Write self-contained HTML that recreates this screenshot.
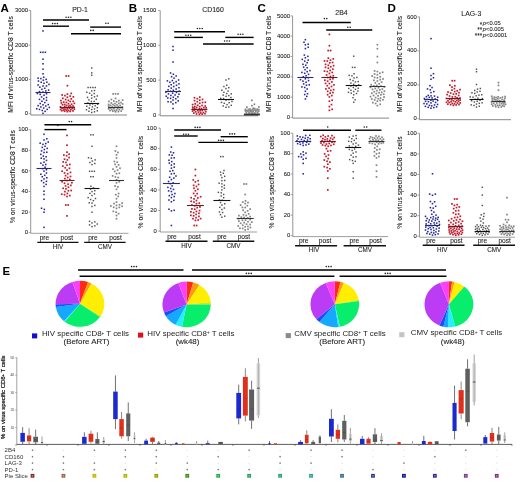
<!DOCTYPE html>
<html><head><meta charset="utf-8"><style>
html,body{margin:0;padding:0;background:#fff;overflow:hidden;}
svg{display:block;font-family:"Liberation Sans", sans-serif;filter:blur(0.3px);}
</style></head><body>
<svg width="520" height="482" viewBox="0 0 520 482">
<rect width="520" height="482" fill="#fff"/>
<text x="0.40" y="11.70" font-size="11.6" text-anchor="start" fill="#000" font-weight="bold"  >A</text>
<text x="128.80" y="12.00" font-size="11.6" text-anchor="start" fill="#000" font-weight="bold"  >B</text>
<text x="257.60" y="12.00" font-size="11.6" text-anchor="start" fill="#000" font-weight="bold"  >C</text>
<text x="387.60" y="12.00" font-size="11.6" text-anchor="start" fill="#000" font-weight="bold"  >D</text>
<text x="80.00" y="11.68" font-size="6.9" text-anchor="middle" fill="#222" font-weight="normal" stroke="#222" stroke-width="0.08" >PD-1</text>
<text x="213.00" y="11.58" font-size="6.9" text-anchor="middle" fill="#222" font-weight="normal" stroke="#222" stroke-width="0.08" >CD160</text>
<text x="341.50" y="15.38" font-size="6.9" text-anchor="middle" fill="#222" font-weight="normal" stroke="#222" stroke-width="0.08" >2B4</text>
<text x="471.30" y="15.58" font-size="6.9" text-anchor="middle" fill="#222" font-weight="normal" stroke="#222" stroke-width="0.08" >LAG-3</text>
<text x="482.20" y="26.60" font-size="6.4" text-anchor="end" fill="#222" font-weight="normal" stroke="#222" stroke-width="0.08" >*</text>
<text x="482.20" y="32.00" font-size="6.4" text-anchor="end" fill="#222" font-weight="normal" stroke="#222" stroke-width="0.08" >**</text>
<text x="482.20" y="37.80" font-size="6.4" text-anchor="end" fill="#222" font-weight="normal" stroke="#222" stroke-width="0.08" >***</text>
<text x="482.80" y="25.49" font-size="5.8" text-anchor="start" fill="#222" font-weight="normal" stroke="#222" stroke-width="0.08" ><tspan font-style="italic">p</tspan>&lt;0.05</text>
<text x="482.80" y="30.89" font-size="5.8" text-anchor="start" fill="#222" font-weight="normal" stroke="#222" stroke-width="0.08" ><tspan font-style="italic">p</tspan>&lt;0.005</text>
<text x="482.80" y="36.69" font-size="5.8" text-anchor="start" fill="#222" font-weight="normal" stroke="#222" stroke-width="0.08" ><tspan font-style="italic">p</tspan>&lt;0.0001</text>
<line x1="30.70" y1="10.40" x2="30.70" y2="115.00" stroke="#8a8a8a" stroke-width="0.9" />
<line x1="30.70" y1="115.00" x2="127.00" y2="115.00" stroke="#707070" stroke-width="0.85" />
<line x1="28.70" y1="10.40" x2="30.70" y2="10.40" stroke="#8a8a8a" stroke-width="0.8" />
<text x="28.10" y="12.02" font-size="5.9" text-anchor="end" fill="#222" font-weight="normal" stroke="#222" stroke-width="0.08" >3000</text>
<line x1="28.70" y1="45.20" x2="30.70" y2="45.20" stroke="#8a8a8a" stroke-width="0.8" />
<text x="28.10" y="46.82" font-size="5.9" text-anchor="end" fill="#222" font-weight="normal" stroke="#222" stroke-width="0.08" >2000</text>
<line x1="28.70" y1="79.50" x2="30.70" y2="79.50" stroke="#8a8a8a" stroke-width="0.8" />
<text x="28.10" y="81.12" font-size="5.9" text-anchor="end" fill="#222" font-weight="normal" stroke="#222" stroke-width="0.08" >1000</text>
<line x1="28.70" y1="113.40" x2="30.70" y2="113.40" stroke="#8a8a8a" stroke-width="0.8" />
<text x="28.10" y="115.02" font-size="5.9" text-anchor="end" fill="#222" font-weight="normal" stroke="#222" stroke-width="0.08" >0</text>
<rect x="42.23" y="30.12" width="1.55" height="1.55" fill="#24249c" />
<rect x="39.83" y="51.52" width="1.55" height="1.55" fill="#24249c" />
<rect x="42.23" y="51.52" width="1.55" height="1.55" fill="#24249c" />
<rect x="44.62" y="51.52" width="1.55" height="1.55" fill="#24249c" />
<rect x="42.23" y="58.43" width="1.55" height="1.55" fill="#24249c" />
<rect x="42.23" y="63.02" width="1.55" height="1.55" fill="#24249c" />
<rect x="42.23" y="68.42" width="1.55" height="1.55" fill="#24249c" />
<rect x="42.23" y="73.02" width="1.55" height="1.55" fill="#24249c" />
<rect x="42.23" y="112.57" width="1.55" height="1.55" fill="#24249c" />
<rect x="44.33" y="110.57" width="1.55" height="1.55" fill="#24249c" />
<rect x="41.52" y="109.73" width="1.55" height="1.55" fill="#24249c" />
<rect x="38.73" y="108.65" width="1.55" height="1.55" fill="#24249c" />
<rect x="46.43" y="108.61" width="1.55" height="1.55" fill="#24249c" />
<rect x="35.93" y="108.01" width="1.55" height="1.55" fill="#24249c" />
<rect x="42.93" y="107.21" width="1.55" height="1.55" fill="#24249c" />
<rect x="48.52" y="106.68" width="1.55" height="1.55" fill="#24249c" />
<rect x="40.12" y="106.13" width="1.55" height="1.55" fill="#24249c" />
<rect x="45.02" y="105.24" width="1.55" height="1.55" fill="#24249c" />
<rect x="37.33" y="104.91" width="1.55" height="1.55" fill="#24249c" />
<rect x="42.23" y="104.06" width="1.55" height="1.55" fill="#24249c" />
<rect x="47.48" y="103.81" width="1.55" height="1.55" fill="#24249c" />
<rect x="39.43" y="102.75" width="1.55" height="1.55" fill="#24249c" />
<rect x="43.98" y="101.79" width="1.55" height="1.55" fill="#24249c" />
<rect x="41.18" y="100.48" width="1.55" height="1.55" fill="#24249c" />
<rect x="45.73" y="99.57" width="1.55" height="1.55" fill="#24249c" />
<rect x="38.73" y="98.63" width="1.55" height="1.55" fill="#24249c" />
<rect x="42.93" y="98.06" width="1.55" height="1.55" fill="#24249c" />
<rect x="45.73" y="96.75" width="1.55" height="1.55" fill="#24249c" />
<rect x="40.83" y="96.18" width="1.55" height="1.55" fill="#24249c" />
<rect x="43.27" y="94.47" width="1.55" height="1.55" fill="#24249c" />
<rect x="39.43" y="93.61" width="1.55" height="1.55" fill="#24249c" />
<rect x="45.73" y="92.99" width="1.55" height="1.55" fill="#24249c" />
<rect x="36.62" y="92.70" width="1.55" height="1.55" fill="#24249c" />
<rect x="42.23" y="91.26" width="1.55" height="1.55" fill="#24249c" />
<rect x="38.73" y="90.84" width="1.55" height="1.55" fill="#24249c" />
<rect x="45.02" y="90.18" width="1.55" height="1.55" fill="#24249c" />
<rect x="47.83" y="89.31" width="1.55" height="1.55" fill="#24249c" />
<rect x="41.18" y="88.55" width="1.55" height="1.55" fill="#24249c" />
<rect x="43.98" y="87.50" width="1.55" height="1.55" fill="#24249c" />
<rect x="39.08" y="86.43" width="1.55" height="1.55" fill="#24249c" />
<rect x="42.23" y="85.23" width="1.55" height="1.55" fill="#24249c" />
<rect x="45.73" y="85.18" width="1.55" height="1.55" fill="#24249c" />
<rect x="37.33" y="84.23" width="1.55" height="1.55" fill="#24249c" />
<rect x="48.18" y="83.61" width="1.55" height="1.55" fill="#24249c" />
<rect x="43.27" y="82.56" width="1.55" height="1.55" fill="#24249c" />
<rect x="40.48" y="81.49" width="1.55" height="1.55" fill="#24249c" />
<rect x="46.08" y="81.43" width="1.55" height="1.55" fill="#24249c" />
<rect x="37.68" y="80.28" width="1.55" height="1.55" fill="#24249c" />
<rect x="42.58" y="79.41" width="1.55" height="1.55" fill="#24249c" />
<rect x="45.38" y="78.60" width="1.55" height="1.55" fill="#24249c" />
<rect x="40.12" y="77.79" width="1.55" height="1.55" fill="#24249c" />
<rect x="37.33" y="77.39" width="1.55" height="1.55" fill="#24249c" />
<rect x="42.93" y="76.46" width="1.55" height="1.55" fill="#24249c" />
<rect x="65.35" y="75.15" width="1.70" height="1.70" fill="#c01c2c" />
<rect x="67.75" y="75.15" width="1.70" height="1.70" fill="#c01c2c" />
<rect x="66.55" y="84.85" width="1.70" height="1.70" fill="#c01c2c" />
<rect x="66.55" y="110.81" width="1.70" height="1.70" fill="#c01c2c" />
<rect x="69.35" y="110.57" width="1.70" height="1.70" fill="#c01c2c" />
<rect x="63.75" y="110.37" width="1.70" height="1.70" fill="#c01c2c" />
<rect x="72.15" y="110.04" width="1.70" height="1.70" fill="#c01c2c" />
<rect x="60.95" y="109.84" width="1.70" height="1.70" fill="#c01c2c" />
<rect x="67.68" y="109.56" width="1.70" height="1.70" fill="#c01c2c" />
<rect x="65.50" y="109.38" width="1.70" height="1.70" fill="#c01c2c" />
<rect x="62.76" y="109.20" width="1.70" height="1.70" fill="#c01c2c" />
<rect x="70.04" y="108.84" width="1.70" height="1.70" fill="#c01c2c" />
<rect x="59.64" y="108.61" width="1.70" height="1.70" fill="#c01c2c" />
<rect x="73.50" y="108.31" width="1.70" height="1.70" fill="#c01c2c" />
<rect x="64.13" y="108.23" width="1.70" height="1.70" fill="#c01c2c" />
<rect x="66.56" y="108.02" width="1.70" height="1.70" fill="#c01c2c" />
<rect x="71.45" y="107.68" width="1.70" height="1.70" fill="#c01c2c" />
<rect x="61.17" y="107.50" width="1.70" height="1.70" fill="#c01c2c" />
<rect x="68.68" y="107.30" width="1.70" height="1.70" fill="#c01c2c" />
<rect x="62.68" y="107.06" width="1.70" height="1.70" fill="#c01c2c" />
<rect x="65.59" y="106.64" width="1.70" height="1.70" fill="#c01c2c" />
<rect x="73.14" y="106.55" width="1.70" height="1.70" fill="#c01c2c" />
<rect x="70.13" y="106.21" width="1.70" height="1.70" fill="#c01c2c" />
<rect x="59.64" y="105.98" width="1.70" height="1.70" fill="#c01c2c" />
<rect x="63.90" y="105.66" width="1.70" height="1.70" fill="#c01c2c" />
<rect x="67.83" y="105.45" width="1.70" height="1.70" fill="#c01c2c" />
<rect x="72.18" y="105.16" width="1.70" height="1.70" fill="#c01c2c" />
<rect x="69.24" y="104.78" width="1.70" height="1.70" fill="#c01c2c" />
<rect x="65.71" y="104.53" width="1.70" height="1.70" fill="#c01c2c" />
<rect x="61.65" y="103.90" width="1.70" height="1.70" fill="#c01c2c" />
<rect x="63.78" y="103.58" width="1.70" height="1.70" fill="#c01c2c" />
<rect x="70.77" y="103.39" width="1.70" height="1.70" fill="#c01c2c" />
<rect x="67.57" y="102.95" width="1.70" height="1.70" fill="#c01c2c" />
<rect x="73.55" y="102.51" width="1.70" height="1.70" fill="#c01c2c" />
<rect x="60.56" y="102.11" width="1.70" height="1.70" fill="#c01c2c" />
<rect x="65.54" y="101.54" width="1.70" height="1.70" fill="#c01c2c" />
<rect x="62.89" y="101.25" width="1.70" height="1.70" fill="#c01c2c" />
<rect x="69.35" y="100.66" width="1.70" height="1.70" fill="#c01c2c" />
<rect x="72.34" y="100.43" width="1.70" height="1.70" fill="#c01c2c" />
<rect x="60.10" y="99.79" width="1.70" height="1.70" fill="#c01c2c" />
<rect x="67.47" y="99.53" width="1.70" height="1.70" fill="#c01c2c" />
<rect x="64.80" y="98.67" width="1.70" height="1.70" fill="#c01c2c" />
<rect x="70.40" y="98.04" width="1.70" height="1.70" fill="#c01c2c" />
<rect x="62.00" y="97.49" width="1.70" height="1.70" fill="#c01c2c" />
<rect x="66.55" y="96.37" width="1.70" height="1.70" fill="#c01c2c" />
<rect x="72.50" y="96.01" width="1.70" height="1.70" fill="#c01c2c" />
<rect x="69.35" y="95.23" width="1.70" height="1.70" fill="#c01c2c" />
<rect x="64.10" y="94.78" width="1.70" height="1.70" fill="#c01c2c" />
<rect x="61.30" y="94.11" width="1.70" height="1.70" fill="#c01c2c" />
<rect x="66.55" y="93.27" width="1.70" height="1.70" fill="#c01c2c" />
<rect x="70.40" y="92.58" width="1.70" height="1.70" fill="#c01c2c" />
<rect x="90.98" y="67.28" width="1.45" height="1.45" fill="#505050" />
<rect x="90.98" y="72.18" width="1.45" height="1.45" fill="#505050" />
<rect x="90.98" y="74.58" width="1.45" height="1.45" fill="#505050" />
<rect x="87.38" y="86.78" width="1.45" height="1.45" fill="#505050" />
<rect x="89.78" y="86.78" width="1.45" height="1.45" fill="#505050" />
<rect x="92.18" y="86.78" width="1.45" height="1.45" fill="#505050" />
<rect x="94.58" y="86.78" width="1.45" height="1.45" fill="#505050" />
<rect x="90.98" y="111.75" width="1.45" height="1.45" fill="#505050" />
<rect x="93.78" y="111.07" width="1.45" height="1.45" fill="#505050" />
<rect x="88.18" y="110.55" width="1.45" height="1.45" fill="#505050" />
<rect x="96.58" y="110.06" width="1.45" height="1.45" fill="#505050" />
<rect x="85.73" y="109.07" width="1.45" height="1.45" fill="#505050" />
<rect x="90.98" y="108.83" width="1.45" height="1.45" fill="#505050" />
<rect x="93.78" y="108.21" width="1.45" height="1.45" fill="#505050" />
<rect x="88.53" y="107.35" width="1.45" height="1.45" fill="#505050" />
<rect x="96.58" y="106.93" width="1.45" height="1.45" fill="#505050" />
<rect x="91.68" y="106.10" width="1.45" height="1.45" fill="#505050" />
<rect x="86.08" y="105.57" width="1.45" height="1.45" fill="#505050" />
<rect x="94.48" y="105.03" width="1.45" height="1.45" fill="#505050" />
<rect x="89.23" y="104.28" width="1.45" height="1.45" fill="#505050" />
<rect x="96.93" y="103.58" width="1.45" height="1.45" fill="#505050" />
<rect x="92.03" y="103.24" width="1.45" height="1.45" fill="#505050" />
<rect x="87.13" y="102.28" width="1.45" height="1.45" fill="#505050" />
<rect x="90.63" y="100.76" width="1.45" height="1.45" fill="#505050" />
<rect x="93.43" y="100.62" width="1.45" height="1.45" fill="#505050" />
<rect x="88.18" y="99.16" width="1.45" height="1.45" fill="#505050" />
<rect x="95.53" y="98.56" width="1.45" height="1.45" fill="#505050" />
<rect x="90.98" y="97.37" width="1.45" height="1.45" fill="#505050" />
<rect x="86.78" y="96.65" width="1.45" height="1.45" fill="#505050" />
<rect x="93.78" y="96.06" width="1.45" height="1.45" fill="#505050" />
<rect x="96.58" y="95.22" width="1.45" height="1.45" fill="#505050" />
<rect x="90.98" y="94.51" width="1.45" height="1.45" fill="#505050" />
<rect x="93.43" y="92.79" width="1.45" height="1.45" fill="#505050" />
<rect x="88.88" y="92.53" width="1.45" height="1.45" fill="#505050" />
<rect x="86.08" y="91.54" width="1.45" height="1.45" fill="#505050" />
<rect x="90.98" y="90.19" width="1.45" height="1.45" fill="#505050" />
<rect x="93.78" y="89.82" width="1.45" height="1.45" fill="#505050" />
<rect x="112.35" y="93.05" width="1.70" height="1.70" fill="#848484" />
<rect x="114.75" y="93.05" width="1.70" height="1.70" fill="#848484" />
<rect x="117.15" y="93.05" width="1.70" height="1.70" fill="#848484" />
<rect x="114.75" y="110.92" width="1.70" height="1.70" fill="#848484" />
<rect x="117.55" y="110.73" width="1.70" height="1.70" fill="#848484" />
<rect x="111.95" y="110.37" width="1.70" height="1.70" fill="#848484" />
<rect x="120.35" y="110.18" width="1.70" height="1.70" fill="#848484" />
<rect x="109.15" y="109.69" width="1.70" height="1.70" fill="#848484" />
<rect x="113.67" y="109.59" width="1.70" height="1.70" fill="#848484" />
<rect x="115.72" y="109.17" width="1.70" height="1.70" fill="#848484" />
<rect x="118.46" y="108.84" width="1.70" height="1.70" fill="#848484" />
<rect x="110.98" y="108.60" width="1.70" height="1.70" fill="#848484" />
<rect x="121.61" y="108.25" width="1.70" height="1.70" fill="#848484" />
<rect x="107.76" y="108.00" width="1.70" height="1.70" fill="#848484" />
<rect x="112.95" y="107.71" width="1.70" height="1.70" fill="#848484" />
<rect x="116.87" y="107.52" width="1.70" height="1.70" fill="#848484" />
<rect x="109.58" y="107.18" width="1.70" height="1.70" fill="#848484" />
<rect x="119.43" y="106.85" width="1.70" height="1.70" fill="#848484" />
<rect x="115.13" y="106.47" width="1.70" height="1.70" fill="#848484" />
<rect x="111.28" y="106.16" width="1.70" height="1.70" fill="#848484" />
<rect x="121.48" y="106.04" width="1.70" height="1.70" fill="#848484" />
<rect x="117.44" y="105.73" width="1.70" height="1.70" fill="#848484" />
<rect x="107.84" y="105.36" width="1.70" height="1.70" fill="#848484" />
<rect x="113.82" y="104.97" width="1.70" height="1.70" fill="#848484" />
<rect x="119.28" y="104.66" width="1.70" height="1.70" fill="#848484" />
<rect x="109.70" y="104.48" width="1.70" height="1.70" fill="#848484" />
<rect x="116.18" y="104.11" width="1.70" height="1.70" fill="#848484" />
<rect x="112.12" y="103.74" width="1.70" height="1.70" fill="#848484" />
<rect x="107.79" y="103.65" width="1.70" height="1.70" fill="#848484" />
<rect x="121.75" y="103.10" width="1.70" height="1.70" fill="#848484" />
<rect x="114.18" y="102.76" width="1.70" height="1.70" fill="#848484" />
<rect x="118.02" y="102.50" width="1.70" height="1.70" fill="#848484" />
<rect x="110.50" y="102.18" width="1.70" height="1.70" fill="#848484" />
<rect x="120.20" y="101.75" width="1.70" height="1.70" fill="#848484" />
<rect x="115.72" y="101.02" width="1.70" height="1.70" fill="#848484" />
<rect x="108.10" y="100.57" width="1.70" height="1.70" fill="#848484" />
<rect x="113.00" y="100.20" width="1.70" height="1.70" fill="#848484" />
<rect x="118.04" y="99.72" width="1.70" height="1.70" fill="#848484" />
<rect x="121.75" y="99.24" width="1.70" height="1.70" fill="#848484" />
<rect x="110.55" y="98.65" width="1.70" height="1.70" fill="#848484" />
<rect x="114.75" y="97.57" width="1.70" height="1.70" fill="#848484" />
<line x1="35.50" y1="92.50" x2="50.50" y2="92.50" stroke="#2a2a70" stroke-width="1.1" />
<line x1="59.90" y1="107.50" x2="74.90" y2="107.50" stroke="#602028" stroke-width="1.1" />
<line x1="84.20" y1="103.50" x2="99.20" y2="103.50" stroke="#111111" stroke-width="1.1" />
<line x1="108.10" y1="107.50" x2="123.10" y2="107.50" stroke="#333333" stroke-width="1.1" />
<text x="0" y="0" font-size="6.75" text-anchor="middle" fill="#111" stroke="#111" stroke-width="0.08" transform="translate(13.03,64.40) rotate(-90)">MFI of virus-specific CD8 T cells</text>
<line x1="43.00" y1="20.00" x2="89.00" y2="20.00" stroke="#000" stroke-width="1.4" />
<circle cx="66.10" cy="17.30" r="0.8" fill="#222"/>
<circle cx="68.50" cy="17.30" r="0.8" fill="#222"/>
<circle cx="70.90" cy="17.30" r="0.8" fill="#222"/>
<line x1="43.00" y1="26.20" x2="69.00" y2="26.20" stroke="#000" stroke-width="1.4" />
<circle cx="52.60" cy="23.60" r="0.8" fill="#222"/>
<circle cx="55.00" cy="23.60" r="0.8" fill="#222"/>
<circle cx="57.40" cy="23.60" r="0.8" fill="#222"/>
<line x1="90.20" y1="27.10" x2="121.00" y2="27.10" stroke="#000" stroke-width="1.4" />
<circle cx="105.80" cy="23.30" r="0.8" fill="#222"/>
<circle cx="108.20" cy="23.30" r="0.8" fill="#222"/>
<line x1="71.00" y1="33.80" x2="121.00" y2="33.80" stroke="#000" stroke-width="1.4" />
<circle cx="90.80" cy="30.40" r="0.8" fill="#222"/>
<circle cx="93.20" cy="30.40" r="0.8" fill="#222"/>
<line x1="30.70" y1="129.70" x2="30.70" y2="233.30" stroke="#8a8a8a" stroke-width="0.9" />
<line x1="30.70" y1="233.30" x2="128.50" y2="233.30" stroke="#8c8c8c" stroke-width="0.85" />
<line x1="28.70" y1="129.70" x2="30.70" y2="129.70" stroke="#8a8a8a" stroke-width="0.8" />
<text x="28.10" y="131.32" font-size="5.9" text-anchor="end" fill="#222" font-weight="normal" stroke="#222" stroke-width="0.08" >100</text>
<line x1="28.70" y1="150.30" x2="30.70" y2="150.30" stroke="#8a8a8a" stroke-width="0.8" />
<text x="28.10" y="151.92" font-size="5.9" text-anchor="end" fill="#222" font-weight="normal" stroke="#222" stroke-width="0.08" >80</text>
<line x1="28.70" y1="170.90" x2="30.70" y2="170.90" stroke="#8a8a8a" stroke-width="0.8" />
<text x="28.10" y="172.52" font-size="5.9" text-anchor="end" fill="#222" font-weight="normal" stroke="#222" stroke-width="0.08" >60</text>
<line x1="28.70" y1="191.50" x2="30.70" y2="191.50" stroke="#8a8a8a" stroke-width="0.8" />
<text x="28.10" y="193.12" font-size="5.9" text-anchor="end" fill="#222" font-weight="normal" stroke="#222" stroke-width="0.08" >40</text>
<line x1="28.70" y1="212.10" x2="30.70" y2="212.10" stroke="#8a8a8a" stroke-width="0.8" />
<text x="28.10" y="213.72" font-size="5.9" text-anchor="end" fill="#222" font-weight="normal" stroke="#222" stroke-width="0.08" >20</text>
<line x1="28.70" y1="232.70" x2="30.70" y2="232.70" stroke="#8a8a8a" stroke-width="0.8" />
<text x="28.10" y="234.32" font-size="5.9" text-anchor="end" fill="#222" font-weight="normal" stroke="#222" stroke-width="0.08" >0</text>
<rect x="43.23" y="133.53" width="1.55" height="1.55" fill="#24249c" />
<rect x="43.23" y="226.62" width="1.55" height="1.55" fill="#24249c" />
<rect x="43.23" y="211.44" width="1.55" height="1.55" fill="#24249c" />
<rect x="43.58" y="208.65" width="1.55" height="1.55" fill="#24249c" />
<rect x="40.77" y="207.50" width="1.55" height="1.55" fill="#24249c" />
<rect x="43.23" y="198.48" width="1.55" height="1.55" fill="#24249c" />
<rect x="43.23" y="193.68" width="1.55" height="1.55" fill="#24249c" />
<rect x="43.23" y="190.43" width="1.55" height="1.55" fill="#24249c" />
<rect x="43.23" y="185.69" width="1.55" height="1.55" fill="#24249c" />
<rect x="45.33" y="183.65" width="1.55" height="1.55" fill="#24249c" />
<rect x="42.88" y="181.88" width="1.55" height="1.55" fill="#24249c" />
<rect x="45.68" y="180.55" width="1.55" height="1.55" fill="#24249c" />
<rect x="40.77" y="179.91" width="1.55" height="1.55" fill="#24249c" />
<rect x="43.23" y="178.18" width="1.55" height="1.55" fill="#24249c" />
<rect x="46.02" y="177.00" width="1.55" height="1.55" fill="#24249c" />
<rect x="41.48" y="175.99" width="1.55" height="1.55" fill="#24249c" />
<rect x="43.93" y="174.59" width="1.55" height="1.55" fill="#24249c" />
<rect x="40.08" y="173.50" width="1.55" height="1.55" fill="#24249c" />
<rect x="45.68" y="172.28" width="1.55" height="1.55" fill="#24249c" />
<rect x="43.23" y="170.41" width="1.55" height="1.55" fill="#24249c" />
<rect x="45.68" y="168.98" width="1.55" height="1.55" fill="#24249c" />
<rect x="41.83" y="167.87" width="1.55" height="1.55" fill="#24249c" />
<rect x="44.27" y="166.42" width="1.55" height="1.55" fill="#24249c" />
<rect x="42.18" y="164.41" width="1.55" height="1.55" fill="#24249c" />
<rect x="44.98" y="163.70" width="1.55" height="1.55" fill="#24249c" />
<rect x="40.08" y="162.40" width="1.55" height="1.55" fill="#24249c" />
<rect x="43.23" y="161.37" width="1.55" height="1.55" fill="#24249c" />
<rect x="45.68" y="159.64" width="1.55" height="1.55" fill="#24249c" />
<rect x="43.23" y="158.09" width="1.55" height="1.55" fill="#24249c" />
<rect x="40.43" y="157.45" width="1.55" height="1.55" fill="#24249c" />
<rect x="45.33" y="156.03" width="1.55" height="1.55" fill="#24249c" />
<rect x="42.52" y="155.32" width="1.55" height="1.55" fill="#24249c" />
<rect x="40.08" y="153.58" width="1.55" height="1.55" fill="#24249c" />
<rect x="43.23" y="151.74" width="1.55" height="1.55" fill="#24249c" />
<rect x="46.02" y="151.44" width="1.55" height="1.55" fill="#24249c" />
<rect x="40.77" y="150.11" width="1.55" height="1.55" fill="#24249c" />
<rect x="43.58" y="148.76" width="1.55" height="1.55" fill="#24249c" />
<rect x="46.38" y="147.63" width="1.55" height="1.55" fill="#24249c" />
<rect x="41.48" y="146.61" width="1.55" height="1.55" fill="#24249c" />
<rect x="44.27" y="145.47" width="1.55" height="1.55" fill="#24249c" />
<rect x="42.18" y="143.60" width="1.55" height="1.55" fill="#24249c" />
<rect x="44.98" y="142.74" width="1.55" height="1.55" fill="#24249c" />
<rect x="39.38" y="142.39" width="1.55" height="1.55" fill="#24249c" />
<rect x="47.43" y="141.23" width="1.55" height="1.55" fill="#24249c" />
<rect x="43.23" y="139.23" width="1.55" height="1.55" fill="#24249c" />
<rect x="46.02" y="137.96" width="1.55" height="1.55" fill="#24249c" />
<rect x="66.15" y="134.55" width="1.70" height="1.70" fill="#c01c2c" />
<rect x="66.15" y="144.35" width="1.70" height="1.70" fill="#c01c2c" />
<rect x="64.95" y="204.15" width="1.70" height="1.70" fill="#c01c2c" />
<rect x="67.35" y="204.15" width="1.70" height="1.70" fill="#c01c2c" />
<rect x="66.15" y="215.05" width="1.70" height="1.70" fill="#c01c2c" />
<rect x="66.15" y="195.63" width="1.70" height="1.70" fill="#c01c2c" />
<rect x="68.95" y="194.74" width="1.70" height="1.70" fill="#c01c2c" />
<rect x="63.70" y="193.82" width="1.70" height="1.70" fill="#c01c2c" />
<rect x="60.90" y="193.42" width="1.70" height="1.70" fill="#c01c2c" />
<rect x="66.50" y="192.58" width="1.70" height="1.70" fill="#c01c2c" />
<rect x="64.05" y="190.77" width="1.70" height="1.70" fill="#c01c2c" />
<rect x="67.55" y="189.89" width="1.70" height="1.70" fill="#c01c2c" />
<rect x="70.35" y="189.67" width="1.70" height="1.70" fill="#c01c2c" />
<rect x="65.10" y="188.06" width="1.70" height="1.70" fill="#c01c2c" />
<rect x="62.30" y="187.46" width="1.70" height="1.70" fill="#c01c2c" />
<rect x="67.55" y="186.35" width="1.70" height="1.70" fill="#c01c2c" />
<rect x="64.75" y="185.08" width="1.70" height="1.70" fill="#c01c2c" />
<rect x="70.00" y="184.55" width="1.70" height="1.70" fill="#c01c2c" />
<rect x="67.20" y="183.35" width="1.70" height="1.70" fill="#c01c2c" />
<rect x="63.70" y="182.41" width="1.70" height="1.70" fill="#c01c2c" />
<rect x="71.05" y="181.87" width="1.70" height="1.70" fill="#c01c2c" />
<rect x="61.25" y="180.89" width="1.70" height="1.70" fill="#c01c2c" />
<rect x="66.15" y="179.69" width="1.70" height="1.70" fill="#c01c2c" />
<rect x="68.95" y="178.55" width="1.70" height="1.70" fill="#c01c2c" />
<rect x="64.05" y="177.78" width="1.70" height="1.70" fill="#c01c2c" />
<rect x="66.85" y="176.60" width="1.70" height="1.70" fill="#c01c2c" />
<rect x="69.65" y="175.60" width="1.70" height="1.70" fill="#c01c2c" />
<rect x="64.75" y="174.75" width="1.70" height="1.70" fill="#c01c2c" />
<rect x="66.85" y="172.89" width="1.70" height="1.70" fill="#c01c2c" />
<rect x="63.70" y="172.13" width="1.70" height="1.70" fill="#c01c2c" />
<rect x="69.65" y="171.56" width="1.70" height="1.70" fill="#c01c2c" />
<rect x="61.25" y="170.39" width="1.70" height="1.70" fill="#c01c2c" />
<rect x="66.15" y="169.29" width="1.70" height="1.70" fill="#c01c2c" />
<rect x="68.60" y="167.45" width="1.70" height="1.70" fill="#c01c2c" />
<rect x="64.40" y="166.88" width="1.70" height="1.70" fill="#c01c2c" />
<rect x="61.95" y="165.29" width="1.70" height="1.70" fill="#c01c2c" />
<rect x="66.15" y="164.22" width="1.70" height="1.70" fill="#c01c2c" />
<rect x="68.95" y="163.61" width="1.70" height="1.70" fill="#c01c2c" />
<rect x="65.10" y="161.58" width="1.70" height="1.70" fill="#c01c2c" />
<rect x="62.30" y="161.07" width="1.70" height="1.70" fill="#c01c2c" />
<rect x="66.50" y="159.04" width="1.70" height="1.70" fill="#c01c2c" />
<rect x="63.70" y="158.37" width="1.70" height="1.70" fill="#c01c2c" />
<rect x="68.25" y="156.71" width="1.70" height="1.70" fill="#c01c2c" />
<rect x="65.80" y="154.89" width="1.70" height="1.70" fill="#c01c2c" />
<rect x="63.00" y="154.24" width="1.70" height="1.70" fill="#c01c2c" />
<rect x="68.25" y="153.29" width="1.70" height="1.70" fill="#c01c2c" />
<rect x="66.15" y="151.30" width="1.70" height="1.70" fill="#c01c2c" />
<rect x="90.08" y="134.08" width="1.45" height="1.45" fill="#505050" />
<rect x="92.48" y="134.08" width="1.45" height="1.45" fill="#505050" />
<rect x="91.28" y="145.58" width="1.45" height="1.45" fill="#505050" />
<rect x="88.88" y="170.58" width="1.45" height="1.45" fill="#505050" />
<rect x="91.28" y="170.58" width="1.45" height="1.45" fill="#505050" />
<rect x="93.68" y="170.58" width="1.45" height="1.45" fill="#505050" />
<rect x="90.08" y="175.97" width="1.45" height="1.45" fill="#505050" />
<rect x="92.48" y="175.97" width="1.45" height="1.45" fill="#505050" />
<rect x="91.28" y="211.47" width="1.45" height="1.45" fill="#505050" />
<rect x="91.28" y="225.88" width="1.45" height="1.45" fill="#505050" />
<rect x="94.08" y="225.14" width="1.45" height="1.45" fill="#505050" />
<rect x="88.83" y="224.18" width="1.45" height="1.45" fill="#505050" />
<rect x="96.53" y="223.30" width="1.45" height="1.45" fill="#505050" />
<rect x="91.28" y="222.19" width="1.45" height="1.45" fill="#505050" />
<rect x="94.08" y="221.11" width="1.45" height="1.45" fill="#505050" />
<rect x="88.83" y="220.63" width="1.45" height="1.45" fill="#505050" />
<rect x="91.28" y="205.75" width="1.45" height="1.45" fill="#505050" />
<rect x="94.08" y="204.68" width="1.45" height="1.45" fill="#505050" />
<rect x="91.28" y="202.35" width="1.45" height="1.45" fill="#505050" />
<rect x="88.48" y="202.08" width="1.45" height="1.45" fill="#505050" />
<rect x="92.68" y="199.91" width="1.45" height="1.45" fill="#505050" />
<rect x="89.88" y="198.79" width="1.45" height="1.45" fill="#505050" />
<rect x="94.78" y="197.75" width="1.45" height="1.45" fill="#505050" />
<rect x="87.43" y="196.94" width="1.45" height="1.45" fill="#505050" />
<rect x="91.28" y="194.84" width="1.45" height="1.45" fill="#505050" />
<rect x="93.73" y="193.18" width="1.45" height="1.45" fill="#505050" />
<rect x="89.18" y="192.71" width="1.45" height="1.45" fill="#505050" />
<rect x="91.28" y="190.85" width="1.45" height="1.45" fill="#505050" />
<rect x="94.08" y="189.93" width="1.45" height="1.45" fill="#505050" />
<rect x="89.88" y="188.38" width="1.45" height="1.45" fill="#505050" />
<rect x="92.68" y="187.14" width="1.45" height="1.45" fill="#505050" />
<rect x="90.23" y="185.53" width="1.45" height="1.45" fill="#505050" />
<rect x="91.28" y="163.85" width="1.45" height="1.45" fill="#505050" />
<rect x="94.08" y="162.77" width="1.45" height="1.45" fill="#505050" />
<rect x="89.18" y="161.79" width="1.45" height="1.45" fill="#505050" />
<rect x="91.62" y="160.30" width="1.45" height="1.45" fill="#505050" />
<rect x="94.43" y="159.16" width="1.45" height="1.45" fill="#505050" />
<rect x="90.58" y="157.61" width="1.45" height="1.45" fill="#505050" />
<rect x="87.78" y="157.02" width="1.45" height="1.45" fill="#505050" />
<rect x="115.65" y="145.45" width="1.70" height="1.70" fill="#848484" />
<rect x="115.65" y="217.83" width="1.70" height="1.70" fill="#848484" />
<rect x="115.65" y="214.67" width="1.70" height="1.70" fill="#848484" />
<rect x="117.75" y="212.80" width="1.70" height="1.70" fill="#848484" />
<rect x="115.30" y="211.30" width="1.70" height="1.70" fill="#848484" />
<rect x="112.50" y="210.55" width="1.70" height="1.70" fill="#848484" />
<rect x="115.65" y="207.53" width="1.70" height="1.70" fill="#848484" />
<rect x="118.45" y="206.56" width="1.70" height="1.70" fill="#848484" />
<rect x="112.85" y="206.43" width="1.70" height="1.70" fill="#848484" />
<rect x="121.25" y="205.43" width="1.70" height="1.70" fill="#848484" />
<rect x="110.05" y="205.12" width="1.70" height="1.70" fill="#848484" />
<rect x="115.65" y="204.54" width="1.70" height="1.70" fill="#848484" />
<rect x="118.69" y="203.92" width="1.70" height="1.70" fill="#848484" />
<rect x="113.20" y="202.79" width="1.70" height="1.70" fill="#848484" />
<rect x="121.25" y="202.36" width="1.70" height="1.70" fill="#848484" />
<rect x="115.65" y="201.23" width="1.70" height="1.70" fill="#848484" />
<rect x="115.65" y="197.84" width="1.70" height="1.70" fill="#848484" />
<rect x="117.40" y="195.57" width="1.70" height="1.70" fill="#848484" />
<rect x="114.95" y="193.81" width="1.70" height="1.70" fill="#848484" />
<rect x="117.75" y="192.67" width="1.70" height="1.70" fill="#848484" />
<rect x="115.65" y="188.51" width="1.70" height="1.70" fill="#848484" />
<rect x="117.05" y="186.05" width="1.70" height="1.70" fill="#848484" />
<rect x="114.25" y="185.16" width="1.70" height="1.70" fill="#848484" />
<rect x="115.65" y="181.95" width="1.70" height="1.70" fill="#848484" />
<rect x="118.45" y="180.96" width="1.70" height="1.70" fill="#848484" />
<rect x="115.65" y="179.01" width="1.70" height="1.70" fill="#848484" />
<rect x="117.40" y="176.70" width="1.70" height="1.70" fill="#848484" />
<rect x="114.60" y="176.11" width="1.70" height="1.70" fill="#848484" />
<rect x="111.80" y="175.05" width="1.70" height="1.70" fill="#848484" />
<rect x="115.65" y="172.89" width="1.70" height="1.70" fill="#848484" />
<rect x="118.45" y="172.44" width="1.70" height="1.70" fill="#848484" />
<rect x="113.90" y="170.58" width="1.70" height="1.70" fill="#848484" />
<rect x="116.70" y="169.22" width="1.70" height="1.70" fill="#848484" />
<rect x="112.15" y="168.33" width="1.70" height="1.70" fill="#848484" />
<rect x="119.15" y="167.40" width="1.70" height="1.70" fill="#848484" />
<rect x="115.65" y="166.00" width="1.70" height="1.70" fill="#848484" />
<rect x="117.75" y="164.07" width="1.70" height="1.70" fill="#848484" />
<rect x="114.25" y="163.51" width="1.70" height="1.70" fill="#848484" />
<rect x="116.35" y="161.35" width="1.70" height="1.70" fill="#848484" />
<rect x="113.55" y="160.65" width="1.70" height="1.70" fill="#848484" />
<rect x="115.65" y="157.13" width="1.70" height="1.70" fill="#848484" />
<rect x="115.65" y="154.04" width="1.70" height="1.70" fill="#848484" />
<rect x="117.05" y="151.58" width="1.70" height="1.70" fill="#848484" />
<rect x="114.60" y="150.13" width="1.70" height="1.70" fill="#848484" />
<line x1="36.50" y1="168.50" x2="51.50" y2="168.50" stroke="#2a2a70" stroke-width="1.1" />
<line x1="59.50" y1="180.50" x2="74.50" y2="180.50" stroke="#602028" stroke-width="1.1" />
<line x1="84.50" y1="188.50" x2="99.50" y2="188.50" stroke="#111111" stroke-width="1.1" />
<line x1="109.00" y1="180.50" x2="124.00" y2="180.50" stroke="#333333" stroke-width="1.1" />
<text x="0" y="0" font-size="6.75" text-anchor="middle" fill="#111" stroke="#111" stroke-width="0.08" transform="translate(15.03,176.60) rotate(-90)">% on virus-specific CD8 T cells</text>
<line x1="44.40" y1="124.80" x2="91.20" y2="124.80" stroke="#000" stroke-width="1.4" />
<circle cx="69.20" cy="121.60" r="0.8" fill="#222"/>
<circle cx="71.60" cy="121.60" r="0.8" fill="#222"/>
<line x1="44.40" y1="129.60" x2="66.50" y2="129.60" stroke="#000" stroke-width="1.4" />
<circle cx="57.90" cy="125.40" r="0.8" fill="#222"/>
<text x="44.40" y="239.78" font-size="6.6" text-anchor="middle" fill="#222" font-weight="normal" stroke="#222" stroke-width="0.08" >pre</text>
<text x="66.80" y="239.78" font-size="6.6" text-anchor="middle" fill="#222" font-weight="normal" stroke="#222" stroke-width="0.08" >post</text>
<text x="92.90" y="239.78" font-size="6.6" text-anchor="middle" fill="#222" font-weight="normal" stroke="#222" stroke-width="0.08" >pre</text>
<text x="115.50" y="239.78" font-size="6.6" text-anchor="middle" fill="#222" font-weight="normal" stroke="#222" stroke-width="0.08" >post</text>
<line x1="37.30" y1="242.40" x2="78.50" y2="242.40" stroke="#111" stroke-width="1.4" />
<line x1="84.20" y1="242.40" x2="125.60" y2="242.40" stroke="#111" stroke-width="1.4" />
<text x="57.90" y="248.57" font-size="6.3" text-anchor="middle" fill="#222" font-weight="normal" stroke="#222" stroke-width="0.08" >HIV</text>
<text x="104.90" y="248.57" font-size="6.3" text-anchor="middle" fill="#222" font-weight="normal" stroke="#222" stroke-width="0.08" >CMV</text>
<line x1="160.20" y1="10.50" x2="160.20" y2="115.80" stroke="#8a8a8a" stroke-width="0.9" />
<line x1="160.20" y1="115.80" x2="258.00" y2="115.80" stroke="#707070" stroke-width="0.85" />
<line x1="158.20" y1="10.50" x2="160.20" y2="10.50" stroke="#8a8a8a" stroke-width="0.8" />
<text x="156.20" y="12.12" font-size="5.9" text-anchor="end" fill="#222" font-weight="normal" stroke="#222" stroke-width="0.08" >1500</text>
<line x1="158.20" y1="45.30" x2="160.20" y2="45.30" stroke="#8a8a8a" stroke-width="0.8" />
<text x="156.20" y="46.92" font-size="5.9" text-anchor="end" fill="#222" font-weight="normal" stroke="#222" stroke-width="0.08" >1000</text>
<line x1="158.20" y1="80.10" x2="160.20" y2="80.10" stroke="#8a8a8a" stroke-width="0.8" />
<text x="156.20" y="81.72" font-size="5.9" text-anchor="end" fill="#222" font-weight="normal" stroke="#222" stroke-width="0.08" >500</text>
<line x1="158.20" y1="114.90" x2="160.20" y2="114.90" stroke="#8a8a8a" stroke-width="0.8" />
<text x="156.20" y="116.52" font-size="5.9" text-anchor="end" fill="#222" font-weight="normal" stroke="#222" stroke-width="0.08" >0</text>
<rect x="172.22" y="45.73" width="1.55" height="1.55" fill="#24249c" />
<rect x="172.22" y="49.43" width="1.55" height="1.55" fill="#24249c" />
<rect x="172.22" y="61.23" width="1.55" height="1.55" fill="#24249c" />
<rect x="172.22" y="107.72" width="1.55" height="1.55" fill="#24249c" />
<rect x="172.22" y="103.16" width="1.55" height="1.55" fill="#24249c" />
<rect x="175.03" y="101.85" width="1.55" height="1.55" fill="#24249c" />
<rect x="170.12" y="101.19" width="1.55" height="1.55" fill="#24249c" />
<rect x="167.32" y="100.96" width="1.55" height="1.55" fill="#24249c" />
<rect x="177.47" y="100.14" width="1.55" height="1.55" fill="#24249c" />
<rect x="172.22" y="99.27" width="1.55" height="1.55" fill="#24249c" />
<rect x="175.03" y="97.99" width="1.55" height="1.55" fill="#24249c" />
<rect x="169.78" y="97.55" width="1.55" height="1.55" fill="#24249c" />
<rect x="166.97" y="97.22" width="1.55" height="1.55" fill="#24249c" />
<rect x="172.57" y="96.41" width="1.55" height="1.55" fill="#24249c" />
<rect x="177.12" y="96.04" width="1.55" height="1.55" fill="#24249c" />
<rect x="165.48" y="95.44" width="1.55" height="1.55" fill="#24249c" />
<rect x="170.12" y="94.64" width="1.55" height="1.55" fill="#24249c" />
<rect x="174.32" y="94.17" width="1.55" height="1.55" fill="#24249c" />
<rect x="178.17" y="93.41" width="1.55" height="1.55" fill="#24249c" />
<rect x="167.67" y="93.13" width="1.55" height="1.55" fill="#24249c" />
<rect x="171.88" y="92.42" width="1.55" height="1.55" fill="#24249c" />
<rect x="175.72" y="91.67" width="1.55" height="1.55" fill="#24249c" />
<rect x="165.22" y="91.40" width="1.55" height="1.55" fill="#24249c" />
<rect x="169.78" y="90.45" width="1.55" height="1.55" fill="#24249c" />
<rect x="178.53" y="90.36" width="1.55" height="1.55" fill="#24249c" />
<rect x="172.57" y="89.50" width="1.55" height="1.55" fill="#24249c" />
<rect x="167.32" y="89.07" width="1.55" height="1.55" fill="#24249c" />
<rect x="175.38" y="88.26" width="1.55" height="1.55" fill="#24249c" />
<rect x="170.47" y="87.34" width="1.55" height="1.55" fill="#24249c" />
<rect x="178.17" y="86.91" width="1.55" height="1.55" fill="#24249c" />
<rect x="172.92" y="85.75" width="1.55" height="1.55" fill="#24249c" />
<rect x="168.03" y="85.56" width="1.55" height="1.55" fill="#24249c" />
<rect x="175.72" y="84.51" width="1.55" height="1.55" fill="#24249c" />
<rect x="170.47" y="83.98" width="1.55" height="1.55" fill="#24249c" />
<rect x="178.17" y="83.14" width="1.55" height="1.55" fill="#24249c" />
<rect x="172.92" y="82.22" width="1.55" height="1.55" fill="#24249c" />
<rect x="169.07" y="81.50" width="1.55" height="1.55" fill="#24249c" />
<rect x="175.38" y="80.85" width="1.55" height="1.55" fill="#24249c" />
<rect x="166.62" y="80.10" width="1.55" height="1.55" fill="#24249c" />
<rect x="171.53" y="79.75" width="1.55" height="1.55" fill="#24249c" />
<rect x="177.82" y="79.21" width="1.55" height="1.55" fill="#24249c" />
<rect x="173.28" y="77.36" width="1.55" height="1.55" fill="#24249c" />
<rect x="170.82" y="75.91" width="1.55" height="1.55" fill="#24249c" />
<rect x="175.38" y="75.20" width="1.55" height="1.55" fill="#24249c" />
<rect x="172.57" y="73.49" width="1.55" height="1.55" fill="#24249c" />
<rect x="169.78" y="72.20" width="1.55" height="1.55" fill="#24249c" />
<rect x="198.55" y="113.40" width="1.70" height="1.70" fill="#c01c2c" />
<rect x="201.35" y="113.26" width="1.70" height="1.70" fill="#c01c2c" />
<rect x="195.75" y="113.10" width="1.70" height="1.70" fill="#c01c2c" />
<rect x="204.15" y="112.84" width="1.70" height="1.70" fill="#c01c2c" />
<rect x="192.95" y="112.29" width="1.70" height="1.70" fill="#c01c2c" />
<rect x="199.91" y="112.08" width="1.70" height="1.70" fill="#c01c2c" />
<rect x="202.54" y="111.72" width="1.70" height="1.70" fill="#c01c2c" />
<rect x="197.59" y="111.39" width="1.70" height="1.70" fill="#c01c2c" />
<rect x="194.83" y="111.02" width="1.70" height="1.70" fill="#c01c2c" />
<rect x="204.89" y="110.76" width="1.70" height="1.70" fill="#c01c2c" />
<rect x="191.73" y="110.26" width="1.70" height="1.70" fill="#c01c2c" />
<rect x="199.28" y="109.95" width="1.70" height="1.70" fill="#c01c2c" />
<rect x="201.42" y="109.67" width="1.70" height="1.70" fill="#c01c2c" />
<rect x="197.00" y="109.57" width="1.70" height="1.70" fill="#c01c2c" />
<rect x="193.38" y="109.32" width="1.70" height="1.70" fill="#c01c2c" />
<rect x="203.94" y="108.84" width="1.70" height="1.70" fill="#c01c2c" />
<rect x="195.04" y="108.48" width="1.70" height="1.70" fill="#c01c2c" />
<rect x="191.78" y="108.27" width="1.70" height="1.70" fill="#c01c2c" />
<rect x="198.49" y="108.00" width="1.70" height="1.70" fill="#c01c2c" />
<rect x="200.61" y="107.81" width="1.70" height="1.70" fill="#c01c2c" />
<rect x="193.42" y="107.28" width="1.70" height="1.70" fill="#c01c2c" />
<rect x="205.36" y="107.06" width="1.70" height="1.70" fill="#c01c2c" />
<rect x="202.95" y="106.79" width="1.70" height="1.70" fill="#c01c2c" />
<rect x="195.80" y="106.54" width="1.70" height="1.70" fill="#c01c2c" />
<rect x="191.86" y="106.32" width="1.70" height="1.70" fill="#c01c2c" />
<rect x="198.85" y="105.87" width="1.70" height="1.70" fill="#c01c2c" />
<rect x="193.89" y="105.71" width="1.70" height="1.70" fill="#c01c2c" />
<rect x="204.38" y="105.19" width="1.70" height="1.70" fill="#c01c2c" />
<rect x="201.19" y="104.68" width="1.70" height="1.70" fill="#c01c2c" />
<rect x="196.80" y="104.44" width="1.70" height="1.70" fill="#c01c2c" />
<rect x="191.77" y="103.74" width="1.70" height="1.70" fill="#c01c2c" />
<rect x="194.34" y="103.02" width="1.70" height="1.70" fill="#c01c2c" />
<rect x="198.90" y="102.44" width="1.70" height="1.70" fill="#c01c2c" />
<rect x="201.70" y="101.58" width="1.70" height="1.70" fill="#c01c2c" />
<rect x="204.50" y="101.40" width="1.70" height="1.70" fill="#c01c2c" />
<rect x="196.45" y="100.87" width="1.70" height="1.70" fill="#c01c2c" />
<rect x="193.65" y="99.76" width="1.70" height="1.70" fill="#c01c2c" />
<rect x="198.90" y="99.30" width="1.70" height="1.70" fill="#c01c2c" />
<rect x="201.70" y="98.55" width="1.70" height="1.70" fill="#c01c2c" />
<rect x="196.45" y="97.83" width="1.70" height="1.70" fill="#c01c2c" />
<rect x="193.65" y="96.87" width="1.70" height="1.70" fill="#c01c2c" />
<rect x="198.90" y="96.24" width="1.70" height="1.70" fill="#c01c2c" />
<rect x="225.28" y="106.55" width="1.45" height="1.45" fill="#505050" />
<rect x="228.08" y="106.25" width="1.45" height="1.45" fill="#505050" />
<rect x="222.47" y="105.23" width="1.45" height="1.45" fill="#505050" />
<rect x="230.53" y="104.60" width="1.45" height="1.45" fill="#505050" />
<rect x="226.33" y="103.89" width="1.45" height="1.45" fill="#505050" />
<rect x="223.53" y="102.57" width="1.45" height="1.45" fill="#505050" />
<rect x="228.43" y="101.98" width="1.45" height="1.45" fill="#505050" />
<rect x="220.72" y="101.67" width="1.45" height="1.45" fill="#505050" />
<rect x="231.22" y="100.74" width="1.45" height="1.45" fill="#505050" />
<rect x="225.28" y="99.50" width="1.45" height="1.45" fill="#505050" />
<rect x="228.08" y="98.89" width="1.45" height="1.45" fill="#505050" />
<rect x="222.83" y="97.80" width="1.45" height="1.45" fill="#505050" />
<rect x="220.03" y="97.66" width="1.45" height="1.45" fill="#505050" />
<rect x="230.18" y="96.80" width="1.45" height="1.45" fill="#505050" />
<rect x="225.28" y="95.60" width="1.45" height="1.45" fill="#505050" />
<rect x="228.08" y="94.87" width="1.45" height="1.45" fill="#505050" />
<rect x="222.47" y="94.38" width="1.45" height="1.45" fill="#505050" />
<rect x="230.53" y="93.12" width="1.45" height="1.45" fill="#505050" />
<rect x="225.97" y="92.85" width="1.45" height="1.45" fill="#505050" />
<rect x="223.18" y="91.60" width="1.45" height="1.45" fill="#505050" />
<rect x="227.38" y="90.39" width="1.45" height="1.45" fill="#505050" />
<rect x="221.08" y="89.56" width="1.45" height="1.45" fill="#505050" />
<rect x="225.28" y="87.83" width="1.45" height="1.45" fill="#505050" />
<rect x="228.08" y="86.96" width="1.45" height="1.45" fill="#505050" />
<rect x="223.18" y="85.78" width="1.45" height="1.45" fill="#505050" />
<rect x="225.97" y="84.52" width="1.45" height="1.45" fill="#505050" />
<rect x="225.28" y="79.27" width="1.45" height="1.45" fill="#505050" />
<rect x="228.08" y="78.12" width="1.45" height="1.45" fill="#505050" />
<rect x="251.05" y="99.55" width="1.70" height="1.70" fill="#848484" />
<rect x="251.05" y="112.39" width="1.70" height="1.70" fill="#848484" />
<rect x="253.85" y="112.25" width="1.70" height="1.70" fill="#848484" />
<rect x="248.25" y="111.89" width="1.70" height="1.70" fill="#848484" />
<rect x="256.65" y="111.60" width="1.70" height="1.70" fill="#848484" />
<rect x="245.45" y="111.44" width="1.70" height="1.70" fill="#848484" />
<rect x="252.31" y="111.04" width="1.70" height="1.70" fill="#848484" />
<rect x="249.86" y="110.93" width="1.70" height="1.70" fill="#848484" />
<rect x="254.84" y="110.79" width="1.70" height="1.70" fill="#848484" />
<rect x="247.11" y="110.47" width="1.70" height="1.70" fill="#848484" />
<rect x="257.90" y="110.42" width="1.70" height="1.70" fill="#848484" />
<rect x="251.10" y="110.35" width="1.70" height="1.70" fill="#848484" />
<rect x="244.54" y="110.06" width="1.70" height="1.70" fill="#848484" />
<rect x="248.56" y="109.86" width="1.70" height="1.70" fill="#848484" />
<rect x="245.85" y="109.77" width="1.70" height="1.70" fill="#848484" />
<rect x="256.13" y="109.74" width="1.70" height="1.70" fill="#848484" />
<rect x="253.16" y="109.31" width="1.70" height="1.70" fill="#848484" />
<rect x="250.01" y="109.26" width="1.70" height="1.70" fill="#848484" />
<rect x="254.71" y="109.24" width="1.70" height="1.70" fill="#848484" />
<rect x="257.96" y="108.83" width="1.70" height="1.70" fill="#848484" />
<rect x="251.57" y="108.77" width="1.70" height="1.70" fill="#848484" />
<rect x="247.39" y="108.63" width="1.70" height="1.70" fill="#848484" />
<rect x="244.56" y="108.46" width="1.70" height="1.70" fill="#848484" />
<rect x="256.41" y="108.23" width="1.70" height="1.70" fill="#848484" />
<rect x="249.12" y="108.09" width="1.70" height="1.70" fill="#848484" />
<rect x="253.89" y="107.69" width="1.70" height="1.70" fill="#848484" />
<rect x="252.36" y="107.48" width="1.70" height="1.70" fill="#848484" />
<rect x="246.04" y="106.35" width="1.70" height="1.70" fill="#848484" />
<rect x="258.05" y="106.08" width="1.70" height="1.70" fill="#848484" />
<rect x="251.05" y="104.86" width="1.70" height="1.70" fill="#848484" />
<rect x="253.50" y="103.45" width="1.70" height="1.70" fill="#848484" />
<line x1="165.00" y1="91.50" x2="181.00" y2="91.50" stroke="#2a2a70" stroke-width="1.1" />
<line x1="191.40" y1="109.50" x2="207.40" y2="109.50" stroke="#602028" stroke-width="1.1" />
<line x1="218.00" y1="99.50" x2="234.00" y2="99.50" stroke="#111111" stroke-width="1.1" />
<line x1="243.90" y1="114.50" x2="259.90" y2="114.50" stroke="#333333" stroke-width="2.0" />
<text x="0" y="0" font-size="6.75" text-anchor="middle" fill="#111" stroke="#111" stroke-width="0.08" transform="translate(142.43,63.90) rotate(-90)">MFI of virus specific CD8 T cells</text>
<line x1="174.20" y1="31.70" x2="225.00" y2="31.70" stroke="#000" stroke-width="1.4" />
<circle cx="197.40" cy="28.50" r="0.8" fill="#222"/>
<circle cx="199.80" cy="28.50" r="0.8" fill="#222"/>
<circle cx="202.20" cy="28.50" r="0.8" fill="#222"/>
<line x1="174.20" y1="37.40" x2="202.90" y2="37.40" stroke="#000" stroke-width="1.4" />
<circle cx="185.90" cy="35.30" r="0.8" fill="#222"/>
<circle cx="188.30" cy="35.30" r="0.8" fill="#222"/>
<circle cx="190.70" cy="35.30" r="0.8" fill="#222"/>
<line x1="225.30" y1="37.40" x2="253.60" y2="37.40" stroke="#000" stroke-width="1.4" />
<circle cx="238.10" cy="34.30" r="0.8" fill="#222"/>
<circle cx="240.50" cy="34.30" r="0.8" fill="#222"/>
<circle cx="242.90" cy="34.30" r="0.8" fill="#222"/>
<line x1="203.00" y1="44.00" x2="253.60" y2="44.00" stroke="#000" stroke-width="1.4" />
<circle cx="224.60" cy="41.00" r="0.8" fill="#222"/>
<circle cx="227.00" cy="41.00" r="0.8" fill="#222"/>
<circle cx="229.40" cy="41.00" r="0.8" fill="#222"/>
<line x1="160.20" y1="128.10" x2="160.20" y2="232.00" stroke="#8a8a8a" stroke-width="0.9" />
<line x1="160.20" y1="232.00" x2="257.00" y2="232.00" stroke="#8c8c8c" stroke-width="0.85" />
<line x1="158.20" y1="128.10" x2="160.20" y2="128.10" stroke="#8a8a8a" stroke-width="0.8" />
<text x="156.70" y="129.72" font-size="5.9" text-anchor="end" fill="#222" font-weight="normal" stroke="#222" stroke-width="0.08" >100</text>
<line x1="158.20" y1="148.70" x2="160.20" y2="148.70" stroke="#8a8a8a" stroke-width="0.8" />
<text x="156.70" y="150.32" font-size="5.9" text-anchor="end" fill="#222" font-weight="normal" stroke="#222" stroke-width="0.08" >80</text>
<line x1="158.20" y1="169.30" x2="160.20" y2="169.30" stroke="#8a8a8a" stroke-width="0.8" />
<text x="156.70" y="170.92" font-size="5.9" text-anchor="end" fill="#222" font-weight="normal" stroke="#222" stroke-width="0.08" >60</text>
<line x1="158.20" y1="189.90" x2="160.20" y2="189.90" stroke="#8a8a8a" stroke-width="0.8" />
<text x="156.70" y="191.52" font-size="5.9" text-anchor="end" fill="#222" font-weight="normal" stroke="#222" stroke-width="0.08" >40</text>
<line x1="158.20" y1="210.50" x2="160.20" y2="210.50" stroke="#8a8a8a" stroke-width="0.8" />
<text x="156.70" y="212.12" font-size="5.9" text-anchor="end" fill="#222" font-weight="normal" stroke="#222" stroke-width="0.08" >20</text>
<line x1="158.20" y1="231.10" x2="160.20" y2="231.10" stroke="#8a8a8a" stroke-width="0.8" />
<text x="156.70" y="232.72" font-size="5.9" text-anchor="end" fill="#222" font-weight="normal" stroke="#222" stroke-width="0.08" >0</text>
<rect x="170.62" y="146.32" width="1.55" height="1.55" fill="#24249c" />
<rect x="170.62" y="224.72" width="1.55" height="1.55" fill="#24249c" />
<rect x="170.62" y="210.15" width="1.55" height="1.55" fill="#24249c" />
<rect x="173.43" y="209.55" width="1.55" height="1.55" fill="#24249c" />
<rect x="168.18" y="208.45" width="1.55" height="1.55" fill="#24249c" />
<rect x="170.62" y="200.97" width="1.55" height="1.55" fill="#24249c" />
<rect x="173.07" y="199.56" width="1.55" height="1.55" fill="#24249c" />
<rect x="168.18" y="199.26" width="1.55" height="1.55" fill="#24249c" />
<rect x="170.62" y="196.82" width="1.55" height="1.55" fill="#24249c" />
<rect x="173.43" y="195.77" width="1.55" height="1.55" fill="#24249c" />
<rect x="168.53" y="194.90" width="1.55" height="1.55" fill="#24249c" />
<rect x="171.32" y="193.74" width="1.55" height="1.55" fill="#24249c" />
<rect x="174.12" y="192.74" width="1.55" height="1.55" fill="#24249c" />
<rect x="170.62" y="190.73" width="1.55" height="1.55" fill="#24249c" />
<rect x="167.82" y="190.11" width="1.55" height="1.55" fill="#24249c" />
<rect x="172.72" y="188.64" width="1.55" height="1.55" fill="#24249c" />
<rect x="169.93" y="187.73" width="1.55" height="1.55" fill="#24249c" />
<rect x="167.12" y="186.63" width="1.55" height="1.55" fill="#24249c" />
<rect x="171.32" y="185.17" width="1.55" height="1.55" fill="#24249c" />
<rect x="169.57" y="182.94" width="1.55" height="1.55" fill="#24249c" />
<rect x="172.38" y="182.11" width="1.55" height="1.55" fill="#24249c" />
<rect x="167.82" y="180.74" width="1.55" height="1.55" fill="#24249c" />
<rect x="170.62" y="178.80" width="1.55" height="1.55" fill="#24249c" />
<rect x="173.07" y="177.32" width="1.55" height="1.55" fill="#24249c" />
<rect x="168.88" y="176.47" width="1.55" height="1.55" fill="#24249c" />
<rect x="175.18" y="175.26" width="1.55" height="1.55" fill="#24249c" />
<rect x="170.62" y="173.11" width="1.55" height="1.55" fill="#24249c" />
<rect x="173.43" y="172.73" width="1.55" height="1.55" fill="#24249c" />
<rect x="169.22" y="170.53" width="1.55" height="1.55" fill="#24249c" />
<rect x="172.03" y="169.85" width="1.55" height="1.55" fill="#24249c" />
<rect x="170.62" y="167.40" width="1.55" height="1.55" fill="#24249c" />
<rect x="173.43" y="166.39" width="1.55" height="1.55" fill="#24249c" />
<rect x="170.62" y="164.31" width="1.55" height="1.55" fill="#24249c" />
<rect x="173.43" y="163.17" width="1.55" height="1.55" fill="#24249c" />
<rect x="168.53" y="162.33" width="1.55" height="1.55" fill="#24249c" />
<rect x="170.97" y="160.82" width="1.55" height="1.55" fill="#24249c" />
<rect x="168.18" y="159.48" width="1.55" height="1.55" fill="#24249c" />
<rect x="170.62" y="157.23" width="1.55" height="1.55" fill="#24249c" />
<rect x="173.43" y="157.09" width="1.55" height="1.55" fill="#24249c" />
<rect x="171.32" y="154.46" width="1.55" height="1.55" fill="#24249c" />
<rect x="168.53" y="154.13" width="1.55" height="1.55" fill="#24249c" />
<rect x="172.72" y="152.00" width="1.55" height="1.55" fill="#24249c" />
<rect x="169.93" y="151.25" width="1.55" height="1.55" fill="#24249c" />
<rect x="194.55" y="168.65" width="1.70" height="1.70" fill="#c01c2c" />
<rect x="193.35" y="224.65" width="1.70" height="1.70" fill="#c01c2c" />
<rect x="195.75" y="224.65" width="1.70" height="1.70" fill="#c01c2c" />
<rect x="194.55" y="219.55" width="1.70" height="1.70" fill="#c01c2c" />
<rect x="197.35" y="219.20" width="1.70" height="1.70" fill="#c01c2c" />
<rect x="192.10" y="217.81" width="1.70" height="1.70" fill="#c01c2c" />
<rect x="199.80" y="217.74" width="1.70" height="1.70" fill="#c01c2c" />
<rect x="195.25" y="216.81" width="1.70" height="1.70" fill="#c01c2c" />
<rect x="198.05" y="215.54" width="1.70" height="1.70" fill="#c01c2c" />
<rect x="192.80" y="214.99" width="1.70" height="1.70" fill="#c01c2c" />
<rect x="190.00" y="214.52" width="1.70" height="1.70" fill="#c01c2c" />
<rect x="195.25" y="213.55" width="1.70" height="1.70" fill="#c01c2c" />
<rect x="198.05" y="212.45" width="1.70" height="1.70" fill="#c01c2c" />
<rect x="192.80" y="211.79" width="1.70" height="1.70" fill="#c01c2c" />
<rect x="190.00" y="210.97" width="1.70" height="1.70" fill="#c01c2c" />
<rect x="195.60" y="210.61" width="1.70" height="1.70" fill="#c01c2c" />
<rect x="198.75" y="209.72" width="1.70" height="1.70" fill="#c01c2c" />
<rect x="193.85" y="208.36" width="1.70" height="1.70" fill="#c01c2c" />
<rect x="191.05" y="208.03" width="1.70" height="1.70" fill="#c01c2c" />
<rect x="196.30" y="206.78" width="1.70" height="1.70" fill="#c01c2c" />
<rect x="199.10" y="206.09" width="1.70" height="1.70" fill="#c01c2c" />
<rect x="193.85" y="204.97" width="1.70" height="1.70" fill="#c01c2c" />
<rect x="191.05" y="204.23" width="1.70" height="1.70" fill="#c01c2c" />
<rect x="195.60" y="202.78" width="1.70" height="1.70" fill="#c01c2c" />
<rect x="198.40" y="202.28" width="1.70" height="1.70" fill="#c01c2c" />
<rect x="193.15" y="201.18" width="1.70" height="1.70" fill="#c01c2c" />
<rect x="190.35" y="200.48" width="1.70" height="1.70" fill="#c01c2c" />
<rect x="195.60" y="199.66" width="1.70" height="1.70" fill="#c01c2c" />
<rect x="193.15" y="198.02" width="1.70" height="1.70" fill="#c01c2c" />
<rect x="197.00" y="197.13" width="1.70" height="1.70" fill="#c01c2c" />
<rect x="190.35" y="196.86" width="1.70" height="1.70" fill="#c01c2c" />
<rect x="199.80" y="195.90" width="1.70" height="1.70" fill="#c01c2c" />
<rect x="194.55" y="194.99" width="1.70" height="1.70" fill="#c01c2c" />
<rect x="196.30" y="192.80" width="1.70" height="1.70" fill="#c01c2c" />
<rect x="192.80" y="192.60" width="1.70" height="1.70" fill="#c01c2c" />
<rect x="194.55" y="189.93" width="1.70" height="1.70" fill="#c01c2c" />
<rect x="197.00" y="188.42" width="1.70" height="1.70" fill="#c01c2c" />
<rect x="193.15" y="187.40" width="1.70" height="1.70" fill="#c01c2c" />
<rect x="195.60" y="185.61" width="1.70" height="1.70" fill="#c01c2c" />
<rect x="192.80" y="184.53" width="1.70" height="1.70" fill="#c01c2c" />
<rect x="197.70" y="183.58" width="1.70" height="1.70" fill="#c01c2c" />
<rect x="194.55" y="181.04" width="1.70" height="1.70" fill="#c01c2c" />
<rect x="197.35" y="179.84" width="1.70" height="1.70" fill="#c01c2c" />
<rect x="192.45" y="179.09" width="1.70" height="1.70" fill="#c01c2c" />
<rect x="194.55" y="174.72" width="1.70" height="1.70" fill="#c01c2c" />
<rect x="219.98" y="155.88" width="1.45" height="1.45" fill="#505050" />
<rect x="222.38" y="155.88" width="1.45" height="1.45" fill="#505050" />
<rect x="221.18" y="216.49" width="1.45" height="1.45" fill="#505050" />
<rect x="223.98" y="215.46" width="1.45" height="1.45" fill="#505050" />
<rect x="219.78" y="213.90" width="1.45" height="1.45" fill="#505050" />
<rect x="221.88" y="211.81" width="1.45" height="1.45" fill="#505050" />
<rect x="218.73" y="211.27" width="1.45" height="1.45" fill="#505050" />
<rect x="221.18" y="208.78" width="1.45" height="1.45" fill="#505050" />
<rect x="223.62" y="207.32" width="1.45" height="1.45" fill="#505050" />
<rect x="219.08" y="206.65" width="1.45" height="1.45" fill="#505050" />
<rect x="221.18" y="204.35" width="1.45" height="1.45" fill="#505050" />
<rect x="223.98" y="203.06" width="1.45" height="1.45" fill="#505050" />
<rect x="219.78" y="201.80" width="1.45" height="1.45" fill="#505050" />
<rect x="221.53" y="199.49" width="1.45" height="1.45" fill="#505050" />
<rect x="218.73" y="199.13" width="1.45" height="1.45" fill="#505050" />
<rect x="222.93" y="196.99" width="1.45" height="1.45" fill="#505050" />
<rect x="220.48" y="195.26" width="1.45" height="1.45" fill="#505050" />
<rect x="222.93" y="193.75" width="1.45" height="1.45" fill="#505050" />
<rect x="220.48" y="192.13" width="1.45" height="1.45" fill="#505050" />
<rect x="217.68" y="191.62" width="1.45" height="1.45" fill="#505050" />
<rect x="221.18" y="189.19" width="1.45" height="1.45" fill="#505050" />
<rect x="223.62" y="187.37" width="1.45" height="1.45" fill="#505050" />
<rect x="221.18" y="186.01" width="1.45" height="1.45" fill="#505050" />
<rect x="223.62" y="184.52" width="1.45" height="1.45" fill="#505050" />
<rect x="221.18" y="183.13" width="1.45" height="1.45" fill="#505050" />
<rect x="218.38" y="182.48" width="1.45" height="1.45" fill="#505050" />
<rect x="221.18" y="179.91" width="1.45" height="1.45" fill="#505050" />
<rect x="223.98" y="179.76" width="1.45" height="1.45" fill="#505050" />
<rect x="221.18" y="176.85" width="1.45" height="1.45" fill="#505050" />
<rect x="223.98" y="175.56" width="1.45" height="1.45" fill="#505050" />
<rect x="220.12" y="174.19" width="1.45" height="1.45" fill="#505050" />
<rect x="222.58" y="172.49" width="1.45" height="1.45" fill="#505050" />
<rect x="219.78" y="171.38" width="1.45" height="1.45" fill="#505050" />
<rect x="223.28" y="169.76" width="1.45" height="1.45" fill="#505050" />
<rect x="243.15" y="183.15" width="1.70" height="1.70" fill="#848484" />
<rect x="245.55" y="183.15" width="1.70" height="1.70" fill="#848484" />
<rect x="244.35" y="193.65" width="1.70" height="1.70" fill="#848484" />
<rect x="244.35" y="229.08" width="1.70" height="1.70" fill="#848484" />
<rect x="247.15" y="228.37" width="1.70" height="1.70" fill="#848484" />
<rect x="241.90" y="227.55" width="1.70" height="1.70" fill="#848484" />
<rect x="239.10" y="227.41" width="1.70" height="1.70" fill="#848484" />
<rect x="249.60" y="226.64" width="1.70" height="1.70" fill="#848484" />
<rect x="244.35" y="225.90" width="1.70" height="1.70" fill="#848484" />
<rect x="247.07" y="225.61" width="1.70" height="1.70" fill="#848484" />
<rect x="237.35" y="225.11" width="1.70" height="1.70" fill="#848484" />
<rect x="241.90" y="224.40" width="1.70" height="1.70" fill="#848484" />
<rect x="249.25" y="223.62" width="1.70" height="1.70" fill="#848484" />
<rect x="245.64" y="223.32" width="1.70" height="1.70" fill="#848484" />
<rect x="239.80" y="222.45" width="1.70" height="1.70" fill="#848484" />
<rect x="243.30" y="221.77" width="1.70" height="1.70" fill="#848484" />
<rect x="251.00" y="221.26" width="1.70" height="1.70" fill="#848484" />
<rect x="247.15" y="220.84" width="1.70" height="1.70" fill="#848484" />
<rect x="238.05" y="220.23" width="1.70" height="1.70" fill="#848484" />
<rect x="241.55" y="219.43" width="1.70" height="1.70" fill="#848484" />
<rect x="244.70" y="219.27" width="1.70" height="1.70" fill="#848484" />
<rect x="249.25" y="218.71" width="1.70" height="1.70" fill="#848484" />
<rect x="237.60" y="217.82" width="1.70" height="1.70" fill="#848484" />
<rect x="246.80" y="217.15" width="1.70" height="1.70" fill="#848484" />
<rect x="243.30" y="216.67" width="1.70" height="1.70" fill="#848484" />
<rect x="240.50" y="216.34" width="1.70" height="1.70" fill="#848484" />
<rect x="249.25" y="215.73" width="1.70" height="1.70" fill="#848484" />
<rect x="238.05" y="214.77" width="1.70" height="1.70" fill="#848484" />
<rect x="245.40" y="214.66" width="1.70" height="1.70" fill="#848484" />
<rect x="242.60" y="213.94" width="1.70" height="1.70" fill="#848484" />
<rect x="247.85" y="213.08" width="1.70" height="1.70" fill="#848484" />
<rect x="244.35" y="211.50" width="1.70" height="1.70" fill="#848484" />
<rect x="246.80" y="209.95" width="1.70" height="1.70" fill="#848484" />
<rect x="242.25" y="209.36" width="1.70" height="1.70" fill="#848484" />
<rect x="249.25" y="208.26" width="1.70" height="1.70" fill="#848484" />
<rect x="244.35" y="206.66" width="1.70" height="1.70" fill="#848484" />
<rect x="241.55" y="206.59" width="1.70" height="1.70" fill="#848484" />
<rect x="246.45" y="204.80" width="1.70" height="1.70" fill="#848484" />
<rect x="239.80" y="204.28" width="1.70" height="1.70" fill="#848484" />
<rect x="244.35" y="202.75" width="1.70" height="1.70" fill="#848484" />
<rect x="247.15" y="201.70" width="1.70" height="1.70" fill="#848484" />
<rect x="241.90" y="201.25" width="1.70" height="1.70" fill="#848484" />
<rect x="244.70" y="199.96" width="1.70" height="1.70" fill="#848484" />
<line x1="162.90" y1="183.50" x2="179.90" y2="183.50" stroke="#2a2a70" stroke-width="1.1" />
<line x1="186.90" y1="205.50" x2="203.90" y2="205.50" stroke="#602028" stroke-width="1.1" />
<line x1="213.40" y1="200.50" x2="230.40" y2="200.50" stroke="#111111" stroke-width="1.1" />
<line x1="236.70" y1="218.50" x2="253.70" y2="218.50" stroke="#333333" stroke-width="1.1" />
<text x="0" y="0" font-size="6.75" text-anchor="middle" fill="#111" stroke="#111" stroke-width="0.08" transform="translate(142.53,182.20) rotate(-90)">% on virus specific CD8 T cells</text>
<line x1="174.20" y1="130.00" x2="221.00" y2="130.00" stroke="#000" stroke-width="1.4" />
<circle cx="195.10" cy="127.40" r="0.8" fill="#222"/>
<circle cx="197.50" cy="127.40" r="0.8" fill="#222"/>
<circle cx="199.90" cy="127.40" r="0.8" fill="#222"/>
<line x1="174.20" y1="136.00" x2="197.70" y2="136.00" stroke="#000" stroke-width="1.4" />
<circle cx="183.60" cy="134.30" r="0.8" fill="#222"/>
<circle cx="186.00" cy="134.30" r="0.8" fill="#222"/>
<circle cx="188.40" cy="134.30" r="0.8" fill="#222"/>
<line x1="220.60" y1="136.70" x2="247.80" y2="136.70" stroke="#000" stroke-width="1.4" />
<circle cx="229.80" cy="133.90" r="0.8" fill="#222"/>
<circle cx="232.20" cy="133.90" r="0.8" fill="#222"/>
<circle cx="234.60" cy="133.90" r="0.8" fill="#222"/>
<line x1="198.40" y1="142.40" x2="247.80" y2="142.40" stroke="#000" stroke-width="1.4" />
<circle cx="218.60" cy="140.40" r="0.8" fill="#222"/>
<circle cx="221.00" cy="140.40" r="0.8" fill="#222"/>
<circle cx="223.40" cy="140.40" r="0.8" fill="#222"/>
<text x="172.00" y="238.78" font-size="6.6" text-anchor="middle" fill="#222" font-weight="normal" stroke="#222" stroke-width="0.08" >pre</text>
<text x="194.50" y="238.78" font-size="6.6" text-anchor="middle" fill="#222" font-weight="normal" stroke="#222" stroke-width="0.08" >post</text>
<text x="221.90" y="238.78" font-size="6.6" text-anchor="middle" fill="#222" font-weight="normal" stroke="#222" stroke-width="0.08" >pre</text>
<text x="243.90" y="238.78" font-size="6.6" text-anchor="middle" fill="#222" font-weight="normal" stroke="#222" stroke-width="0.08" >post</text>
<line x1="165.50" y1="241.30" x2="207.50" y2="241.30" stroke="#111" stroke-width="1.4" />
<line x1="212.80" y1="241.30" x2="254.30" y2="241.30" stroke="#111" stroke-width="1.4" />
<text x="186.50" y="247.87" font-size="6.3" text-anchor="middle" fill="#222" font-weight="normal" stroke="#222" stroke-width="0.08" >HIV</text>
<text x="233.55" y="247.87" font-size="6.3" text-anchor="middle" fill="#222" font-weight="normal" stroke="#222" stroke-width="0.08" >CMV</text>
<line x1="292.60" y1="15.90" x2="292.60" y2="118.10" stroke="#8a8a8a" stroke-width="0.9" />
<line x1="292.60" y1="118.10" x2="389.00" y2="118.10" stroke="#707070" stroke-width="0.85" />
<line x1="290.60" y1="15.90" x2="292.60" y2="15.90" stroke="#8a8a8a" stroke-width="0.8" />
<text x="290.00" y="17.52" font-size="5.9" text-anchor="end" fill="#222" font-weight="normal" stroke="#222" stroke-width="0.08" >5000</text>
<line x1="290.60" y1="36.20" x2="292.60" y2="36.20" stroke="#8a8a8a" stroke-width="0.8" />
<text x="290.00" y="37.82" font-size="5.9" text-anchor="end" fill="#222" font-weight="normal" stroke="#222" stroke-width="0.08" >4000</text>
<line x1="290.60" y1="56.50" x2="292.60" y2="56.50" stroke="#8a8a8a" stroke-width="0.8" />
<text x="290.00" y="58.12" font-size="5.9" text-anchor="end" fill="#222" font-weight="normal" stroke="#222" stroke-width="0.08" >3000</text>
<line x1="290.60" y1="76.80" x2="292.60" y2="76.80" stroke="#8a8a8a" stroke-width="0.8" />
<text x="290.00" y="78.42" font-size="5.9" text-anchor="end" fill="#222" font-weight="normal" stroke="#222" stroke-width="0.08" >2000</text>
<line x1="290.60" y1="97.10" x2="292.60" y2="97.10" stroke="#8a8a8a" stroke-width="0.8" />
<text x="290.00" y="98.72" font-size="5.9" text-anchor="end" fill="#222" font-weight="normal" stroke="#222" stroke-width="0.08" >1000</text>
<line x1="290.60" y1="117.40" x2="292.60" y2="117.40" stroke="#8a8a8a" stroke-width="0.8" />
<text x="290.00" y="119.02" font-size="5.9" text-anchor="end" fill="#222" font-weight="normal" stroke="#222" stroke-width="0.08" >0</text>
<rect x="304.62" y="98.17" width="1.55" height="1.55" fill="#24249c" />
<rect x="306.02" y="95.62" width="1.55" height="1.55" fill="#24249c" />
<rect x="303.93" y="93.75" width="1.55" height="1.55" fill="#24249c" />
<rect x="306.73" y="92.91" width="1.55" height="1.55" fill="#24249c" />
<rect x="304.62" y="90.51" width="1.55" height="1.55" fill="#24249c" />
<rect x="306.38" y="88.21" width="1.55" height="1.55" fill="#24249c" />
<rect x="303.93" y="86.72" width="1.55" height="1.55" fill="#24249c" />
<rect x="301.12" y="86.13" width="1.55" height="1.55" fill="#24249c" />
<rect x="305.68" y="84.43" width="1.55" height="1.55" fill="#24249c" />
<rect x="308.48" y="84.08" width="1.55" height="1.55" fill="#24249c" />
<rect x="302.88" y="83.12" width="1.55" height="1.55" fill="#24249c" />
<rect x="305.32" y="81.42" width="1.55" height="1.55" fill="#24249c" />
<rect x="302.18" y="80.38" width="1.55" height="1.55" fill="#24249c" />
<rect x="307.77" y="79.80" width="1.55" height="1.55" fill="#24249c" />
<rect x="299.73" y="78.90" width="1.55" height="1.55" fill="#24249c" />
<rect x="304.62" y="78.07" width="1.55" height="1.55" fill="#24249c" />
<rect x="307.43" y="76.94" width="1.55" height="1.55" fill="#24249c" />
<rect x="302.52" y="76.00" width="1.55" height="1.55" fill="#24249c" />
<rect x="305.32" y="75.01" width="1.55" height="1.55" fill="#24249c" />
<rect x="307.77" y="73.54" width="1.55" height="1.55" fill="#24249c" />
<rect x="303.93" y="72.54" width="1.55" height="1.55" fill="#24249c" />
<rect x="301.12" y="71.67" width="1.55" height="1.55" fill="#24249c" />
<rect x="306.38" y="70.87" width="1.55" height="1.55" fill="#24249c" />
<rect x="309.18" y="69.85" width="1.55" height="1.55" fill="#24249c" />
<rect x="304.27" y="68.92" width="1.55" height="1.55" fill="#24249c" />
<rect x="306.38" y="67.00" width="1.55" height="1.55" fill="#24249c" />
<rect x="302.88" y="66.38" width="1.55" height="1.55" fill="#24249c" />
<rect x="304.98" y="64.49" width="1.55" height="1.55" fill="#24249c" />
<rect x="302.18" y="63.52" width="1.55" height="1.55" fill="#24249c" />
<rect x="306.38" y="61.92" width="1.55" height="1.55" fill="#24249c" />
<rect x="303.93" y="60.38" width="1.55" height="1.55" fill="#24249c" />
<rect x="307.43" y="59.32" width="1.55" height="1.55" fill="#24249c" />
<rect x="301.48" y="58.62" width="1.55" height="1.55" fill="#24249c" />
<rect x="304.62" y="56.99" width="1.55" height="1.55" fill="#24249c" />
<rect x="307.07" y="55.59" width="1.55" height="1.55" fill="#24249c" />
<rect x="303.57" y="54.33" width="1.55" height="1.55" fill="#24249c" />
<rect x="304.62" y="47.80" width="1.55" height="1.55" fill="#24249c" />
<rect x="307.43" y="46.51" width="1.55" height="1.55" fill="#24249c" />
<rect x="304.62" y="43.99" width="1.55" height="1.55" fill="#24249c" />
<rect x="307.43" y="43.38" width="1.55" height="1.55" fill="#24249c" />
<rect x="303.23" y="41.49" width="1.55" height="1.55" fill="#24249c" />
<rect x="304.62" y="38.90" width="1.55" height="1.55" fill="#24249c" />
<rect x="328.55" y="33.55" width="1.70" height="1.70" fill="#c01c2c" />
<rect x="328.55" y="44.85" width="1.70" height="1.70" fill="#c01c2c" />
<rect x="327.35" y="49.75" width="1.70" height="1.70" fill="#c01c2c" />
<rect x="329.75" y="49.75" width="1.70" height="1.70" fill="#c01c2c" />
<rect x="328.55" y="109.49" width="1.70" height="1.70" fill="#c01c2c" />
<rect x="331.35" y="108.47" width="1.70" height="1.70" fill="#c01c2c" />
<rect x="328.55" y="105.75" width="1.70" height="1.70" fill="#c01c2c" />
<rect x="330.65" y="103.75" width="1.70" height="1.70" fill="#c01c2c" />
<rect x="328.55" y="100.38" width="1.70" height="1.70" fill="#c01c2c" />
<rect x="331.35" y="99.37" width="1.70" height="1.70" fill="#c01c2c" />
<rect x="328.55" y="96.08" width="1.70" height="1.70" fill="#c01c2c" />
<rect x="331.00" y="94.69" width="1.70" height="1.70" fill="#c01c2c" />
<rect x="326.80" y="93.85" width="1.70" height="1.70" fill="#c01c2c" />
<rect x="329.25" y="92.28" width="1.70" height="1.70" fill="#c01c2c" />
<rect x="332.05" y="91.68" width="1.70" height="1.70" fill="#c01c2c" />
<rect x="326.80" y="90.47" width="1.70" height="1.70" fill="#c01c2c" />
<rect x="329.95" y="89.55" width="1.70" height="1.70" fill="#c01c2c" />
<rect x="332.75" y="88.77" width="1.70" height="1.70" fill="#c01c2c" />
<rect x="325.05" y="88.05" width="1.70" height="1.70" fill="#c01c2c" />
<rect x="328.20" y="87.27" width="1.70" height="1.70" fill="#c01c2c" />
<rect x="330.65" y="85.59" width="1.70" height="1.70" fill="#c01c2c" />
<rect x="326.45" y="84.86" width="1.70" height="1.70" fill="#c01c2c" />
<rect x="333.10" y="84.00" width="1.70" height="1.70" fill="#c01c2c" />
<rect x="328.55" y="82.71" width="1.70" height="1.70" fill="#c01c2c" />
<rect x="324.70" y="82.52" width="1.70" height="1.70" fill="#c01c2c" />
<rect x="331.00" y="81.09" width="1.70" height="1.70" fill="#c01c2c" />
<rect x="326.80" y="80.34" width="1.70" height="1.70" fill="#c01c2c" />
<rect x="324.00" y="79.35" width="1.70" height="1.70" fill="#c01c2c" />
<rect x="329.25" y="78.52" width="1.70" height="1.70" fill="#c01c2c" />
<rect x="332.05" y="77.92" width="1.70" height="1.70" fill="#c01c2c" />
<rect x="326.80" y="76.68" width="1.70" height="1.70" fill="#c01c2c" />
<rect x="329.60" y="75.61" width="1.70" height="1.70" fill="#c01c2c" />
<rect x="332.40" y="74.87" width="1.70" height="1.70" fill="#c01c2c" />
<rect x="325.75" y="74.06" width="1.70" height="1.70" fill="#c01c2c" />
<rect x="328.55" y="72.61" width="1.70" height="1.70" fill="#c01c2c" />
<rect x="331.35" y="71.54" width="1.70" height="1.70" fill="#c01c2c" />
<rect x="326.45" y="70.67" width="1.70" height="1.70" fill="#c01c2c" />
<rect x="323.65" y="70.29" width="1.70" height="1.70" fill="#c01c2c" />
<rect x="329.25" y="69.59" width="1.70" height="1.70" fill="#c01c2c" />
<rect x="332.05" y="68.33" width="1.70" height="1.70" fill="#c01c2c" />
<rect x="327.50" y="67.36" width="1.70" height="1.70" fill="#c01c2c" />
<rect x="324.70" y="66.42" width="1.70" height="1.70" fill="#c01c2c" />
<rect x="329.95" y="65.92" width="1.70" height="1.70" fill="#c01c2c" />
<rect x="332.75" y="64.85" width="1.70" height="1.70" fill="#c01c2c" />
<rect x="327.50" y="64.45" width="1.70" height="1.70" fill="#c01c2c" />
<rect x="324.70" y="63.48" width="1.70" height="1.70" fill="#c01c2c" />
<rect x="328.90" y="61.97" width="1.70" height="1.70" fill="#c01c2c" />
<rect x="331.70" y="61.59" width="1.70" height="1.70" fill="#c01c2c" />
<rect x="326.45" y="60.17" width="1.70" height="1.70" fill="#c01c2c" />
<rect x="323.65" y="60.12" width="1.70" height="1.70" fill="#c01c2c" />
<rect x="329.60" y="59.25" width="1.70" height="1.70" fill="#c01c2c" />
<rect x="332.40" y="58.03" width="1.70" height="1.70" fill="#c01c2c" />
<rect x="327.50" y="57.30" width="1.70" height="1.70" fill="#c01c2c" />
<rect x="352.97" y="55.48" width="1.45" height="1.45" fill="#505050" />
<rect x="351.77" y="66.68" width="1.45" height="1.45" fill="#505050" />
<rect x="354.17" y="66.68" width="1.45" height="1.45" fill="#505050" />
<rect x="352.97" y="101.51" width="1.45" height="1.45" fill="#505050" />
<rect x="354.37" y="99.05" width="1.45" height="1.45" fill="#505050" />
<rect x="352.27" y="96.95" width="1.45" height="1.45" fill="#505050" />
<rect x="352.97" y="94.08" width="1.45" height="1.45" fill="#505050" />
<rect x="355.77" y="92.75" width="1.45" height="1.45" fill="#505050" />
<rect x="350.52" y="92.43" width="1.45" height="1.45" fill="#505050" />
<rect x="347.72" y="91.61" width="1.45" height="1.45" fill="#505050" />
<rect x="352.97" y="90.80" width="1.45" height="1.45" fill="#505050" />
<rect x="357.17" y="90.30" width="1.45" height="1.45" fill="#505050" />
<rect x="350.17" y="89.55" width="1.45" height="1.45" fill="#505050" />
<rect x="354.72" y="88.61" width="1.45" height="1.45" fill="#505050" />
<rect x="348.07" y="87.68" width="1.45" height="1.45" fill="#505050" />
<rect x="357.52" y="87.50" width="1.45" height="1.45" fill="#505050" />
<rect x="352.62" y="86.74" width="1.45" height="1.45" fill="#505050" />
<rect x="355.42" y="85.60" width="1.45" height="1.45" fill="#505050" />
<rect x="350.17" y="85.37" width="1.45" height="1.45" fill="#505050" />
<rect x="357.87" y="84.17" width="1.45" height="1.45" fill="#505050" />
<rect x="352.97" y="83.57" width="1.45" height="1.45" fill="#505050" />
<rect x="350.17" y="82.37" width="1.45" height="1.45" fill="#505050" />
<rect x="354.72" y="81.23" width="1.45" height="1.45" fill="#505050" />
<rect x="357.52" y="80.88" width="1.45" height="1.45" fill="#505050" />
<rect x="352.27" y="79.86" width="1.45" height="1.45" fill="#505050" />
<rect x="349.47" y="78.77" width="1.45" height="1.45" fill="#505050" />
<rect x="353.32" y="77.24" width="1.45" height="1.45" fill="#505050" />
<rect x="356.12" y="76.76" width="1.45" height="1.45" fill="#505050" />
<rect x="351.22" y="75.14" width="1.45" height="1.45" fill="#505050" />
<rect x="348.42" y="74.64" width="1.45" height="1.45" fill="#505050" />
<rect x="353.32" y="72.98" width="1.45" height="1.45" fill="#505050" />
<rect x="376.55" y="43.85" width="1.70" height="1.70" fill="#848484" />
<rect x="376.55" y="47.85" width="1.70" height="1.70" fill="#848484" />
<rect x="376.55" y="55.75" width="1.70" height="1.70" fill="#848484" />
<rect x="376.55" y="61.65" width="1.70" height="1.70" fill="#848484" />
<rect x="376.55" y="104.82" width="1.70" height="1.70" fill="#848484" />
<rect x="379.35" y="103.47" width="1.70" height="1.70" fill="#848484" />
<rect x="374.80" y="102.62" width="1.70" height="1.70" fill="#848484" />
<rect x="372.00" y="101.80" width="1.70" height="1.70" fill="#848484" />
<rect x="376.55" y="100.34" width="1.70" height="1.70" fill="#848484" />
<rect x="379.35" y="99.69" width="1.70" height="1.70" fill="#848484" />
<rect x="373.75" y="99.11" width="1.70" height="1.70" fill="#848484" />
<rect x="382.15" y="98.85" width="1.70" height="1.70" fill="#848484" />
<rect x="370.95" y="98.16" width="1.70" height="1.70" fill="#848484" />
<rect x="377.43" y="97.91" width="1.70" height="1.70" fill="#848484" />
<rect x="379.73" y="97.27" width="1.70" height="1.70" fill="#848484" />
<rect x="374.80" y="96.74" width="1.70" height="1.70" fill="#848484" />
<rect x="383.20" y="96.17" width="1.70" height="1.70" fill="#848484" />
<rect x="369.66" y="95.77" width="1.70" height="1.70" fill="#848484" />
<rect x="377.25" y="94.99" width="1.70" height="1.70" fill="#848484" />
<rect x="372.70" y="94.64" width="1.70" height="1.70" fill="#848484" />
<rect x="380.05" y="93.96" width="1.70" height="1.70" fill="#848484" />
<rect x="382.85" y="93.37" width="1.70" height="1.70" fill="#848484" />
<rect x="375.50" y="92.73" width="1.70" height="1.70" fill="#848484" />
<rect x="370.95" y="92.40" width="1.70" height="1.70" fill="#848484" />
<rect x="378.27" y="91.87" width="1.70" height="1.70" fill="#848484" />
<rect x="380.88" y="91.50" width="1.70" height="1.70" fill="#848484" />
<rect x="373.40" y="90.85" width="1.70" height="1.70" fill="#848484" />
<rect x="383.55" y="90.33" width="1.70" height="1.70" fill="#848484" />
<rect x="376.20" y="89.82" width="1.70" height="1.70" fill="#848484" />
<rect x="379.00" y="89.02" width="1.70" height="1.70" fill="#848484" />
<rect x="371.65" y="88.51" width="1.70" height="1.70" fill="#848484" />
<rect x="381.50" y="88.21" width="1.70" height="1.70" fill="#848484" />
<rect x="374.45" y="87.62" width="1.70" height="1.70" fill="#848484" />
<rect x="377.66" y="86.93" width="1.70" height="1.70" fill="#848484" />
<rect x="369.55" y="86.43" width="1.70" height="1.70" fill="#848484" />
<rect x="383.55" y="86.07" width="1.70" height="1.70" fill="#848484" />
<rect x="380.05" y="85.29" width="1.70" height="1.70" fill="#848484" />
<rect x="373.05" y="85.09" width="1.70" height="1.70" fill="#848484" />
<rect x="375.85" y="84.59" width="1.70" height="1.70" fill="#848484" />
<rect x="370.36" y="83.85" width="1.70" height="1.70" fill="#848484" />
<rect x="378.30" y="82.95" width="1.70" height="1.70" fill="#848484" />
<rect x="374.45" y="82.03" width="1.70" height="1.70" fill="#848484" />
<rect x="380.75" y="81.32" width="1.70" height="1.70" fill="#848484" />
<rect x="376.55" y="80.15" width="1.70" height="1.70" fill="#848484" />
<rect x="373.05" y="79.49" width="1.70" height="1.70" fill="#848484" />
<rect x="379.35" y="78.80" width="1.70" height="1.70" fill="#848484" />
<rect x="382.15" y="78.09" width="1.70" height="1.70" fill="#848484" />
<rect x="376.55" y="77.05" width="1.70" height="1.70" fill="#848484" />
<rect x="373.75" y="76.64" width="1.70" height="1.70" fill="#848484" />
<rect x="379.35" y="75.89" width="1.70" height="1.70" fill="#848484" />
<rect x="371.30" y="75.22" width="1.70" height="1.70" fill="#848484" />
<rect x="376.55" y="73.91" width="1.70" height="1.70" fill="#848484" />
<rect x="373.75" y="73.17" width="1.70" height="1.70" fill="#848484" />
<rect x="379.00" y="72.41" width="1.70" height="1.70" fill="#848484" />
<rect x="381.80" y="71.44" width="1.70" height="1.70" fill="#848484" />
<rect x="376.55" y="70.72" width="1.70" height="1.70" fill="#848484" />
<rect x="373.75" y="70.09" width="1.70" height="1.70" fill="#848484" />
<line x1="297.40" y1="77.50" x2="313.40" y2="77.50" stroke="#2a2a70" stroke-width="1.1" />
<line x1="321.40" y1="77.50" x2="337.40" y2="77.50" stroke="#602028" stroke-width="1.1" />
<line x1="345.70" y1="85.50" x2="361.70" y2="85.50" stroke="#111111" stroke-width="1.1" />
<line x1="369.40" y1="86.50" x2="385.40" y2="86.50" stroke="#333333" stroke-width="1.1" />
<text x="0" y="0" font-size="6.75" text-anchor="middle" fill="#111" stroke="#111" stroke-width="0.08" transform="translate(271.03,63.80) rotate(-90)">MFI of virus specific CD8 T cells</text>
<line x1="302.50" y1="22.50" x2="350.80" y2="22.50" stroke="#000" stroke-width="1.4" />
<circle cx="324.40" cy="18.60" r="0.8" fill="#222"/>
<circle cx="326.80" cy="18.60" r="0.8" fill="#222"/>
<line x1="326.20" y1="30.00" x2="372.30" y2="30.00" stroke="#000" stroke-width="1.4" />
<circle cx="347.80" cy="27.30" r="0.8" fill="#222"/>
<circle cx="350.20" cy="27.30" r="0.8" fill="#222"/>
<line x1="292.80" y1="133.10" x2="292.80" y2="236.60" stroke="#8a8a8a" stroke-width="0.9" />
<line x1="292.80" y1="236.60" x2="388.00" y2="236.60" stroke="#8c8c8c" stroke-width="0.85" />
<line x1="290.80" y1="133.10" x2="292.80" y2="133.10" stroke="#8a8a8a" stroke-width="0.8" />
<text x="290.20" y="134.72" font-size="5.9" text-anchor="end" fill="#222" font-weight="normal" stroke="#222" stroke-width="0.08" >100</text>
<line x1="290.80" y1="153.60" x2="292.80" y2="153.60" stroke="#8a8a8a" stroke-width="0.8" />
<text x="290.20" y="155.22" font-size="5.9" text-anchor="end" fill="#222" font-weight="normal" stroke="#222" stroke-width="0.08" >80</text>
<line x1="290.80" y1="174.10" x2="292.80" y2="174.10" stroke="#8a8a8a" stroke-width="0.8" />
<text x="290.20" y="175.72" font-size="5.9" text-anchor="end" fill="#222" font-weight="normal" stroke="#222" stroke-width="0.08" >60</text>
<line x1="290.80" y1="194.60" x2="292.80" y2="194.60" stroke="#8a8a8a" stroke-width="0.8" />
<text x="290.20" y="196.22" font-size="5.9" text-anchor="end" fill="#222" font-weight="normal" stroke="#222" stroke-width="0.08" >40</text>
<line x1="290.80" y1="215.10" x2="292.80" y2="215.10" stroke="#8a8a8a" stroke-width="0.8" />
<text x="290.20" y="216.72" font-size="5.9" text-anchor="end" fill="#222" font-weight="normal" stroke="#222" stroke-width="0.08" >20</text>
<line x1="290.80" y1="235.70" x2="292.80" y2="235.70" stroke="#8a8a8a" stroke-width="0.8" />
<text x="290.20" y="237.32" font-size="5.9" text-anchor="end" fill="#222" font-weight="normal" stroke="#222" stroke-width="0.08" >0</text>
<rect x="302.43" y="162.62" width="1.55" height="1.55" fill="#24249c" />
<rect x="302.43" y="173.03" width="1.55" height="1.55" fill="#24249c" />
<rect x="302.43" y="158.47" width="1.55" height="1.55" fill="#24249c" />
<rect x="305.23" y="157.57" width="1.55" height="1.55" fill="#24249c" />
<rect x="300.68" y="156.17" width="1.55" height="1.55" fill="#24249c" />
<rect x="297.88" y="155.82" width="1.55" height="1.55" fill="#24249c" />
<rect x="302.78" y="154.05" width="1.55" height="1.55" fill="#24249c" />
<rect x="299.98" y="153.21" width="1.55" height="1.55" fill="#24249c" />
<rect x="305.23" y="152.35" width="1.55" height="1.55" fill="#24249c" />
<rect x="302.43" y="151.11" width="1.55" height="1.55" fill="#24249c" />
<rect x="302.43" y="144.65" width="1.55" height="1.55" fill="#24249c" />
<rect x="305.23" y="144.17" width="1.55" height="1.55" fill="#24249c" />
<rect x="299.62" y="143.57" width="1.55" height="1.55" fill="#24249c" />
<rect x="308.03" y="143.37" width="1.55" height="1.55" fill="#24249c" />
<rect x="296.82" y="142.89" width="1.55" height="1.55" fill="#24249c" />
<rect x="302.15" y="142.16" width="1.55" height="1.55" fill="#24249c" />
<rect x="305.90" y="141.65" width="1.55" height="1.55" fill="#24249c" />
<rect x="298.94" y="141.28" width="1.55" height="1.55" fill="#24249c" />
<rect x="309.43" y="140.78" width="1.55" height="1.55" fill="#24249c" />
<rect x="296.12" y="140.09" width="1.55" height="1.55" fill="#24249c" />
<rect x="303.37" y="139.82" width="1.55" height="1.55" fill="#24249c" />
<rect x="306.69" y="139.30" width="1.55" height="1.55" fill="#24249c" />
<rect x="300.68" y="138.64" width="1.55" height="1.55" fill="#24249c" />
<rect x="297.19" y="138.07" width="1.55" height="1.55" fill="#24249c" />
<rect x="309.41" y="137.99" width="1.55" height="1.55" fill="#24249c" />
<rect x="304.41" y="137.44" width="1.55" height="1.55" fill="#24249c" />
<rect x="307.22" y="136.81" width="1.55" height="1.55" fill="#24249c" />
<rect x="302.04" y="136.52" width="1.55" height="1.55" fill="#24249c" />
<rect x="299.28" y="136.06" width="1.55" height="1.55" fill="#24249c" />
<rect x="296.48" y="135.18" width="1.55" height="1.55" fill="#24249c" />
<rect x="304.88" y="134.68" width="1.55" height="1.55" fill="#24249c" />
<rect x="309.07" y="134.51" width="1.55" height="1.55" fill="#24249c" />
<rect x="326.95" y="177.35" width="1.70" height="1.70" fill="#c01c2c" />
<rect x="326.95" y="189.05" width="1.70" height="1.70" fill="#c01c2c" />
<rect x="326.95" y="170.09" width="1.70" height="1.70" fill="#c01c2c" />
<rect x="329.05" y="167.94" width="1.70" height="1.70" fill="#c01c2c" />
<rect x="326.25" y="166.73" width="1.70" height="1.70" fill="#c01c2c" />
<rect x="323.45" y="165.80" width="1.70" height="1.70" fill="#c01c2c" />
<rect x="326.95" y="163.35" width="1.70" height="1.70" fill="#c01c2c" />
<rect x="329.05" y="161.32" width="1.70" height="1.70" fill="#c01c2c" />
<rect x="326.25" y="160.41" width="1.70" height="1.70" fill="#c01c2c" />
<rect x="323.45" y="159.19" width="1.70" height="1.70" fill="#c01c2c" />
<rect x="327.30" y="157.70" width="1.70" height="1.70" fill="#c01c2c" />
<rect x="325.20" y="155.59" width="1.70" height="1.70" fill="#c01c2c" />
<rect x="327.65" y="154.09" width="1.70" height="1.70" fill="#c01c2c" />
<rect x="323.80" y="153.06" width="1.70" height="1.70" fill="#c01c2c" />
<rect x="326.95" y="150.36" width="1.70" height="1.70" fill="#c01c2c" />
<rect x="329.75" y="149.90" width="1.70" height="1.70" fill="#c01c2c" />
<rect x="325.55" y="147.81" width="1.70" height="1.70" fill="#c01c2c" />
<rect x="327.30" y="145.40" width="1.70" height="1.70" fill="#c01c2c" />
<rect x="324.50" y="144.77" width="1.70" height="1.70" fill="#c01c2c" />
<rect x="330.10" y="144.62" width="1.70" height="1.70" fill="#c01c2c" />
<rect x="321.70" y="144.13" width="1.70" height="1.70" fill="#c01c2c" />
<rect x="332.90" y="143.45" width="1.70" height="1.70" fill="#c01c2c" />
<rect x="325.63" y="143.19" width="1.70" height="1.70" fill="#c01c2c" />
<rect x="328.28" y="142.61" width="1.70" height="1.70" fill="#c01c2c" />
<rect x="320.15" y="142.22" width="1.70" height="1.70" fill="#c01c2c" />
<rect x="323.10" y="141.70" width="1.70" height="1.70" fill="#c01c2c" />
<rect x="331.13" y="141.44" width="1.70" height="1.70" fill="#c01c2c" />
<rect x="333.53" y="141.01" width="1.70" height="1.70" fill="#c01c2c" />
<rect x="326.60" y="140.30" width="1.70" height="1.70" fill="#c01c2c" />
<rect x="321.20" y="139.95" width="1.70" height="1.70" fill="#c01c2c" />
<rect x="329.01" y="139.58" width="1.70" height="1.70" fill="#c01c2c" />
<rect x="324.15" y="138.84" width="1.70" height="1.70" fill="#c01c2c" />
<rect x="331.85" y="138.42" width="1.70" height="1.70" fill="#c01c2c" />
<rect x="326.48" y="138.07" width="1.70" height="1.70" fill="#c01c2c" />
<rect x="322.00" y="137.76" width="1.70" height="1.70" fill="#c01c2c" />
<rect x="329.71" y="137.25" width="1.70" height="1.70" fill="#c01c2c" />
<rect x="333.38" y="136.67" width="1.70" height="1.70" fill="#c01c2c" />
<rect x="324.50" y="136.04" width="1.70" height="1.70" fill="#c01c2c" />
<rect x="319.95" y="135.72" width="1.70" height="1.70" fill="#c01c2c" />
<rect x="327.30" y="135.17" width="1.70" height="1.70" fill="#c01c2c" />
<rect x="331.15" y="134.77" width="1.70" height="1.70" fill="#c01c2c" />
<rect x="322.34" y="134.39" width="1.70" height="1.70" fill="#c01c2c" />
<rect x="352.47" y="170.97" width="1.45" height="1.45" fill="#505050" />
<rect x="352.47" y="177.47" width="1.45" height="1.45" fill="#505050" />
<rect x="352.47" y="162.64" width="1.45" height="1.45" fill="#505050" />
<rect x="354.57" y="160.59" width="1.45" height="1.45" fill="#505050" />
<rect x="351.77" y="159.88" width="1.45" height="1.45" fill="#505050" />
<rect x="348.97" y="158.87" width="1.45" height="1.45" fill="#505050" />
<rect x="352.47" y="156.47" width="1.45" height="1.45" fill="#505050" />
<rect x="355.27" y="156.05" width="1.45" height="1.45" fill="#505050" />
<rect x="350.37" y="154.45" width="1.45" height="1.45" fill="#505050" />
<rect x="352.47" y="152.46" width="1.45" height="1.45" fill="#505050" />
<rect x="355.27" y="151.24" width="1.45" height="1.45" fill="#505050" />
<rect x="351.42" y="149.77" width="1.45" height="1.45" fill="#505050" />
<rect x="348.62" y="148.77" width="1.45" height="1.45" fill="#505050" />
<rect x="353.87" y="148.30" width="1.45" height="1.45" fill="#505050" />
<rect x="351.42" y="146.59" width="1.45" height="1.45" fill="#505050" />
<rect x="354.92" y="145.68" width="1.45" height="1.45" fill="#505050" />
<rect x="348.62" y="145.28" width="1.45" height="1.45" fill="#505050" />
<rect x="357.72" y="144.43" width="1.45" height="1.45" fill="#505050" />
<rect x="352.47" y="143.29" width="1.45" height="1.45" fill="#505050" />
<rect x="355.27" y="142.42" width="1.45" height="1.45" fill="#505050" />
<rect x="350.72" y="140.95" width="1.45" height="1.45" fill="#505050" />
<rect x="347.92" y="140.54" width="1.45" height="1.45" fill="#505050" />
<rect x="353.52" y="139.63" width="1.45" height="1.45" fill="#505050" />
<rect x="351.07" y="137.99" width="1.45" height="1.45" fill="#505050" />
<rect x="355.62" y="137.78" width="1.45" height="1.45" fill="#505050" />
<rect x="348.62" y="136.38" width="1.45" height="1.45" fill="#505050" />
<rect x="352.47" y="135.41" width="1.45" height="1.45" fill="#505050" />
<rect x="355.27" y="134.85" width="1.45" height="1.45" fill="#505050" />
<rect x="375.65" y="164.35" width="1.70" height="1.70" fill="#848484" />
<rect x="375.65" y="170.35" width="1.70" height="1.70" fill="#848484" />
<rect x="375.65" y="176.05" width="1.70" height="1.70" fill="#848484" />
<rect x="375.65" y="157.04" width="1.70" height="1.70" fill="#848484" />
<rect x="378.10" y="155.67" width="1.70" height="1.70" fill="#848484" />
<rect x="373.55" y="155.03" width="1.70" height="1.70" fill="#848484" />
<rect x="375.65" y="152.96" width="1.70" height="1.70" fill="#848484" />
<rect x="378.45" y="152.24" width="1.70" height="1.70" fill="#848484" />
<rect x="373.55" y="150.85" width="1.70" height="1.70" fill="#848484" />
<rect x="376.00" y="149.06" width="1.70" height="1.70" fill="#848484" />
<rect x="378.80" y="148.39" width="1.70" height="1.70" fill="#848484" />
<rect x="373.90" y="147.16" width="1.70" height="1.70" fill="#848484" />
<rect x="376.35" y="145.54" width="1.70" height="1.70" fill="#848484" />
<rect x="374.25" y="143.55" width="1.70" height="1.70" fill="#848484" />
<rect x="377.75" y="142.96" width="1.70" height="1.70" fill="#848484" />
<rect x="371.45" y="142.70" width="1.70" height="1.70" fill="#848484" />
<rect x="380.55" y="142.48" width="1.70" height="1.70" fill="#848484" />
<rect x="368.65" y="142.15" width="1.70" height="1.70" fill="#848484" />
<rect x="382.46" y="141.84" width="1.70" height="1.70" fill="#848484" />
<rect x="375.81" y="141.22" width="1.70" height="1.70" fill="#848484" />
<rect x="378.69" y="141.09" width="1.70" height="1.70" fill="#848484" />
<rect x="373.20" y="140.58" width="1.70" height="1.70" fill="#848484" />
<rect x="369.65" y="140.21" width="1.70" height="1.70" fill="#848484" />
<rect x="380.99" y="139.76" width="1.70" height="1.70" fill="#848484" />
<rect x="377.45" y="139.48" width="1.70" height="1.70" fill="#848484" />
<rect x="375.10" y="139.16" width="1.70" height="1.70" fill="#848484" />
<rect x="372.12" y="138.94" width="1.70" height="1.70" fill="#848484" />
<rect x="382.56" y="138.47" width="1.70" height="1.70" fill="#848484" />
<rect x="379.38" y="137.93" width="1.70" height="1.70" fill="#848484" />
<rect x="368.73" y="137.84" width="1.70" height="1.70" fill="#848484" />
<rect x="373.78" y="137.30" width="1.70" height="1.70" fill="#848484" />
<rect x="376.63" y="137.14" width="1.70" height="1.70" fill="#848484" />
<rect x="371.70" y="136.80" width="1.70" height="1.70" fill="#848484" />
<rect x="381.11" y="136.45" width="1.70" height="1.70" fill="#848484" />
<rect x="369.77" y="136.05" width="1.70" height="1.70" fill="#848484" />
<rect x="378.07" y="135.56" width="1.70" height="1.70" fill="#848484" />
<rect x="375.17" y="135.12" width="1.70" height="1.70" fill="#848484" />
<line x1="295.20" y1="141.50" x2="311.20" y2="141.50" stroke="#2a2a70" stroke-width="1.1" />
<line x1="319.80" y1="141.50" x2="335.80" y2="141.50" stroke="#602028" stroke-width="1.1" />
<line x1="345.20" y1="147.50" x2="361.20" y2="147.50" stroke="#111111" stroke-width="1.1" />
<line x1="368.50" y1="141.50" x2="384.50" y2="141.50" stroke="#333333" stroke-width="1.1" />
<text x="0" y="0" font-size="6.75" text-anchor="middle" fill="#111" stroke="#111" stroke-width="0.08" transform="translate(273.63,182.20) rotate(-90)">% on virus specific CD8 T cells</text>
<line x1="303.00" y1="130.20" x2="351.00" y2="130.20" stroke="#000" stroke-width="1.4" />
<circle cx="327.70" cy="127.00" r="0.8" fill="#222"/>
<line x1="355.30" y1="130.20" x2="381.50" y2="130.20" stroke="#000" stroke-width="1.4" />
<circle cx="364.30" cy="127.00" r="0.8" fill="#222"/>
<circle cx="366.70" cy="127.00" r="0.8" fill="#222"/>
<text x="303.70" y="243.48" font-size="6.6" text-anchor="middle" fill="#222" font-weight="normal" stroke="#222" stroke-width="0.08" >pre</text>
<text x="325.10" y="243.48" font-size="6.6" text-anchor="middle" fill="#222" font-weight="normal" stroke="#222" stroke-width="0.08" >post</text>
<text x="354.30" y="243.48" font-size="6.6" text-anchor="middle" fill="#222" font-weight="normal" stroke="#222" stroke-width="0.08" >pre</text>
<text x="375.50" y="243.48" font-size="6.6" text-anchor="middle" fill="#222" font-weight="normal" stroke="#222" stroke-width="0.08" >post</text>
<line x1="295.10" y1="245.70" x2="337.10" y2="245.70" stroke="#111" stroke-width="1.4" />
<line x1="343.60" y1="245.70" x2="386.00" y2="245.70" stroke="#111" stroke-width="1.4" />
<text x="314.00" y="251.97" font-size="6.3" text-anchor="middle" fill="#222" font-weight="normal" stroke="#222" stroke-width="0.08" >HIV</text>
<text x="365.00" y="251.97" font-size="6.3" text-anchor="middle" fill="#222" font-weight="normal" stroke="#222" stroke-width="0.08" >CMV</text>
<line x1="419.50" y1="16.90" x2="419.50" y2="119.70" stroke="#8a8a8a" stroke-width="0.9" />
<line x1="419.50" y1="119.70" x2="511.00" y2="119.70" stroke="#707070" stroke-width="0.85" />
<line x1="417.50" y1="16.90" x2="419.50" y2="16.90" stroke="#8a8a8a" stroke-width="0.8" />
<text x="416.90" y="18.52" font-size="5.9" text-anchor="end" fill="#222" font-weight="normal" stroke="#222" stroke-width="0.08" >600</text>
<line x1="417.50" y1="50.80" x2="419.50" y2="50.80" stroke="#8a8a8a" stroke-width="0.8" />
<text x="416.90" y="52.42" font-size="5.9" text-anchor="end" fill="#222" font-weight="normal" stroke="#222" stroke-width="0.08" >400</text>
<line x1="417.50" y1="84.80" x2="419.50" y2="84.80" stroke="#8a8a8a" stroke-width="0.8" />
<text x="416.90" y="86.42" font-size="5.9" text-anchor="end" fill="#222" font-weight="normal" stroke="#222" stroke-width="0.08" >200</text>
<line x1="417.50" y1="118.70" x2="419.50" y2="118.70" stroke="#8a8a8a" stroke-width="0.8" />
<text x="416.90" y="120.32" font-size="5.9" text-anchor="end" fill="#222" font-weight="normal" stroke="#222" stroke-width="0.08" >0</text>
<rect x="430.23" y="37.83" width="1.55" height="1.55" fill="#24249c" />
<rect x="430.23" y="67.42" width="1.55" height="1.55" fill="#24249c" />
<rect x="430.23" y="107.45" width="1.55" height="1.55" fill="#24249c" />
<rect x="433.03" y="106.81" width="1.55" height="1.55" fill="#24249c" />
<rect x="427.43" y="106.54" width="1.55" height="1.55" fill="#24249c" />
<rect x="435.83" y="106.04" width="1.55" height="1.55" fill="#24249c" />
<rect x="424.62" y="105.58" width="1.55" height="1.55" fill="#24249c" />
<rect x="430.96" y="105.11" width="1.55" height="1.55" fill="#24249c" />
<rect x="428.67" y="104.60" width="1.55" height="1.55" fill="#24249c" />
<rect x="433.78" y="104.19" width="1.55" height="1.55" fill="#24249c" />
<rect x="436.75" y="103.63" width="1.55" height="1.55" fill="#24249c" />
<rect x="426.03" y="103.12" width="1.55" height="1.55" fill="#24249c" />
<rect x="423.23" y="102.80" width="1.55" height="1.55" fill="#24249c" />
<rect x="430.23" y="102.15" width="1.55" height="1.55" fill="#24249c" />
<rect x="434.80" y="101.63" width="1.55" height="1.55" fill="#24249c" />
<rect x="427.68" y="100.93" width="1.55" height="1.55" fill="#24249c" />
<rect x="424.80" y="100.58" width="1.55" height="1.55" fill="#24249c" />
<rect x="432.33" y="100.27" width="1.55" height="1.55" fill="#24249c" />
<rect x="436.88" y="99.73" width="1.55" height="1.55" fill="#24249c" />
<rect x="430.12" y="99.48" width="1.55" height="1.55" fill="#24249c" />
<rect x="426.23" y="98.63" width="1.55" height="1.55" fill="#24249c" />
<rect x="434.43" y="98.18" width="1.55" height="1.55" fill="#24249c" />
<rect x="423.58" y="97.74" width="1.55" height="1.55" fill="#24249c" />
<rect x="431.33" y="97.12" width="1.55" height="1.55" fill="#24249c" />
<rect x="428.48" y="96.64" width="1.55" height="1.55" fill="#24249c" />
<rect x="436.88" y="96.45" width="1.55" height="1.55" fill="#24249c" />
<rect x="425.64" y="95.91" width="1.55" height="1.55" fill="#24249c" />
<rect x="433.73" y="95.32" width="1.55" height="1.55" fill="#24249c" />
<rect x="430.26" y="95.09" width="1.55" height="1.55" fill="#24249c" />
<rect x="427.48" y="94.60" width="1.55" height="1.55" fill="#24249c" />
<rect x="430.23" y="91.82" width="1.55" height="1.55" fill="#24249c" />
<rect x="433.03" y="90.83" width="1.55" height="1.55" fill="#24249c" />
<rect x="429.53" y="89.07" width="1.55" height="1.55" fill="#24249c" />
<rect x="426.73" y="88.17" width="1.55" height="1.55" fill="#24249c" />
<rect x="431.28" y="86.79" width="1.55" height="1.55" fill="#24249c" />
<rect x="429.18" y="84.90" width="1.55" height="1.55" fill="#24249c" />
<rect x="430.23" y="78.47" width="1.55" height="1.55" fill="#24249c" />
<rect x="432.68" y="76.96" width="1.55" height="1.55" fill="#24249c" />
<rect x="430.23" y="74.75" width="1.55" height="1.55" fill="#24249c" />
<rect x="432.68" y="72.91" width="1.55" height="1.55" fill="#24249c" />
<rect x="451.35" y="79.85" width="1.70" height="1.70" fill="#c01c2c" />
<rect x="453.75" y="79.85" width="1.70" height="1.70" fill="#c01c2c" />
<rect x="452.55" y="104.50" width="1.70" height="1.70" fill="#c01c2c" />
<rect x="455.35" y="104.11" width="1.70" height="1.70" fill="#c01c2c" />
<rect x="449.75" y="103.74" width="1.70" height="1.70" fill="#c01c2c" />
<rect x="458.15" y="103.71" width="1.70" height="1.70" fill="#c01c2c" />
<rect x="446.95" y="103.34" width="1.70" height="1.70" fill="#c01c2c" />
<rect x="453.66" y="102.93" width="1.70" height="1.70" fill="#c01c2c" />
<rect x="451.49" y="102.64" width="1.70" height="1.70" fill="#c01c2c" />
<rect x="456.55" y="102.25" width="1.70" height="1.70" fill="#c01c2c" />
<rect x="459.32" y="102.05" width="1.70" height="1.70" fill="#c01c2c" />
<rect x="448.28" y="101.63" width="1.70" height="1.70" fill="#c01c2c" />
<rect x="445.64" y="101.49" width="1.70" height="1.70" fill="#c01c2c" />
<rect x="454.59" y="101.01" width="1.70" height="1.70" fill="#c01c2c" />
<rect x="450.16" y="100.88" width="1.70" height="1.70" fill="#c01c2c" />
<rect x="457.71" y="100.46" width="1.70" height="1.70" fill="#c01c2c" />
<rect x="452.65" y="100.05" width="1.70" height="1.70" fill="#c01c2c" />
<rect x="447.10" y="99.89" width="1.70" height="1.70" fill="#c01c2c" />
<rect x="455.91" y="99.55" width="1.70" height="1.70" fill="#c01c2c" />
<rect x="459.35" y="99.27" width="1.70" height="1.70" fill="#c01c2c" />
<rect x="450.92" y="99.02" width="1.70" height="1.70" fill="#c01c2c" />
<rect x="457.57" y="98.65" width="1.70" height="1.70" fill="#c01c2c" />
<rect x="448.74" y="98.31" width="1.70" height="1.70" fill="#c01c2c" />
<rect x="453.95" y="97.90" width="1.70" height="1.70" fill="#c01c2c" />
<rect x="445.60" y="97.62" width="1.70" height="1.70" fill="#c01c2c" />
<rect x="459.19" y="97.22" width="1.70" height="1.70" fill="#c01c2c" />
<rect x="456.26" y="97.04" width="1.70" height="1.70" fill="#c01c2c" />
<rect x="451.50" y="96.11" width="1.70" height="1.70" fill="#c01c2c" />
<rect x="454.47" y="95.82" width="1.70" height="1.70" fill="#c01c2c" />
<rect x="448.70" y="95.18" width="1.70" height="1.70" fill="#c01c2c" />
<rect x="457.80" y="94.62" width="1.70" height="1.70" fill="#c01c2c" />
<rect x="446.25" y="93.73" width="1.70" height="1.70" fill="#c01c2c" />
<rect x="452.55" y="93.24" width="1.70" height="1.70" fill="#c01c2c" />
<rect x="455.35" y="92.97" width="1.70" height="1.70" fill="#c01c2c" />
<rect x="449.75" y="92.21" width="1.70" height="1.70" fill="#c01c2c" />
<rect x="458.15" y="91.81" width="1.70" height="1.70" fill="#c01c2c" />
<rect x="447.21" y="91.18" width="1.70" height="1.70" fill="#c01c2c" />
<rect x="453.86" y="90.76" width="1.70" height="1.70" fill="#c01c2c" />
<rect x="456.35" y="89.95" width="1.70" height="1.70" fill="#c01c2c" />
<rect x="451.15" y="89.28" width="1.70" height="1.70" fill="#c01c2c" />
<rect x="459.20" y="88.76" width="1.70" height="1.70" fill="#c01c2c" />
<rect x="453.60" y="87.80" width="1.70" height="1.70" fill="#c01c2c" />
<rect x="451.15" y="86.25" width="1.70" height="1.70" fill="#c01c2c" />
<rect x="453.95" y="84.95" width="1.70" height="1.70" fill="#c01c2c" />
<rect x="449.05" y="84.34" width="1.70" height="1.70" fill="#c01c2c" />
<rect x="475.77" y="68.48" width="1.45" height="1.45" fill="#505050" />
<rect x="475.77" y="70.98" width="1.45" height="1.45" fill="#505050" />
<rect x="475.77" y="83.78" width="1.45" height="1.45" fill="#505050" />
<rect x="475.77" y="106.37" width="1.45" height="1.45" fill="#505050" />
<rect x="478.57" y="105.49" width="1.45" height="1.45" fill="#505050" />
<rect x="473.32" y="104.74" width="1.45" height="1.45" fill="#505050" />
<rect x="470.52" y="104.17" width="1.45" height="1.45" fill="#505050" />
<rect x="475.77" y="103.35" width="1.45" height="1.45" fill="#505050" />
<rect x="478.57" y="102.58" width="1.45" height="1.45" fill="#505050" />
<rect x="481.38" y="102.05" width="1.45" height="1.45" fill="#505050" />
<rect x="473.67" y="101.29" width="1.45" height="1.45" fill="#505050" />
<rect x="476.47" y="100.52" width="1.45" height="1.45" fill="#505050" />
<rect x="470.88" y="100.04" width="1.45" height="1.45" fill="#505050" />
<rect x="479.27" y="99.48" width="1.45" height="1.45" fill="#505050" />
<rect x="474.38" y="98.54" width="1.45" height="1.45" fill="#505050" />
<rect x="481.72" y="97.89" width="1.45" height="1.45" fill="#505050" />
<rect x="477.17" y="97.49" width="1.45" height="1.45" fill="#505050" />
<rect x="472.27" y="96.45" width="1.45" height="1.45" fill="#505050" />
<rect x="469.47" y="96.16" width="1.45" height="1.45" fill="#505050" />
<rect x="475.42" y="95.12" width="1.45" height="1.45" fill="#505050" />
<rect x="478.22" y="94.39" width="1.45" height="1.45" fill="#505050" />
<rect x="481.02" y="94.03" width="1.45" height="1.45" fill="#505050" />
<rect x="474.02" y="92.67" width="1.45" height="1.45" fill="#505050" />
<rect x="471.22" y="92.06" width="1.45" height="1.45" fill="#505050" />
<rect x="476.47" y="91.30" width="1.45" height="1.45" fill="#505050" />
<rect x="479.27" y="90.58" width="1.45" height="1.45" fill="#505050" />
<rect x="474.02" y="89.69" width="1.45" height="1.45" fill="#505050" />
<rect x="476.82" y="88.42" width="1.45" height="1.45" fill="#505050" />
<rect x="479.62" y="87.76" width="1.45" height="1.45" fill="#505050" />
<rect x="497.65" y="81.75" width="1.70" height="1.70" fill="#848484" />
<rect x="497.65" y="84.55" width="1.70" height="1.70" fill="#848484" />
<rect x="497.65" y="89.35" width="1.70" height="1.70" fill="#848484" />
<rect x="497.65" y="106.36" width="1.70" height="1.70" fill="#848484" />
<rect x="500.45" y="106.14" width="1.70" height="1.70" fill="#848484" />
<rect x="494.85" y="105.83" width="1.70" height="1.70" fill="#848484" />
<rect x="503.25" y="105.39" width="1.70" height="1.70" fill="#848484" />
<rect x="492.05" y="105.10" width="1.70" height="1.70" fill="#848484" />
<rect x="501.59" y="104.77" width="1.70" height="1.70" fill="#848484" />
<rect x="496.77" y="104.49" width="1.70" height="1.70" fill="#848484" />
<rect x="498.80" y="104.33" width="1.70" height="1.70" fill="#848484" />
<rect x="494.57" y="104.09" width="1.70" height="1.70" fill="#848484" />
<rect x="504.64" y="103.59" width="1.70" height="1.70" fill="#848484" />
<rect x="490.84" y="103.36" width="1.70" height="1.70" fill="#848484" />
<rect x="502.73" y="103.07" width="1.70" height="1.70" fill="#848484" />
<rect x="500.73" y="102.72" width="1.70" height="1.70" fill="#848484" />
<rect x="492.80" y="102.54" width="1.70" height="1.70" fill="#848484" />
<rect x="495.91" y="102.14" width="1.70" height="1.70" fill="#848484" />
<rect x="498.68" y="101.90" width="1.70" height="1.70" fill="#848484" />
<rect x="504.08" y="101.75" width="1.70" height="1.70" fill="#848484" />
<rect x="502.03" y="101.30" width="1.70" height="1.70" fill="#848484" />
<rect x="490.77" y="101.09" width="1.70" height="1.70" fill="#848484" />
<rect x="493.82" y="100.59" width="1.70" height="1.70" fill="#848484" />
<rect x="500.11" y="100.54" width="1.70" height="1.70" fill="#848484" />
<rect x="496.71" y="100.25" width="1.70" height="1.70" fill="#848484" />
<rect x="498.59" y="99.74" width="1.70" height="1.70" fill="#848484" />
<rect x="503.26" y="99.42" width="1.70" height="1.70" fill="#848484" />
<rect x="491.58" y="99.20" width="1.70" height="1.70" fill="#848484" />
<rect x="495.04" y="99.03" width="1.70" height="1.70" fill="#848484" />
<rect x="501.25" y="98.51" width="1.70" height="1.70" fill="#848484" />
<rect x="493.41" y="98.23" width="1.70" height="1.70" fill="#848484" />
<rect x="496.99" y="97.89" width="1.70" height="1.70" fill="#848484" />
<rect x="504.10" y="97.60" width="1.70" height="1.70" fill="#848484" />
<rect x="491.40" y="97.40" width="1.70" height="1.70" fill="#848484" />
<rect x="499.34" y="97.03" width="1.70" height="1.70" fill="#848484" />
<rect x="495.26" y="96.74" width="1.70" height="1.70" fill="#848484" />
<rect x="501.59" y="96.38" width="1.70" height="1.70" fill="#848484" />
<rect x="493.42" y="96.31" width="1.70" height="1.70" fill="#848484" />
<rect x="497.26" y="95.97" width="1.70" height="1.70" fill="#848484" />
<rect x="504.21" y="95.72" width="1.70" height="1.70" fill="#848484" />
<rect x="490.88" y="95.43" width="1.70" height="1.70" fill="#848484" />
<line x1="424.00" y1="99.50" x2="438.00" y2="99.50" stroke="#2a2a70" stroke-width="1.1" />
<line x1="446.40" y1="98.50" x2="460.40" y2="98.50" stroke="#602028" stroke-width="1.1" />
<line x1="469.50" y1="99.50" x2="483.50" y2="99.50" stroke="#111111" stroke-width="1.1" />
<line x1="491.50" y1="101.50" x2="505.50" y2="101.50" stroke="#333333" stroke-width="1.1" />
<text x="0" y="0" font-size="6.75" text-anchor="middle" fill="#111" stroke="#111" stroke-width="0.08" transform="translate(402.23,64.00) rotate(-90)">MFI of virus specific CD8 T cells</text>
<line x1="419.50" y1="133.30" x2="419.50" y2="237.20" stroke="#8a8a8a" stroke-width="0.9" />
<line x1="419.50" y1="237.20" x2="515.00" y2="237.20" stroke="#8c8c8c" stroke-width="0.85" />
<line x1="417.50" y1="133.30" x2="419.50" y2="133.30" stroke="#8a8a8a" stroke-width="0.8" />
<text x="416.90" y="134.92" font-size="5.9" text-anchor="end" fill="#222" font-weight="normal" stroke="#222" stroke-width="0.08" >100</text>
<line x1="417.50" y1="153.90" x2="419.50" y2="153.90" stroke="#8a8a8a" stroke-width="0.8" />
<text x="416.90" y="155.52" font-size="5.9" text-anchor="end" fill="#222" font-weight="normal" stroke="#222" stroke-width="0.08" >80</text>
<line x1="417.50" y1="174.50" x2="419.50" y2="174.50" stroke="#8a8a8a" stroke-width="0.8" />
<text x="416.90" y="176.12" font-size="5.9" text-anchor="end" fill="#222" font-weight="normal" stroke="#222" stroke-width="0.08" >60</text>
<line x1="417.50" y1="195.10" x2="419.50" y2="195.10" stroke="#8a8a8a" stroke-width="0.8" />
<text x="416.90" y="196.72" font-size="5.9" text-anchor="end" fill="#222" font-weight="normal" stroke="#222" stroke-width="0.08" >40</text>
<line x1="417.50" y1="215.70" x2="419.50" y2="215.70" stroke="#8a8a8a" stroke-width="0.8" />
<text x="416.90" y="217.32" font-size="5.9" text-anchor="end" fill="#222" font-weight="normal" stroke="#222" stroke-width="0.08" >20</text>
<line x1="417.50" y1="236.20" x2="419.50" y2="236.20" stroke="#8a8a8a" stroke-width="0.8" />
<text x="416.90" y="237.82" font-size="5.9" text-anchor="end" fill="#222" font-weight="normal" stroke="#222" stroke-width="0.08" >0</text>
<rect x="431.73" y="173.03" width="1.55" height="1.55" fill="#24249c" />
<rect x="431.73" y="234.33" width="1.55" height="1.55" fill="#24249c" />
<rect x="434.53" y="233.86" width="1.55" height="1.55" fill="#24249c" />
<rect x="428.93" y="233.34" width="1.55" height="1.55" fill="#24249c" />
<rect x="437.33" y="233.13" width="1.55" height="1.55" fill="#24249c" />
<rect x="426.12" y="232.67" width="1.55" height="1.55" fill="#24249c" />
<rect x="432.92" y="232.20" width="1.55" height="1.55" fill="#24249c" />
<rect x="430.59" y="231.65" width="1.55" height="1.55" fill="#24249c" />
<rect x="435.15" y="231.13" width="1.55" height="1.55" fill="#24249c" />
<rect x="427.07" y="230.85" width="1.55" height="1.55" fill="#24249c" />
<rect x="438.03" y="230.22" width="1.55" height="1.55" fill="#24249c" />
<rect x="433.11" y="229.68" width="1.55" height="1.55" fill="#24249c" />
<rect x="424.73" y="229.26" width="1.55" height="1.55" fill="#24249c" />
<rect x="430.33" y="228.75" width="1.55" height="1.55" fill="#24249c" />
<rect x="435.58" y="228.22" width="1.55" height="1.55" fill="#24249c" />
<rect x="427.53" y="227.90" width="1.55" height="1.55" fill="#24249c" />
<rect x="438.38" y="227.35" width="1.55" height="1.55" fill="#24249c" />
<rect x="432.61" y="226.94" width="1.55" height="1.55" fill="#24249c" />
<rect x="429.36" y="226.72" width="1.55" height="1.55" fill="#24249c" />
<rect x="425.08" y="226.28" width="1.55" height="1.55" fill="#24249c" />
<rect x="436.28" y="225.45" width="1.55" height="1.55" fill="#24249c" />
<rect x="431.19" y="224.94" width="1.55" height="1.55" fill="#24249c" />
<rect x="427.73" y="224.83" width="1.55" height="1.55" fill="#24249c" />
<rect x="433.95" y="224.27" width="1.55" height="1.55" fill="#24249c" />
<rect x="438.73" y="223.61" width="1.55" height="1.55" fill="#24249c" />
<rect x="425.43" y="223.18" width="1.55" height="1.55" fill="#24249c" />
<rect x="429.91" y="223.00" width="1.55" height="1.55" fill="#24249c" />
<rect x="435.93" y="222.35" width="1.55" height="1.55" fill="#24249c" />
<rect x="433.38" y="222.13" width="1.55" height="1.55" fill="#24249c" />
<rect x="427.87" y="221.39" width="1.55" height="1.55" fill="#24249c" />
<rect x="438.38" y="220.80" width="1.55" height="1.55" fill="#24249c" />
<rect x="431.03" y="220.36" width="1.55" height="1.55" fill="#24249c" />
<rect x="425.43" y="219.91" width="1.55" height="1.55" fill="#24249c" />
<rect x="434.53" y="219.53" width="1.55" height="1.55" fill="#24249c" />
<rect x="428.55" y="219.17" width="1.55" height="1.55" fill="#24249c" />
<rect x="436.78" y="218.52" width="1.55" height="1.55" fill="#24249c" />
<rect x="432.18" y="218.27" width="1.55" height="1.55" fill="#24249c" />
<rect x="426.33" y="217.70" width="1.55" height="1.55" fill="#24249c" />
<rect x="434.89" y="217.41" width="1.55" height="1.55" fill="#24249c" />
<rect x="429.94" y="216.80" width="1.55" height="1.55" fill="#24249c" />
<rect x="437.39" y="216.57" width="1.55" height="1.55" fill="#24249c" />
<rect x="432.59" y="215.95" width="1.55" height="1.55" fill="#24249c" />
<rect x="424.73" y="215.60" width="1.55" height="1.55" fill="#24249c" />
<rect x="435.23" y="214.36" width="1.55" height="1.55" fill="#24249c" />
<rect x="431.03" y="213.46" width="1.55" height="1.55" fill="#24249c" />
<rect x="433.12" y="211.38" width="1.55" height="1.55" fill="#24249c" />
<rect x="430.68" y="209.71" width="1.55" height="1.55" fill="#24249c" />
<rect x="432.43" y="207.35" width="1.55" height="1.55" fill="#24249c" />
<rect x="429.62" y="206.85" width="1.55" height="1.55" fill="#24249c" />
<rect x="434.88" y="205.54" width="1.55" height="1.55" fill="#24249c" />
<rect x="431.73" y="202.87" width="1.55" height="1.55" fill="#24249c" />
<rect x="433.83" y="200.98" width="1.55" height="1.55" fill="#24249c" />
<rect x="429.62" y="200.75" width="1.55" height="1.55" fill="#24249c" />
<rect x="431.73" y="194.52" width="1.55" height="1.55" fill="#24249c" />
<rect x="434.53" y="193.36" width="1.55" height="1.55" fill="#24249c" />
<rect x="428.93" y="193.33" width="1.55" height="1.55" fill="#24249c" />
<rect x="453.75" y="198.15" width="1.70" height="1.70" fill="#c01c2c" />
<rect x="456.15" y="198.15" width="1.70" height="1.70" fill="#c01c2c" />
<rect x="454.95" y="234.42" width="1.70" height="1.70" fill="#c01c2c" />
<rect x="457.75" y="234.02" width="1.70" height="1.70" fill="#c01c2c" />
<rect x="452.15" y="233.74" width="1.70" height="1.70" fill="#c01c2c" />
<rect x="460.55" y="233.38" width="1.70" height="1.70" fill="#c01c2c" />
<rect x="449.35" y="233.07" width="1.70" height="1.70" fill="#c01c2c" />
<rect x="454.08" y="232.69" width="1.70" height="1.70" fill="#c01c2c" />
<rect x="456.44" y="232.59" width="1.70" height="1.70" fill="#c01c2c" />
<rect x="458.36" y="232.14" width="1.70" height="1.70" fill="#c01c2c" />
<rect x="451.07" y="231.95" width="1.70" height="1.70" fill="#c01c2c" />
<rect x="461.48" y="231.61" width="1.70" height="1.70" fill="#c01c2c" />
<rect x="448.57" y="231.18" width="1.70" height="1.70" fill="#c01c2c" />
<rect x="452.79" y="230.93" width="1.70" height="1.70" fill="#c01c2c" />
<rect x="456.49" y="230.59" width="1.70" height="1.70" fill="#c01c2c" />
<rect x="459.84" y="230.39" width="1.70" height="1.70" fill="#c01c2c" />
<rect x="450.44" y="230.08" width="1.70" height="1.70" fill="#c01c2c" />
<rect x="454.30" y="229.79" width="1.70" height="1.70" fill="#c01c2c" />
<rect x="461.65" y="229.28" width="1.70" height="1.70" fill="#c01c2c" />
<rect x="448.36" y="229.11" width="1.70" height="1.70" fill="#c01c2c" />
<rect x="452.18" y="228.87" width="1.70" height="1.70" fill="#c01c2c" />
<rect x="458.18" y="228.40" width="1.70" height="1.70" fill="#c01c2c" />
<rect x="455.83" y="228.24" width="1.70" height="1.70" fill="#c01c2c" />
<rect x="450.07" y="227.70" width="1.70" height="1.70" fill="#c01c2c" />
<rect x="460.87" y="227.46" width="1.70" height="1.70" fill="#c01c2c" />
<rect x="453.50" y="227.28" width="1.70" height="1.70" fill="#c01c2c" />
<rect x="448.01" y="226.76" width="1.70" height="1.70" fill="#c01c2c" />
<rect x="459.03" y="226.63" width="1.70" height="1.70" fill="#c01c2c" />
<rect x="456.46" y="226.20" width="1.70" height="1.70" fill="#c01c2c" />
<rect x="451.86" y="225.91" width="1.70" height="1.70" fill="#c01c2c" />
<rect x="450.02" y="225.75" width="1.70" height="1.70" fill="#c01c2c" />
<rect x="461.28" y="225.25" width="1.70" height="1.70" fill="#c01c2c" />
<rect x="454.68" y="224.92" width="1.70" height="1.70" fill="#c01c2c" />
<rect x="457.93" y="224.52" width="1.70" height="1.70" fill="#c01c2c" />
<rect x="448.15" y="224.00" width="1.70" height="1.70" fill="#c01c2c" />
<rect x="452.32" y="223.48" width="1.70" height="1.70" fill="#c01c2c" />
<rect x="460.23" y="222.80" width="1.70" height="1.70" fill="#c01c2c" />
<rect x="454.95" y="222.12" width="1.70" height="1.70" fill="#c01c2c" />
<rect x="450.05" y="221.67" width="1.70" height="1.70" fill="#c01c2c" />
<rect x="457.75" y="221.12" width="1.70" height="1.70" fill="#c01c2c" />
<rect x="461.60" y="220.34" width="1.70" height="1.70" fill="#c01c2c" />
<rect x="452.85" y="220.04" width="1.70" height="1.70" fill="#c01c2c" />
<rect x="447.95" y="219.65" width="1.70" height="1.70" fill="#c01c2c" />
<rect x="455.65" y="219.11" width="1.70" height="1.70" fill="#c01c2c" />
<rect x="459.15" y="218.59" width="1.70" height="1.70" fill="#c01c2c" />
<rect x="450.75" y="217.91" width="1.70" height="1.70" fill="#c01c2c" />
<rect x="453.90" y="216.70" width="1.70" height="1.70" fill="#c01c2c" />
<rect x="456.70" y="216.44" width="1.70" height="1.70" fill="#c01c2c" />
<rect x="459.50" y="215.38" width="1.70" height="1.70" fill="#c01c2c" />
<rect x="454.95" y="213.48" width="1.70" height="1.70" fill="#c01c2c" />
<rect x="457.75" y="213.17" width="1.70" height="1.70" fill="#c01c2c" />
<rect x="452.50" y="211.93" width="1.70" height="1.70" fill="#c01c2c" />
<rect x="454.95" y="209.99" width="1.70" height="1.70" fill="#c01c2c" />
<rect x="457.75" y="209.72" width="1.70" height="1.70" fill="#c01c2c" />
<rect x="452.85" y="207.80" width="1.70" height="1.70" fill="#c01c2c" />
<rect x="455.65" y="206.72" width="1.70" height="1.70" fill="#c01c2c" />
<rect x="458.45" y="206.08" width="1.70" height="1.70" fill="#c01c2c" />
<rect x="453.55" y="204.54" width="1.70" height="1.70" fill="#c01c2c" />
<rect x="456.35" y="203.74" width="1.70" height="1.70" fill="#c01c2c" />
<rect x="451.10" y="203.12" width="1.70" height="1.70" fill="#c01c2c" />
<rect x="481.57" y="186.58" width="1.45" height="1.45" fill="#505050" />
<rect x="481.57" y="194.38" width="1.45" height="1.45" fill="#505050" />
<rect x="481.57" y="204.78" width="1.45" height="1.45" fill="#505050" />
<rect x="481.57" y="234.56" width="1.45" height="1.45" fill="#505050" />
<rect x="484.38" y="234.02" width="1.45" height="1.45" fill="#505050" />
<rect x="478.77" y="233.79" width="1.45" height="1.45" fill="#505050" />
<rect x="487.18" y="233.34" width="1.45" height="1.45" fill="#505050" />
<rect x="475.97" y="233.02" width="1.45" height="1.45" fill="#505050" />
<rect x="482.63" y="232.64" width="1.45" height="1.45" fill="#505050" />
<rect x="480.31" y="232.37" width="1.45" height="1.45" fill="#505050" />
<rect x="485.26" y="232.10" width="1.45" height="1.45" fill="#505050" />
<rect x="477.56" y="231.79" width="1.45" height="1.45" fill="#505050" />
<rect x="488.32" y="231.44" width="1.45" height="1.45" fill="#505050" />
<rect x="474.69" y="231.09" width="1.45" height="1.45" fill="#505050" />
<rect x="483.64" y="230.57" width="1.45" height="1.45" fill="#505050" />
<rect x="479.38" y="230.32" width="1.45" height="1.45" fill="#505050" />
<rect x="485.86" y="229.85" width="1.45" height="1.45" fill="#505050" />
<rect x="476.61" y="229.66" width="1.45" height="1.45" fill="#505050" />
<rect x="488.06" y="229.17" width="1.45" height="1.45" fill="#505050" />
<rect x="482.09" y="228.79" width="1.45" height="1.45" fill="#505050" />
<rect x="474.73" y="228.58" width="1.45" height="1.45" fill="#505050" />
<rect x="478.55" y="228.36" width="1.45" height="1.45" fill="#505050" />
<rect x="484.85" y="227.89" width="1.45" height="1.45" fill="#505050" />
<rect x="476.45" y="227.61" width="1.45" height="1.45" fill="#505050" />
<rect x="486.93" y="227.37" width="1.45" height="1.45" fill="#505050" />
<rect x="482.89" y="226.83" width="1.45" height="1.45" fill="#505050" />
<rect x="480.63" y="226.58" width="1.45" height="1.45" fill="#505050" />
<rect x="477.78" y="226.05" width="1.45" height="1.45" fill="#505050" />
<rect x="474.85" y="225.85" width="1.45" height="1.45" fill="#505050" />
<rect x="485.27" y="225.43" width="1.45" height="1.45" fill="#505050" />
<rect x="488.19" y="225.12" width="1.45" height="1.45" fill="#505050" />
<rect x="481.95" y="224.96" width="1.45" height="1.45" fill="#505050" />
<rect x="479.79" y="224.45" width="1.45" height="1.45" fill="#505050" />
<rect x="476.39" y="224.16" width="1.45" height="1.45" fill="#505050" />
<rect x="482.62" y="222.23" width="1.45" height="1.45" fill="#505050" />
<rect x="480.18" y="220.42" width="1.45" height="1.45" fill="#505050" />
<rect x="482.27" y="218.46" width="1.45" height="1.45" fill="#505050" />
<rect x="479.47" y="217.36" width="1.45" height="1.45" fill="#505050" />
<rect x="482.97" y="215.71" width="1.45" height="1.45" fill="#505050" />
<rect x="480.52" y="214.08" width="1.45" height="1.45" fill="#505050" />
<rect x="483.32" y="212.79" width="1.45" height="1.45" fill="#505050" />
<rect x="506.15" y="196.85" width="1.70" height="1.70" fill="#848484" />
<rect x="506.15" y="213.75" width="1.70" height="1.70" fill="#848484" />
<rect x="506.15" y="234.39" width="1.70" height="1.70" fill="#848484" />
<rect x="508.95" y="234.22" width="1.70" height="1.70" fill="#848484" />
<rect x="503.35" y="233.63" width="1.70" height="1.70" fill="#848484" />
<rect x="511.75" y="233.27" width="1.70" height="1.70" fill="#848484" />
<rect x="500.55" y="233.24" width="1.70" height="1.70" fill="#848484" />
<rect x="507.34" y="232.79" width="1.70" height="1.70" fill="#848484" />
<rect x="504.77" y="232.39" width="1.70" height="1.70" fill="#848484" />
<rect x="509.38" y="232.19" width="1.70" height="1.70" fill="#848484" />
<rect x="501.87" y="231.87" width="1.70" height="1.70" fill="#848484" />
<rect x="512.94" y="231.34" width="1.70" height="1.70" fill="#848484" />
<rect x="499.15" y="231.06" width="1.70" height="1.70" fill="#848484" />
<rect x="506.17" y="230.88" width="1.70" height="1.70" fill="#848484" />
<rect x="503.48" y="230.35" width="1.70" height="1.70" fill="#848484" />
<rect x="508.35" y="230.07" width="1.70" height="1.70" fill="#848484" />
<rect x="510.81" y="229.69" width="1.70" height="1.70" fill="#848484" />
<rect x="512.64" y="229.49" width="1.70" height="1.70" fill="#848484" />
<rect x="501.19" y="229.13" width="1.70" height="1.70" fill="#848484" />
<rect x="505.22" y="228.79" width="1.70" height="1.70" fill="#848484" />
<rect x="507.13" y="228.53" width="1.70" height="1.70" fill="#848484" />
<rect x="499.22" y="228.36" width="1.70" height="1.70" fill="#848484" />
<rect x="502.86" y="227.77" width="1.70" height="1.70" fill="#848484" />
<rect x="509.36" y="227.51" width="1.70" height="1.70" fill="#848484" />
<rect x="511.77" y="227.17" width="1.70" height="1.70" fill="#848484" />
<rect x="500.76" y="226.78" width="1.70" height="1.70" fill="#848484" />
<rect x="505.33" y="226.73" width="1.70" height="1.70" fill="#848484" />
<rect x="507.52" y="226.36" width="1.70" height="1.70" fill="#848484" />
<rect x="502.45" y="226.05" width="1.70" height="1.70" fill="#848484" />
<rect x="510.48" y="225.57" width="1.70" height="1.70" fill="#848484" />
<rect x="512.90" y="225.42" width="1.70" height="1.70" fill="#848484" />
<rect x="499.21" y="224.94" width="1.70" height="1.70" fill="#848484" />
<rect x="504.82" y="224.80" width="1.70" height="1.70" fill="#848484" />
<rect x="508.39" y="224.47" width="1.70" height="1.70" fill="#848484" />
<rect x="502.74" y="223.61" width="1.70" height="1.70" fill="#848484" />
<rect x="506.15" y="221.50" width="1.70" height="1.70" fill="#848484" />
<rect x="507.55" y="218.96" width="1.70" height="1.70" fill="#848484" />
<rect x="504.75" y="218.77" width="1.70" height="1.70" fill="#848484" />
<line x1="425.00" y1="225.50" x2="440.00" y2="225.50" stroke="#2a2a70" stroke-width="1.1" />
<line x1="448.30" y1="226.50" x2="463.30" y2="226.50" stroke="#602028" stroke-width="1.1" />
<line x1="474.80" y1="231.50" x2="489.80" y2="231.50" stroke="#111111" stroke-width="1.1" />
<line x1="499.50" y1="231.50" x2="514.50" y2="231.50" stroke="#333333" stroke-width="1.1" />
<text x="0" y="0" font-size="6.75" text-anchor="middle" fill="#111" stroke="#111" stroke-width="0.08" transform="translate(402.43,182.50) rotate(-90)">% on virus specific CD8 T cells</text>
<text x="431.00" y="243.48" font-size="6.6" text-anchor="middle" fill="#222" font-weight="normal" stroke="#222" stroke-width="0.08" >pre</text>
<text x="456.40" y="243.48" font-size="6.6" text-anchor="middle" fill="#222" font-weight="normal" stroke="#222" stroke-width="0.08" >post</text>
<text x="482.40" y="243.48" font-size="6.6" text-anchor="middle" fill="#222" font-weight="normal" stroke="#222" stroke-width="0.08" >pre</text>
<text x="504.70" y="243.48" font-size="6.6" text-anchor="middle" fill="#222" font-weight="normal" stroke="#222" stroke-width="0.08" >post</text>
<line x1="422.70" y1="245.30" x2="464.50" y2="245.30" stroke="#111" stroke-width="1.4" />
<line x1="473.20" y1="245.30" x2="515.00" y2="245.30" stroke="#111" stroke-width="1.4" />
<text x="442.30" y="251.57" font-size="6.3" text-anchor="middle" fill="#222" font-weight="normal" stroke="#222" stroke-width="0.08" >HIV</text>
<text x="494.20" y="251.57" font-size="6.3" text-anchor="middle" fill="#222" font-weight="normal" stroke="#222" stroke-width="0.08" >CMV</text>
<text x="2.60" y="275.40" font-size="11.4" text-anchor="start" fill="#000" font-weight="bold"  >E</text>
<line x1="78.00" y1="270.00" x2="183.50" y2="270.00" stroke="#000" stroke-width="1.4" />
<circle cx="131.60" cy="266.60" r="0.8" fill="#222"/>
<circle cx="134.00" cy="266.60" r="0.8" fill="#222"/>
<circle cx="136.40" cy="266.60" r="0.8" fill="#222"/>
<line x1="192.00" y1="270.00" x2="446.00" y2="270.00" stroke="#000" stroke-width="1.4" />
<circle cx="326.30" cy="266.60" r="0.8" fill="#222"/>
<circle cx="328.70" cy="266.60" r="0.8" fill="#222"/>
<circle cx="331.10" cy="266.60" r="0.8" fill="#222"/>
<line x1="79.60" y1="276.30" x2="334.40" y2="276.30" stroke="#000" stroke-width="1.4" />
<circle cx="246.40" cy="273.40" r="0.8" fill="#222"/>
<circle cx="248.80" cy="273.40" r="0.8" fill="#222"/>
<circle cx="251.20" cy="273.40" r="0.8" fill="#222"/>
<line x1="339.60" y1="276.30" x2="446.50" y2="276.30" stroke="#000" stroke-width="1.4" />
<circle cx="385.30" cy="273.40" r="0.8" fill="#222"/>
<circle cx="387.70" cy="273.40" r="0.8" fill="#222"/>
<circle cx="390.10" cy="273.40" r="0.8" fill="#222"/>
<path d="M80.00,303.80 L80.00,279.40 A24.4,24.4 0 0 1 88.10,280.79 Z" fill="#ff2a14" transform="translate(80.00,303.80) scale(1,0.9426229508196722) translate(-80.00,-303.80)"/>
<path d="M80.00,303.80 L88.10,280.79 A24.4,24.4 0 0 1 91.46,282.26 Z" fill="#ff9a10" transform="translate(80.00,303.80) scale(1,0.9426229508196722) translate(-80.00,-303.80)"/>
<path d="M80.00,303.80 L91.46,282.26 A24.4,24.4 0 0 1 100.91,316.37 Z" fill="#ffee00" transform="translate(80.00,303.80) scale(1,0.9426229508196722) translate(-80.00,-303.80)"/>
<path d="M80.00,303.80 L100.91,316.37 A24.4,24.4 0 0 1 99.99,317.80 Z" fill="#c8f000" transform="translate(80.00,303.80) scale(1,0.9426229508196722) translate(-80.00,-303.80)"/>
<path d="M80.00,303.80 L99.99,317.80 A24.4,24.4 0 0 1 64.64,322.76 Z" fill="#08ee6c" transform="translate(80.00,303.80) scale(1,0.9426229508196722) translate(-80.00,-303.80)"/>
<path d="M80.00,303.80 L64.64,322.76 A24.4,24.4 0 0 1 63.99,322.21 Z" fill="#20f0ff" transform="translate(80.00,303.80) scale(1,0.9426229508196722) translate(-80.00,-303.80)"/>
<path d="M80.00,303.80 L63.99,322.21 A24.4,24.4 0 0 1 55.84,307.20 Z" fill="#14a8ff" transform="translate(80.00,303.80) scale(1,0.9426229508196722) translate(-80.00,-303.80)"/>
<path d="M80.00,303.80 L55.84,307.20 A24.4,24.4 0 0 1 55.60,304.23 Z" fill="#1450ff" transform="translate(80.00,303.80) scale(1,0.9426229508196722) translate(-80.00,-303.80)"/>
<path d="M80.00,303.80 L55.60,304.23 A24.4,24.4 0 0 1 72.46,280.59 Z" fill="#bc3cf6" transform="translate(80.00,303.80) scale(1,0.9426229508196722) translate(-80.00,-303.80)"/>
<path d="M80.00,303.80 L72.46,280.59 A24.4,24.4 0 0 1 80.00,279.40 Z" fill="#ff40f8" transform="translate(80.00,303.80) scale(1,0.9426229508196722) translate(-80.00,-303.80)"/>
<path d="M186.60,304.40 L186.60,280.20 A24.2,24.2 0 0 1 193.27,281.14 Z" fill="#ff2a14" transform="translate(186.60,304.40) scale(1,0.9426229508196722) translate(-186.60,-304.40)"/>
<path d="M186.60,304.40 L193.27,281.14 A24.2,24.2 0 0 1 199.42,283.88 Z" fill="#ff9a10" transform="translate(186.60,304.40) scale(1,0.9426229508196722) translate(-186.60,-304.40)"/>
<path d="M186.60,304.40 L199.42,283.88 A24.2,24.2 0 0 1 210.67,301.87 Z" fill="#ffee00" transform="translate(186.60,304.40) scale(1,0.9426229508196722) translate(-186.60,-304.40)"/>
<path d="M186.60,304.40 L210.67,301.87 A24.2,24.2 0 0 1 210.80,304.40 Z" fill="#c8f000" transform="translate(186.60,304.40) scale(1,0.9426229508196722) translate(-186.60,-304.40)"/>
<path d="M186.60,304.40 L210.80,304.40 A24.2,24.2 0 0 1 181.98,328.16 Z" fill="#08ee6c" transform="translate(186.60,304.40) scale(1,0.9426229508196722) translate(-186.60,-304.40)"/>
<path d="M186.60,304.40 L181.98,328.16 A24.2,24.2 0 0 1 175.61,325.96 Z" fill="#20f0ff" transform="translate(186.60,304.40) scale(1,0.9426229508196722) translate(-186.60,-304.40)"/>
<path d="M186.60,304.40 L175.61,325.96 A24.2,24.2 0 0 1 165.86,316.86 Z" fill="#14a8ff" transform="translate(186.60,304.40) scale(1,0.9426229508196722) translate(-186.60,-304.40)"/>
<path d="M186.60,304.40 L165.86,316.86 A24.2,24.2 0 0 1 164.01,313.07 Z" fill="#1450ff" transform="translate(186.60,304.40) scale(1,0.9426229508196722) translate(-186.60,-304.40)"/>
<path d="M186.60,304.40 L164.01,313.07 A24.2,24.2 0 0 1 178.32,281.66 Z" fill="#bc3cf6" transform="translate(186.60,304.40) scale(1,0.9426229508196722) translate(-186.60,-304.40)"/>
<path d="M186.60,304.40 L178.32,281.66 A24.2,24.2 0 0 1 186.60,280.20 Z" fill="#ff40f8" transform="translate(186.60,304.40) scale(1,0.9426229508196722) translate(-186.60,-304.40)"/>
<path d="M334.80,304.20 L334.80,279.80 A24.4,24.4 0 0 1 340.58,280.49 Z" fill="#ff2a14" transform="translate(334.80,304.20) scale(1,0.9426229508196722) translate(-334.80,-304.20)"/>
<path d="M334.80,304.20 L340.58,280.49 A24.4,24.4 0 0 1 343.94,281.58 Z" fill="#ff9a10" transform="translate(334.80,304.20) scale(1,0.9426229508196722) translate(-334.80,-304.20)"/>
<path d="M334.80,304.20 L343.94,281.58 A24.4,24.4 0 0 1 358.75,299.54 Z" fill="#ffee00" transform="translate(334.80,304.20) scale(1,0.9426229508196722) translate(-334.80,-304.20)"/>
<path d="M334.80,304.20 L358.75,299.54 A24.4,24.4 0 0 1 358.96,300.80 Z" fill="#c8f000" transform="translate(334.80,304.20) scale(1,0.9426229508196722) translate(-334.80,-304.20)"/>
<path d="M334.80,304.20 L358.96,300.80 A24.4,24.4 0 0 1 339.87,328.07 Z" fill="#08ee6c" transform="translate(334.80,304.20) scale(1,0.9426229508196722) translate(-334.80,-304.20)"/>
<path d="M334.80,304.20 L339.87,328.07 A24.4,24.4 0 0 1 338.20,328.36 Z" fill="#20f0ff" transform="translate(334.80,304.20) scale(1,0.9426229508196722) translate(-334.80,-304.20)"/>
<path d="M334.80,304.20 L338.20,328.36 A24.4,24.4 0 0 1 319.44,323.16 Z" fill="#14a8ff" transform="translate(334.80,304.20) scale(1,0.9426229508196722) translate(-334.80,-304.20)"/>
<path d="M334.80,304.20 L319.44,323.16 A24.4,24.4 0 0 1 316.39,320.21 Z" fill="#1450ff" transform="translate(334.80,304.20) scale(1,0.9426229508196722) translate(-334.80,-304.20)"/>
<path d="M334.80,304.20 L316.39,320.21 A24.4,24.4 0 0 1 325.66,281.58 Z" fill="#bc3cf6" transform="translate(334.80,304.20) scale(1,0.9426229508196722) translate(-334.80,-304.20)"/>
<path d="M334.80,304.20 L325.66,281.58 A24.4,24.4 0 0 1 334.80,279.80 Z" fill="#ff40f8" transform="translate(334.80,304.20) scale(1,0.9426229508196722) translate(-334.80,-304.20)"/>
<path d="M448.90,304.30 L448.90,279.90 A24.4,24.4 0 0 1 452.17,280.12 Z" fill="#ff2a14" transform="translate(448.90,304.30) scale(1,0.9426229508196722) translate(-448.90,-304.30)"/>
<path d="M448.90,304.30 L452.17,280.12 A24.4,24.4 0 0 1 454.60,280.57 Z" fill="#ff9a10" transform="translate(448.90,304.30) scale(1,0.9426229508196722) translate(-448.90,-304.30)"/>
<path d="M448.90,304.30 L454.60,280.57 A24.4,24.4 0 0 1 464.26,285.34 Z" fill="#ffee00" transform="translate(448.90,304.30) scale(1,0.9426229508196722) translate(-448.90,-304.30)"/>
<path d="M448.90,304.30 L464.26,285.34 A24.4,24.4 0 0 1 455.22,327.87 Z" fill="#08ee6c" transform="translate(448.90,304.30) scale(1,0.9426229508196722) translate(-448.90,-304.30)"/>
<path d="M448.90,304.30 L455.22,327.87 A24.4,24.4 0 0 1 448.05,328.69 Z" fill="#20f0ff" transform="translate(448.90,304.30) scale(1,0.9426229508196722) translate(-448.90,-304.30)"/>
<path d="M448.90,304.30 L448.05,328.69 A24.4,24.4 0 0 1 443.41,328.07 Z" fill="#14a8ff" transform="translate(448.90,304.30) scale(1,0.9426229508196722) translate(-448.90,-304.30)"/>
<path d="M448.90,304.30 L443.41,328.07 A24.4,24.4 0 0 1 439.37,326.76 Z" fill="#1450ff" transform="translate(448.90,304.30) scale(1,0.9426229508196722) translate(-448.90,-304.30)"/>
<path d="M448.90,304.30 L439.37,326.76 A24.4,24.4 0 0 1 440.16,281.52 Z" fill="#bc3cf6" transform="translate(448.90,304.30) scale(1,0.9426229508196722) translate(-448.90,-304.30)"/>
<path d="M448.90,304.30 L440.16,281.52 A24.4,24.4 0 0 1 448.90,279.90 Z" fill="#ff40f8" transform="translate(448.90,304.30) scale(1,0.9426229508196722) translate(-448.90,-304.30)"/>
<rect x="32.00" y="333.40" width="5.20" height="5.00" fill="#1010d0" />
<text x="41.90" y="336.24" font-size="7.9" fill="#222">HIV specific CD8<tspan font-size="4.6" dy="-1.6">+</tspan><tspan dy="1.6"> T cells</tspan></text>
<text x="86.50" y="344.34" font-size="7.9" text-anchor="middle" fill="#222" font-weight="normal" stroke="#222" stroke-width="0.08" >(Before ART)</text>
<rect x="138.00" y="332.60" width="5.20" height="5.00" fill="#e01018" />
<text x="147.30" y="335.84" font-size="7.9" fill="#222">HIV specific CD8<tspan font-size="4.6" dy="-1.6">+</tspan><tspan dy="1.6"> T cells</tspan></text>
<text x="187.50" y="344.34" font-size="7.9" text-anchor="middle" fill="#222" font-weight="normal" stroke="#222" stroke-width="0.08" >(wk48)</text>
<rect x="285.70" y="333.10" width="5.20" height="5.00" fill="#8a8a8a" />
<text x="294.20" y="335.84" font-size="7.9" fill="#222">CMV specific CD8<tspan font-size="4.6" dy="-1.6">+</tspan><tspan dy="1.6"> T cells</tspan></text>
<text x="342.30" y="344.34" font-size="7.9" text-anchor="middle" fill="#222" font-weight="normal" stroke="#222" stroke-width="0.08" >(Before ART)</text>
<rect x="399.20" y="332.20" width="5.20" height="5.00" fill="#c4c4c4" />
<text x="410.70" y="335.34" font-size="7.9" fill="#222">CMV specific CD8<tspan font-size="4.6" dy="-1.6">+</tspan><tspan dy="1.6"> T cells</tspan></text>
<text x="452.70" y="343.54" font-size="7.9" text-anchor="middle" fill="#222" font-weight="normal" stroke="#222" stroke-width="0.08" >(wk48)</text>
<line x1="16.80" y1="357.50" x2="16.80" y2="444.60" stroke="#8a8a8a" stroke-width="0.8" />
<line x1="16.80" y1="444.40" x2="512.00" y2="444.40" stroke="#333" stroke-width="0.8" />
<line x1="15.20" y1="427.55" x2="16.80" y2="427.55" stroke="#8a8a8a" stroke-width="0.7" />
<text x="14.20" y="428.77" font-size="3.4" text-anchor="end" fill="#777" font-weight="normal" stroke="#777" stroke-width="0.08" >10</text>
<line x1="15.20" y1="410.10" x2="16.80" y2="410.10" stroke="#8a8a8a" stroke-width="0.7" />
<text x="14.20" y="411.32" font-size="3.4" text-anchor="end" fill="#777" font-weight="normal" stroke="#777" stroke-width="0.08" >20</text>
<line x1="15.20" y1="392.65" x2="16.80" y2="392.65" stroke="#8a8a8a" stroke-width="0.7" />
<text x="14.20" y="393.87" font-size="3.4" text-anchor="end" fill="#777" font-weight="normal" stroke="#777" stroke-width="0.08" >30</text>
<line x1="15.20" y1="375.20" x2="16.80" y2="375.20" stroke="#8a8a8a" stroke-width="0.7" />
<text x="14.20" y="376.42" font-size="3.4" text-anchor="end" fill="#777" font-weight="normal" stroke="#777" stroke-width="0.08" >40</text>
<line x1="15.20" y1="357.75" x2="16.80" y2="357.75" stroke="#8a8a8a" stroke-width="0.7" />
<text x="14.20" y="358.97" font-size="3.4" text-anchor="end" fill="#777" font-weight="normal" stroke="#777" stroke-width="0.08" >50</text>
<line x1="16.00" y1="444.40" x2="16.00" y2="445.80" stroke="#333" stroke-width="0.7" />
<line x1="47.00" y1="444.40" x2="47.00" y2="445.80" stroke="#333" stroke-width="0.7" />
<line x1="78.00" y1="444.40" x2="78.00" y2="445.80" stroke="#333" stroke-width="0.7" />
<line x1="109.00" y1="444.40" x2="109.00" y2="445.80" stroke="#333" stroke-width="0.7" />
<line x1="140.00" y1="444.40" x2="140.00" y2="445.80" stroke="#333" stroke-width="0.7" />
<line x1="171.00" y1="444.40" x2="171.00" y2="445.80" stroke="#333" stroke-width="0.7" />
<line x1="202.00" y1="444.40" x2="202.00" y2="445.80" stroke="#333" stroke-width="0.7" />
<line x1="233.00" y1="444.40" x2="233.00" y2="445.80" stroke="#333" stroke-width="0.7" />
<line x1="264.00" y1="444.40" x2="264.00" y2="445.80" stroke="#333" stroke-width="0.7" />
<line x1="295.00" y1="444.40" x2="295.00" y2="445.80" stroke="#333" stroke-width="0.7" />
<line x1="326.00" y1="444.40" x2="326.00" y2="445.80" stroke="#333" stroke-width="0.7" />
<line x1="357.00" y1="444.40" x2="357.00" y2="445.80" stroke="#333" stroke-width="0.7" />
<line x1="388.00" y1="444.40" x2="388.00" y2="445.80" stroke="#333" stroke-width="0.7" />
<line x1="419.00" y1="444.40" x2="419.00" y2="445.80" stroke="#333" stroke-width="0.7" />
<line x1="450.00" y1="444.40" x2="450.00" y2="445.80" stroke="#333" stroke-width="0.7" />
<line x1="481.00" y1="444.40" x2="481.00" y2="445.80" stroke="#333" stroke-width="0.7" />
<line x1="512.00" y1="444.40" x2="512.00" y2="445.80" stroke="#333" stroke-width="0.7" />
<text x="0" y="0" font-size="5.95" text-anchor="middle" fill="#111" stroke="#111" stroke-width="0.22" transform="translate(5.14,397.30) rotate(-90)">% on virus specific CD8<tspan font-size="4" dy="-1.6">+</tspan><tspan dy="1.6"> T cells</tspan></text>
<line x1="22.65" y1="427.20" x2="22.65" y2="432.90" stroke="#333" stroke-width="0.7" />
<line x1="22.65" y1="441.80" x2="22.65" y2="444.00" stroke="#333" stroke-width="0.7" />
<rect x="20.40" y="432.90" width="4.50" height="8.90" fill="#1a2ad0" />
<line x1="21.00" y1="437.00" x2="24.30" y2="437.00" stroke="#222" stroke-width="0.5" opacity="0.45"/>
<line x1="29.10" y1="428.20" x2="29.10" y2="435.40" stroke="#555" stroke-width="0.7" />
<line x1="29.10" y1="441.40" x2="29.10" y2="444.00" stroke="#555" stroke-width="0.7" />
<rect x="27.00" y="435.40" width="4.20" height="6.00" fill="#e0301c" />
<line x1="27.60" y1="438.50" x2="30.60" y2="438.50" stroke="#222" stroke-width="0.5" opacity="0.45"/>
<line x1="35.65" y1="429.60" x2="35.65" y2="436.70" stroke="#333" stroke-width="0.7" />
<line x1="35.65" y1="442.30" x2="35.65" y2="444.30" stroke="#333" stroke-width="0.7" />
<rect x="33.30" y="436.70" width="4.70" height="5.60" fill="#5e5e5e" />
<line x1="33.90" y1="440.00" x2="37.40" y2="440.00" stroke="#222" stroke-width="0.5" opacity="0.45"/>
<line x1="42.00" y1="436.40" x2="42.00" y2="441.80" stroke="#777" stroke-width="0.7" />
<rect x="40.80" y="441.80" width="2.40" height="2.20" fill="#d4d4d4" />
<line x1="42.00" y1="441.80" x2="42.00" y2="444.00" stroke="#999" stroke-width="0.6" />
<line x1="41.10" y1="442.50" x2="42.90" y2="442.50" stroke="#111" stroke-width="0.8" opacity="0.8"/>
<line x1="84.35" y1="432.30" x2="84.35" y2="436.90" stroke="#333" stroke-width="0.7" />
<rect x="82.10" y="436.90" width="4.50" height="6.90" fill="#1a2ad0" />
<line x1="90.95" y1="430.80" x2="90.95" y2="433.70" stroke="#555" stroke-width="0.7" />
<line x1="90.95" y1="441.80" x2="90.95" y2="443.50" stroke="#555" stroke-width="0.7" />
<rect x="88.60" y="433.70" width="4.70" height="8.10" fill="#e0301c" />
<line x1="89.20" y1="438.00" x2="92.70" y2="438.00" stroke="#222" stroke-width="0.5" opacity="0.45"/>
<line x1="97.35" y1="432.30" x2="97.35" y2="439.00" stroke="#333" stroke-width="0.7" />
<rect x="95.30" y="439.00" width="4.10" height="4.80" fill="#5e5e5e" />
<line x1="95.90" y1="442.00" x2="98.80" y2="442.00" stroke="#222" stroke-width="0.5" opacity="0.45"/>
<line x1="103.70" y1="437.00" x2="103.70" y2="439.40" stroke="#777" stroke-width="0.7" />
<line x1="103.70" y1="443.00" x2="103.70" y2="444.00" stroke="#777" stroke-width="0.7" />
<rect x="102.40" y="439.40" width="2.60" height="3.60" fill="#d4d4d4" />
<line x1="103.70" y1="439.40" x2="103.70" y2="443.00" stroke="#999" stroke-width="0.6" />
<line x1="102.70" y1="441.50" x2="104.70" y2="441.50" stroke="#111" stroke-width="0.8" opacity="0.8"/>
<line x1="115.45" y1="375.40" x2="115.45" y2="391.60" stroke="#333" stroke-width="0.7" />
<line x1="115.45" y1="419.10" x2="115.45" y2="429.20" stroke="#333" stroke-width="0.7" />
<rect x="113.20" y="391.60" width="4.50" height="27.50" fill="#1a2ad0" />
<line x1="113.80" y1="405.00" x2="117.10" y2="405.00" stroke="#222" stroke-width="0.5" opacity="0.45"/>
<line x1="121.55" y1="412.00" x2="121.55" y2="419.10" stroke="#555" stroke-width="0.7" />
<line x1="121.55" y1="436.30" x2="121.55" y2="438.40" stroke="#555" stroke-width="0.7" />
<rect x="119.30" y="419.10" width="4.50" height="17.20" fill="#e0301c" />
<line x1="119.90" y1="428.00" x2="123.20" y2="428.00" stroke="#222" stroke-width="0.5" opacity="0.45"/>
<line x1="128.25" y1="402.40" x2="128.25" y2="413.40" stroke="#333" stroke-width="0.7" />
<line x1="128.25" y1="436.30" x2="128.25" y2="441.00" stroke="#333" stroke-width="0.7" />
<rect x="126.20" y="413.40" width="4.10" height="22.90" fill="#5e5e5e" />
<line x1="126.80" y1="425.00" x2="129.70" y2="425.00" stroke="#222" stroke-width="0.5" opacity="0.45"/>
<line x1="134.50" y1="432.30" x2="134.50" y2="435.30" stroke="#777" stroke-width="0.7" />
<line x1="134.50" y1="440.40" x2="134.50" y2="443.00" stroke="#777" stroke-width="0.7" />
<rect x="133.50" y="435.30" width="2.00" height="5.10" fill="#d4d4d4" />
<line x1="134.50" y1="435.30" x2="134.50" y2="440.40" stroke="#999" stroke-width="0.6" />
<line x1="133.80" y1="438.50" x2="135.20" y2="438.50" stroke="#111" stroke-width="0.8" opacity="0.8"/>
<line x1="146.10" y1="438.70" x2="146.10" y2="440.60" stroke="#333" stroke-width="0.7" />
<rect x="144.20" y="440.60" width="3.80" height="3.80" fill="#1a2ad0" />
<line x1="152.50" y1="436.70" x2="152.50" y2="437.60" stroke="#555" stroke-width="0.7" />
<line x1="152.50" y1="441.90" x2="152.50" y2="444.00" stroke="#555" stroke-width="0.7" />
<rect x="150.20" y="437.60" width="4.60" height="4.30" fill="#e0301c" />
<line x1="150.80" y1="440.00" x2="154.20" y2="440.00" stroke="#222" stroke-width="0.5" opacity="0.45"/>
<line x1="158.75" y1="441.00" x2="158.75" y2="442.50" stroke="#333" stroke-width="0.7" />
<rect x="157.30" y="442.50" width="2.90" height="1.90" fill="#5e5e5e" />
<line x1="165.40" y1="440.00" x2="165.40" y2="443.20" stroke="#777" stroke-width="0.7" />
<rect x="164.40" y="443.20" width="2.00" height="1.20" fill="#d4d4d4" />
<line x1="165.40" y1="443.20" x2="165.40" y2="444.40" stroke="#999" stroke-width="0.6" />
<line x1="164.70" y1="443.50" x2="166.10" y2="443.50" stroke="#111" stroke-width="0.8" opacity="0.8"/>
<line x1="176.40" y1="442.00" x2="176.40" y2="442.80" stroke="#333" stroke-width="0.7" />
<rect x="175.20" y="442.80" width="2.40" height="1.60" fill="#1a2ad0" />
<rect x="182.00" y="443.30" width="2.50" height="1.10" fill="#e0301c" />
<line x1="196.60" y1="441.00" x2="196.60" y2="443.80" stroke="#777" stroke-width="0.7" />
<rect x="195.80" y="443.80" width="1.60" height="0.60" fill="#d4d4d4" />
<line x1="196.60" y1="443.80" x2="196.60" y2="444.40" stroke="#999" stroke-width="0.6" />
<line x1="207.75" y1="440.60" x2="207.75" y2="443.20" stroke="#333" stroke-width="0.7" />
<rect x="205.80" y="443.20" width="3.90" height="1.20" fill="#1a2ad0" />
<rect x="218.30" y="441.90" width="4.60" height="2.50" fill="#5e5e5e" />
<line x1="218.90" y1="443.00" x2="222.30" y2="443.00" stroke="#222" stroke-width="0.5" opacity="0.45"/>
<line x1="238.70" y1="384.60" x2="238.70" y2="392.90" stroke="#333" stroke-width="0.7" />
<line x1="238.70" y1="418.40" x2="238.70" y2="424.40" stroke="#333" stroke-width="0.7" />
<rect x="236.30" y="392.90" width="4.80" height="25.50" fill="#1a2ad0" />
<line x1="236.90" y1="409.50" x2="240.50" y2="409.50" stroke="#222" stroke-width="0.5" opacity="0.45"/>
<line x1="245.35" y1="368.30" x2="245.35" y2="376.90" stroke="#555" stroke-width="0.7" />
<line x1="245.35" y1="415.60" x2="245.35" y2="421.40" stroke="#555" stroke-width="0.7" />
<rect x="242.90" y="376.90" width="4.90" height="38.70" fill="#e0301c" />
<line x1="243.50" y1="398.20" x2="247.20" y2="398.20" stroke="#222" stroke-width="0.5" opacity="0.45"/>
<line x1="251.60" y1="380.70" x2="251.60" y2="389.50" stroke="#333" stroke-width="0.7" />
<line x1="251.60" y1="420.60" x2="251.60" y2="428.90" stroke="#333" stroke-width="0.7" />
<rect x="249.10" y="389.50" width="5.00" height="31.10" fill="#5e5e5e" />
<line x1="249.70" y1="409.00" x2="253.50" y2="409.00" stroke="#222" stroke-width="0.5" opacity="0.45"/>
<line x1="258.40" y1="358.00" x2="258.40" y2="363.30" stroke="#777" stroke-width="0.7" />
<line x1="258.40" y1="415.60" x2="258.40" y2="418.00" stroke="#777" stroke-width="0.7" />
<rect x="256.60" y="363.30" width="3.60" height="52.30" fill="#d4d4d4" />
<line x1="258.40" y1="363.30" x2="258.40" y2="415.60" stroke="#999" stroke-width="0.6" />
<line x1="256.90" y1="388.20" x2="259.90" y2="388.20" stroke="#111" stroke-width="0.8" opacity="0.8"/>
<line x1="269.50" y1="441.00" x2="269.50" y2="443.00" stroke="#333" stroke-width="0.7" />
<rect x="268.50" y="443.00" width="2.00" height="1.40" fill="#1a2ad0" />
<rect x="274.00" y="443.30" width="3.00" height="1.10" fill="#e0301c" />
<line x1="300.55" y1="440.20" x2="300.55" y2="441.90" stroke="#333" stroke-width="0.7" />
<rect x="298.10" y="441.90" width="4.90" height="2.50" fill="#1a2ad0" />
<line x1="306.75" y1="430.30" x2="306.75" y2="434.80" stroke="#555" stroke-width="0.7" />
<line x1="306.75" y1="443.20" x2="306.75" y2="444.00" stroke="#555" stroke-width="0.7" />
<rect x="304.90" y="434.80" width="3.70" height="8.40" fill="#e0301c" />
<line x1="305.50" y1="439.30" x2="308.00" y2="439.30" stroke="#222" stroke-width="0.5" opacity="0.45"/>
<line x1="313.15" y1="440.20" x2="313.15" y2="441.90" stroke="#333" stroke-width="0.7" />
<rect x="311.20" y="441.90" width="3.90" height="2.50" fill="#5e5e5e" />
<line x1="319.85" y1="435.40" x2="319.85" y2="436.70" stroke="#333" stroke-width="0.7" />
<rect x="318.70" y="436.70" width="2.30" height="6.50" fill="#5e5e5e" />
<line x1="319.30" y1="443.00" x2="320.40" y2="443.00" stroke="#222" stroke-width="0.5" opacity="0.45"/>
<line x1="331.40" y1="409.20" x2="331.40" y2="418.80" stroke="#333" stroke-width="0.7" />
<line x1="331.40" y1="436.50" x2="331.40" y2="442.00" stroke="#333" stroke-width="0.7" />
<rect x="329.00" y="418.80" width="4.80" height="17.70" fill="#1a2ad0" />
<line x1="329.60" y1="429.50" x2="333.20" y2="429.50" stroke="#222" stroke-width="0.5" opacity="0.45"/>
<line x1="337.85" y1="424.40" x2="337.85" y2="429.80" stroke="#555" stroke-width="0.7" />
<line x1="337.85" y1="438.80" x2="337.85" y2="442.40" stroke="#555" stroke-width="0.7" />
<rect x="335.70" y="429.80" width="4.30" height="9.00" fill="#e0301c" />
<line x1="336.30" y1="434.50" x2="339.40" y2="434.50" stroke="#222" stroke-width="0.5" opacity="0.45"/>
<line x1="344.30" y1="415.00" x2="344.30" y2="420.80" stroke="#333" stroke-width="0.7" />
<line x1="344.30" y1="439.50" x2="344.30" y2="442.00" stroke="#333" stroke-width="0.7" />
<rect x="342.20" y="420.80" width="4.20" height="18.70" fill="#5e5e5e" />
<line x1="342.80" y1="432.40" x2="345.80" y2="432.40" stroke="#222" stroke-width="0.5" opacity="0.45"/>
<line x1="350.40" y1="427.90" x2="350.40" y2="433.70" stroke="#777" stroke-width="0.7" />
<line x1="350.40" y1="441.40" x2="350.40" y2="443.50" stroke="#777" stroke-width="0.7" />
<rect x="349.00" y="433.70" width="2.80" height="7.70" fill="#d4d4d4" />
<line x1="350.40" y1="433.70" x2="350.40" y2="441.40" stroke="#999" stroke-width="0.6" />
<line x1="349.30" y1="439.10" x2="351.50" y2="439.10" stroke="#111" stroke-width="0.8" opacity="0.8"/>
<line x1="362.25" y1="436.00" x2="362.25" y2="438.80" stroke="#333" stroke-width="0.7" />
<rect x="360.00" y="438.80" width="4.50" height="5.40" fill="#1a2ad0" />
<line x1="368.50" y1="437.30" x2="368.50" y2="438.80" stroke="#555" stroke-width="0.7" />
<rect x="366.40" y="438.80" width="4.20" height="4.90" fill="#e0301c" />
<line x1="367.00" y1="441.50" x2="370.00" y2="441.50" stroke="#222" stroke-width="0.5" opacity="0.45"/>
<line x1="374.95" y1="428.20" x2="374.95" y2="434.30" stroke="#333" stroke-width="0.7" />
<line x1="374.95" y1="442.00" x2="374.95" y2="444.00" stroke="#333" stroke-width="0.7" />
<rect x="372.80" y="434.30" width="4.30" height="7.70" fill="#5e5e5e" />
<line x1="373.40" y1="440.00" x2="376.50" y2="440.00" stroke="#222" stroke-width="0.5" opacity="0.45"/>
<line x1="381.50" y1="433.40" x2="381.50" y2="436.00" stroke="#777" stroke-width="0.7" />
<line x1="381.50" y1="442.00" x2="381.50" y2="444.00" stroke="#777" stroke-width="0.7" />
<rect x="379.90" y="436.00" width="3.20" height="6.00" fill="#d4d4d4" />
<line x1="381.50" y1="436.00" x2="381.50" y2="442.00" stroke="#999" stroke-width="0.6" />
<line x1="380.20" y1="440.40" x2="382.80" y2="440.40" stroke="#111" stroke-width="0.8" opacity="0.8"/>
<rect x="397.50" y="442.00" width="3.20" height="2.40" fill="#e0301c" />
<line x1="412.50" y1="441.00" x2="412.50" y2="443.00" stroke="#777" stroke-width="0.7" />
<rect x="411.80" y="443.00" width="1.40" height="1.40" fill="#d4d4d4" />
<line x1="412.50" y1="443.00" x2="412.50" y2="444.40" stroke="#999" stroke-width="0.6" />
<line x1="423.80" y1="435.80" x2="423.80" y2="441.00" stroke="#333" stroke-width="0.7" />
<rect x="421.90" y="441.00" width="3.80" height="3.40" fill="#1a2ad0" />
<line x1="430.05" y1="441.20" x2="430.05" y2="441.90" stroke="#555" stroke-width="0.7" />
<rect x="427.90" y="441.90" width="4.30" height="2.50" fill="#e0301c" />
<rect x="434.80" y="441.20" width="3.80" height="3.20" fill="#5e5e5e" />
<line x1="435.40" y1="443.00" x2="438.00" y2="443.00" stroke="#222" stroke-width="0.5" opacity="0.45"/>
<line x1="454.55" y1="385.60" x2="454.55" y2="402.90" stroke="#333" stroke-width="0.7" />
<line x1="454.55" y1="431.00" x2="454.55" y2="439.50" stroke="#333" stroke-width="0.7" />
<rect x="452.50" y="402.90" width="4.10" height="28.10" fill="#1a2ad0" />
<line x1="453.10" y1="420.20" x2="456.00" y2="420.20" stroke="#222" stroke-width="0.5" opacity="0.45"/>
<line x1="461.15" y1="381.50" x2="461.15" y2="390.10" stroke="#555" stroke-width="0.7" />
<line x1="461.15" y1="413.50" x2="461.15" y2="419.20" stroke="#555" stroke-width="0.7" />
<rect x="458.60" y="390.10" width="5.10" height="23.40" fill="#e0301c" />
<line x1="459.20" y1="398.80" x2="463.10" y2="398.80" stroke="#222" stroke-width="0.5" opacity="0.45"/>
<line x1="467.55" y1="359.20" x2="467.55" y2="368.70" stroke="#333" stroke-width="0.7" />
<line x1="467.55" y1="422.20" x2="467.55" y2="426.30" stroke="#333" stroke-width="0.7" />
<rect x="465.30" y="368.70" width="4.50" height="53.50" fill="#5e5e5e" />
<line x1="465.90" y1="391.70" x2="469.20" y2="391.70" stroke="#222" stroke-width="0.5" opacity="0.45"/>
<line x1="474.20" y1="354.50" x2="474.20" y2="363.20" stroke="#777" stroke-width="0.7" />
<line x1="474.20" y1="401.90" x2="474.20" y2="405.40" stroke="#777" stroke-width="0.7" />
<rect x="472.50" y="363.20" width="3.40" height="38.70" fill="#d4d4d4" />
<line x1="474.20" y1="363.20" x2="474.20" y2="401.90" stroke="#999" stroke-width="0.6" />
<line x1="472.80" y1="382.00" x2="475.60" y2="382.00" stroke="#111" stroke-width="0.8" opacity="0.8"/>
<line x1="485.30" y1="435.00" x2="485.30" y2="437.10" stroke="#333" stroke-width="0.7" />
<rect x="483.30" y="437.10" width="4.00" height="6.50" fill="#1a2ad0" />
<line x1="492.00" y1="427.70" x2="492.00" y2="433.00" stroke="#555" stroke-width="0.7" />
<line x1="492.00" y1="441.60" x2="492.00" y2="444.00" stroke="#555" stroke-width="0.7" />
<rect x="489.80" y="433.00" width="4.40" height="8.60" fill="#e0301c" />
<line x1="490.40" y1="437.50" x2="493.60" y2="437.50" stroke="#222" stroke-width="0.5" opacity="0.45"/>
<line x1="498.75" y1="426.90" x2="498.75" y2="434.50" stroke="#333" stroke-width="0.7" />
<line x1="498.75" y1="440.60" x2="498.75" y2="444.00" stroke="#333" stroke-width="0.7" />
<rect x="496.90" y="434.50" width="3.70" height="6.10" fill="#5e5e5e" />
<line x1="497.50" y1="437.50" x2="500.00" y2="437.50" stroke="#222" stroke-width="0.5" opacity="0.45"/>
<line x1="504.70" y1="432.40" x2="504.70" y2="434.50" stroke="#777" stroke-width="0.7" />
<line x1="504.70" y1="440.60" x2="504.70" y2="443.00" stroke="#777" stroke-width="0.7" />
<rect x="503.40" y="434.50" width="2.60" height="6.10" fill="#d4d4d4" />
<line x1="504.70" y1="434.50" x2="504.70" y2="440.60" stroke="#999" stroke-width="0.6" />
<line x1="503.70" y1="440.00" x2="505.70" y2="440.00" stroke="#111" stroke-width="0.8" opacity="0.8"/>
<text x="4.60" y="452.36" font-size="6.0" text-anchor="start" fill="#333" font-weight="normal"  >2B4</text>
<text x="4.60" y="458.86" font-size="6.0" text-anchor="start" fill="#333" font-weight="normal"  >CD160</text>
<text x="4.60" y="465.26" font-size="6.0" text-anchor="start" fill="#333" font-weight="normal"  >LAG-3</text>
<text x="4.60" y="471.76" font-size="6.0" text-anchor="start" fill="#333" font-weight="normal"  >PD-1</text>
<text x="4.60" y="477.96" font-size="6.0" text-anchor="start" fill="#333" font-weight="normal"  >Pie Slice</text>
<line x1="31.70" y1="450.20" x2="33.30" y2="450.20" stroke="#555" stroke-width="0.6" />
<line x1="32.50" y1="449.40" x2="32.50" y2="451.00" stroke="#555" stroke-width="0.6" />
<line x1="31.70" y1="456.70" x2="33.30" y2="456.70" stroke="#555" stroke-width="0.6" />
<line x1="32.50" y1="455.90" x2="32.50" y2="457.50" stroke="#555" stroke-width="0.6" />
<line x1="31.70" y1="463.10" x2="33.30" y2="463.10" stroke="#555" stroke-width="0.6" />
<line x1="32.50" y1="462.30" x2="32.50" y2="463.90" stroke="#555" stroke-width="0.6" />
<line x1="31.70" y1="469.60" x2="33.30" y2="469.60" stroke="#555" stroke-width="0.6" />
<line x1="32.50" y1="468.80" x2="32.50" y2="470.40" stroke="#555" stroke-width="0.6" />
<rect x="30.60" y="473.90" width="3.80" height="3.80" fill="#8c2828" />
<rect x="31.80" y="475.10" width="1.40" height="1.40" fill="#ffffff" opacity="0.45"/>
<line x1="62.75" y1="450.20" x2="64.15" y2="450.20" stroke="#999" stroke-width="0.5" opacity="0.6"/>
<line x1="62.65" y1="456.70" x2="64.25" y2="456.70" stroke="#555" stroke-width="0.6" />
<line x1="63.45" y1="455.90" x2="63.45" y2="457.50" stroke="#555" stroke-width="0.6" />
<line x1="62.65" y1="463.10" x2="64.25" y2="463.10" stroke="#555" stroke-width="0.6" />
<line x1="63.45" y1="462.30" x2="63.45" y2="463.90" stroke="#555" stroke-width="0.6" />
<line x1="62.65" y1="469.60" x2="64.25" y2="469.60" stroke="#555" stroke-width="0.6" />
<line x1="63.45" y1="468.80" x2="63.45" y2="470.40" stroke="#555" stroke-width="0.6" />
<rect x="61.55" y="473.90" width="3.80" height="3.80" fill="#a8603c" />
<rect x="62.75" y="475.10" width="1.40" height="1.40" fill="#ffffff" opacity="0.45"/>
<line x1="93.60" y1="450.20" x2="95.20" y2="450.20" stroke="#555" stroke-width="0.6" />
<line x1="94.40" y1="449.40" x2="94.40" y2="451.00" stroke="#555" stroke-width="0.6" />
<line x1="93.70" y1="456.70" x2="95.10" y2="456.70" stroke="#999" stroke-width="0.5" opacity="0.6"/>
<line x1="93.60" y1="463.10" x2="95.20" y2="463.10" stroke="#555" stroke-width="0.6" />
<line x1="94.40" y1="462.30" x2="94.40" y2="463.90" stroke="#555" stroke-width="0.6" />
<line x1="93.60" y1="469.60" x2="95.20" y2="469.60" stroke="#555" stroke-width="0.6" />
<line x1="94.40" y1="468.80" x2="94.40" y2="470.40" stroke="#555" stroke-width="0.6" />
<rect x="92.50" y="473.90" width="3.80" height="3.80" fill="#c8b400" />
<rect x="93.70" y="475.10" width="1.40" height="1.40" fill="#ffffff" opacity="0.45"/>
<line x1="124.55" y1="450.20" x2="126.15" y2="450.20" stroke="#555" stroke-width="0.6" />
<line x1="125.35" y1="449.40" x2="125.35" y2="451.00" stroke="#555" stroke-width="0.6" />
<line x1="124.55" y1="456.70" x2="126.15" y2="456.70" stroke="#555" stroke-width="0.6" />
<line x1="125.35" y1="455.90" x2="125.35" y2="457.50" stroke="#555" stroke-width="0.6" />
<line x1="124.65" y1="463.10" x2="126.05" y2="463.10" stroke="#999" stroke-width="0.5" opacity="0.6"/>
<line x1="124.55" y1="469.60" x2="126.15" y2="469.60" stroke="#555" stroke-width="0.6" />
<line x1="125.35" y1="468.80" x2="125.35" y2="470.40" stroke="#555" stroke-width="0.6" />
<rect x="123.45" y="473.90" width="3.80" height="3.80" fill="#b4b400" />
<rect x="124.65" y="475.10" width="1.40" height="1.40" fill="#ffffff" opacity="0.45"/>
<line x1="155.50" y1="450.20" x2="157.10" y2="450.20" stroke="#555" stroke-width="0.6" />
<line x1="156.30" y1="449.40" x2="156.30" y2="451.00" stroke="#555" stroke-width="0.6" />
<line x1="155.50" y1="456.70" x2="157.10" y2="456.70" stroke="#555" stroke-width="0.6" />
<line x1="156.30" y1="455.90" x2="156.30" y2="457.50" stroke="#555" stroke-width="0.6" />
<line x1="155.50" y1="463.10" x2="157.10" y2="463.10" stroke="#555" stroke-width="0.6" />
<line x1="156.30" y1="462.30" x2="156.30" y2="463.90" stroke="#555" stroke-width="0.6" />
<line x1="155.60" y1="469.60" x2="157.00" y2="469.60" stroke="#999" stroke-width="0.5" opacity="0.6"/>
<rect x="154.40" y="473.90" width="3.80" height="3.80" fill="#96a000" />
<rect x="155.60" y="475.10" width="1.40" height="1.40" fill="#ffffff" opacity="0.45"/>
<line x1="186.55" y1="450.20" x2="187.95" y2="450.20" stroke="#999" stroke-width="0.5" opacity="0.6"/>
<line x1="186.55" y1="456.70" x2="187.95" y2="456.70" stroke="#999" stroke-width="0.5" opacity="0.6"/>
<line x1="186.45" y1="463.10" x2="188.05" y2="463.10" stroke="#555" stroke-width="0.6" />
<line x1="187.25" y1="462.30" x2="187.25" y2="463.90" stroke="#555" stroke-width="0.6" />
<line x1="186.45" y1="469.60" x2="188.05" y2="469.60" stroke="#555" stroke-width="0.6" />
<line x1="187.25" y1="468.80" x2="187.25" y2="470.40" stroke="#555" stroke-width="0.6" />
<rect x="185.35" y="473.90" width="3.80" height="3.80" fill="#3c8c14" />
<rect x="186.55" y="475.10" width="1.40" height="1.40" fill="#ffffff" opacity="0.45"/>
<line x1="217.50" y1="450.20" x2="218.90" y2="450.20" stroke="#999" stroke-width="0.5" opacity="0.6"/>
<line x1="217.40" y1="456.70" x2="219.00" y2="456.70" stroke="#555" stroke-width="0.6" />
<line x1="218.20" y1="455.90" x2="218.20" y2="457.50" stroke="#555" stroke-width="0.6" />
<line x1="217.50" y1="463.10" x2="218.90" y2="463.10" stroke="#999" stroke-width="0.5" opacity="0.6"/>
<line x1="217.40" y1="469.60" x2="219.00" y2="469.60" stroke="#555" stroke-width="0.6" />
<line x1="218.20" y1="468.80" x2="218.20" y2="470.40" stroke="#555" stroke-width="0.6" />
<rect x="216.30" y="473.90" width="3.80" height="3.80" fill="#28aa3c" />
<rect x="217.50" y="475.10" width="1.40" height="1.40" fill="#ffffff" opacity="0.45"/>
<line x1="248.35" y1="450.20" x2="249.95" y2="450.20" stroke="#555" stroke-width="0.6" />
<line x1="249.15" y1="449.40" x2="249.15" y2="451.00" stroke="#555" stroke-width="0.6" />
<line x1="248.45" y1="456.70" x2="249.85" y2="456.70" stroke="#999" stroke-width="0.5" opacity="0.6"/>
<line x1="248.45" y1="463.10" x2="249.85" y2="463.10" stroke="#999" stroke-width="0.5" opacity="0.6"/>
<line x1="248.35" y1="469.60" x2="249.95" y2="469.60" stroke="#555" stroke-width="0.6" />
<line x1="249.15" y1="468.80" x2="249.15" y2="470.40" stroke="#555" stroke-width="0.6" />
<rect x="247.25" y="473.90" width="3.80" height="3.80" fill="#28a050" />
<rect x="248.45" y="475.10" width="1.40" height="1.40" fill="#ffffff" opacity="0.45"/>
<line x1="279.40" y1="450.20" x2="280.80" y2="450.20" stroke="#999" stroke-width="0.5" opacity="0.6"/>
<line x1="279.30" y1="456.70" x2="280.90" y2="456.70" stroke="#555" stroke-width="0.6" />
<line x1="280.10" y1="455.90" x2="280.10" y2="457.50" stroke="#555" stroke-width="0.6" />
<line x1="279.30" y1="463.10" x2="280.90" y2="463.10" stroke="#555" stroke-width="0.6" />
<line x1="280.10" y1="462.30" x2="280.10" y2="463.90" stroke="#555" stroke-width="0.6" />
<line x1="279.40" y1="469.60" x2="280.80" y2="469.60" stroke="#999" stroke-width="0.5" opacity="0.6"/>
<rect x="278.20" y="473.90" width="3.80" height="3.80" fill="#28a078" />
<rect x="279.40" y="475.10" width="1.40" height="1.40" fill="#ffffff" opacity="0.45"/>
<line x1="310.25" y1="450.20" x2="311.85" y2="450.20" stroke="#555" stroke-width="0.6" />
<line x1="311.05" y1="449.40" x2="311.05" y2="451.00" stroke="#555" stroke-width="0.6" />
<line x1="310.35" y1="456.70" x2="311.75" y2="456.70" stroke="#999" stroke-width="0.5" opacity="0.6"/>
<line x1="310.25" y1="463.10" x2="311.85" y2="463.10" stroke="#555" stroke-width="0.6" />
<line x1="311.05" y1="462.30" x2="311.05" y2="463.90" stroke="#555" stroke-width="0.6" />
<line x1="310.35" y1="469.60" x2="311.75" y2="469.60" stroke="#999" stroke-width="0.5" opacity="0.6"/>
<rect x="309.15" y="473.90" width="3.80" height="3.80" fill="#28a096" />
<rect x="310.35" y="475.10" width="1.40" height="1.40" fill="#ffffff" opacity="0.45"/>
<line x1="341.20" y1="450.20" x2="342.80" y2="450.20" stroke="#555" stroke-width="0.6" />
<line x1="342.00" y1="449.40" x2="342.00" y2="451.00" stroke="#555" stroke-width="0.6" />
<line x1="341.20" y1="456.70" x2="342.80" y2="456.70" stroke="#555" stroke-width="0.6" />
<line x1="342.00" y1="455.90" x2="342.00" y2="457.50" stroke="#555" stroke-width="0.6" />
<line x1="341.30" y1="463.10" x2="342.70" y2="463.10" stroke="#999" stroke-width="0.5" opacity="0.6"/>
<line x1="341.30" y1="469.60" x2="342.70" y2="469.60" stroke="#999" stroke-width="0.5" opacity="0.6"/>
<rect x="340.10" y="473.90" width="3.80" height="3.80" fill="#326e96" />
<rect x="341.30" y="475.10" width="1.40" height="1.40" fill="#ffffff" opacity="0.45"/>
<line x1="372.25" y1="450.20" x2="373.65" y2="450.20" stroke="#999" stroke-width="0.5" opacity="0.6"/>
<line x1="372.25" y1="456.70" x2="373.65" y2="456.70" stroke="#999" stroke-width="0.5" opacity="0.6"/>
<line x1="372.25" y1="463.10" x2="373.65" y2="463.10" stroke="#999" stroke-width="0.5" opacity="0.6"/>
<line x1="372.15" y1="469.60" x2="373.75" y2="469.60" stroke="#555" stroke-width="0.6" />
<line x1="372.95" y1="468.80" x2="372.95" y2="470.40" stroke="#555" stroke-width="0.6" />
<rect x="371.05" y="473.90" width="3.80" height="3.80" fill="#283c8c" />
<rect x="372.25" y="475.10" width="1.40" height="1.40" fill="#ffffff" opacity="0.45"/>
<line x1="403.20" y1="450.20" x2="404.60" y2="450.20" stroke="#999" stroke-width="0.5" opacity="0.6"/>
<line x1="403.20" y1="456.70" x2="404.60" y2="456.70" stroke="#999" stroke-width="0.5" opacity="0.6"/>
<line x1="403.10" y1="463.10" x2="404.70" y2="463.10" stroke="#555" stroke-width="0.6" />
<line x1="403.90" y1="462.30" x2="403.90" y2="463.90" stroke="#555" stroke-width="0.6" />
<line x1="403.20" y1="469.60" x2="404.60" y2="469.60" stroke="#999" stroke-width="0.5" opacity="0.6"/>
<rect x="402.00" y="473.90" width="3.80" height="3.80" fill="#14148c" />
<rect x="403.20" y="475.10" width="1.40" height="1.40" fill="#ffffff" opacity="0.45"/>
<line x1="434.15" y1="450.20" x2="435.55" y2="450.20" stroke="#999" stroke-width="0.5" opacity="0.6"/>
<line x1="434.05" y1="456.70" x2="435.65" y2="456.70" stroke="#555" stroke-width="0.6" />
<line x1="434.85" y1="455.90" x2="434.85" y2="457.50" stroke="#555" stroke-width="0.6" />
<line x1="434.15" y1="463.10" x2="435.55" y2="463.10" stroke="#999" stroke-width="0.5" opacity="0.6"/>
<line x1="434.15" y1="469.60" x2="435.55" y2="469.60" stroke="#999" stroke-width="0.5" opacity="0.6"/>
<rect x="432.95" y="473.90" width="3.80" height="3.80" fill="#3c1ea0" />
<rect x="434.15" y="475.10" width="1.40" height="1.40" fill="#ffffff" opacity="0.45"/>
<line x1="465.00" y1="450.20" x2="466.60" y2="450.20" stroke="#555" stroke-width="0.6" />
<line x1="465.80" y1="449.40" x2="465.80" y2="451.00" stroke="#555" stroke-width="0.6" />
<line x1="465.10" y1="456.70" x2="466.50" y2="456.70" stroke="#999" stroke-width="0.5" opacity="0.6"/>
<line x1="465.10" y1="463.10" x2="466.50" y2="463.10" stroke="#999" stroke-width="0.5" opacity="0.6"/>
<line x1="465.10" y1="469.60" x2="466.50" y2="469.60" stroke="#999" stroke-width="0.5" opacity="0.6"/>
<rect x="463.90" y="473.90" width="3.80" height="3.80" fill="#783c8c" />
<rect x="465.10" y="475.10" width="1.40" height="1.40" fill="#ffffff" opacity="0.45"/>
<line x1="496.05" y1="450.20" x2="497.45" y2="450.20" stroke="#999" stroke-width="0.5" opacity="0.6"/>
<line x1="496.05" y1="456.70" x2="497.45" y2="456.70" stroke="#999" stroke-width="0.5" opacity="0.6"/>
<line x1="496.05" y1="463.10" x2="497.45" y2="463.10" stroke="#999" stroke-width="0.5" opacity="0.6"/>
<line x1="496.05" y1="469.60" x2="497.45" y2="469.60" stroke="#999" stroke-width="0.5" opacity="0.6"/>
<rect x="494.85" y="473.90" width="3.80" height="3.80" fill="#823282" />
<rect x="496.05" y="475.10" width="1.40" height="1.40" fill="#ffffff" opacity="0.45"/>
</svg></body></html>
